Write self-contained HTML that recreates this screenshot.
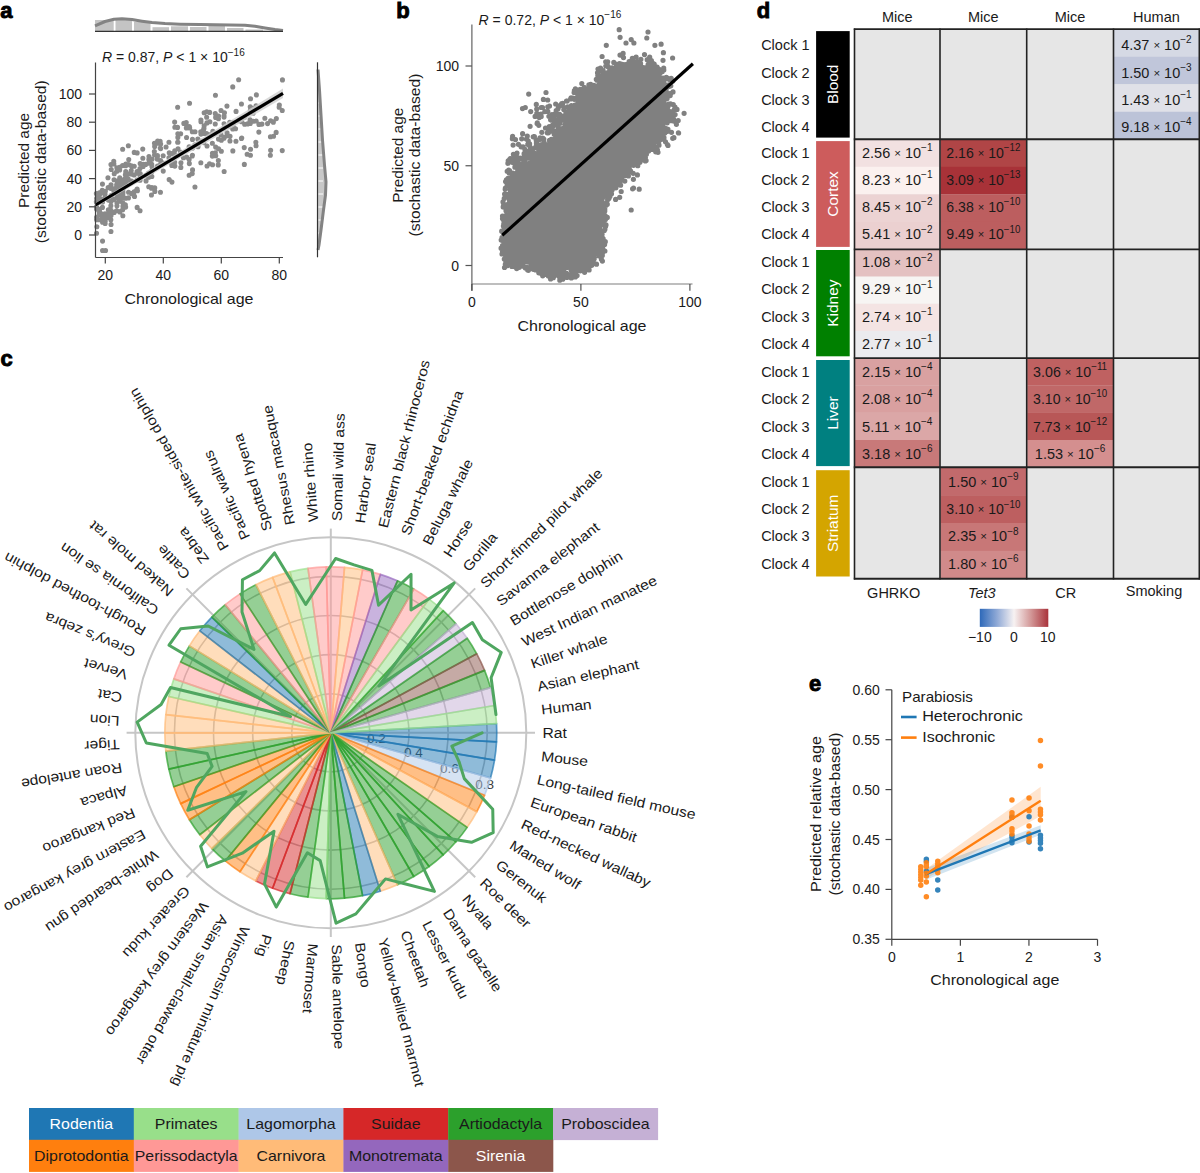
<!DOCTYPE html>
<html><head><meta charset="utf-8"><style>html,body{margin:0;padding:0;background:#fff;}svg{display:block;}</style></head><body>
<svg width="1200" height="1173" viewBox="0 0 1200 1173">
<g font-family='"Liberation Sans", sans-serif' fill="#1a1a1a">
<text x="0.30" y="18.20" font-size="22" fill="#000" font-weight="bold" stroke="#000" stroke-width="0.9">a</text>
<rect x="95.00" y="20.00" width="18.70" height="11.30" fill="#c4c4c4"/>
<rect x="115.50" y="19.20" width="16.50" height="12.10" fill="#c4c4c4"/>
<rect x="134.00" y="21.70" width="16.50" height="9.60" fill="#c4c4c4"/>
<rect x="152.50" y="27.20" width="16.50" height="4.10" fill="#c4c4c4"/>
<rect x="171.00" y="26.30" width="17.00" height="5.00" fill="#c4c4c4"/>
<rect x="190.00" y="27.00" width="16.50" height="4.30" fill="#c4c4c4"/>
<rect x="208.50" y="26.00" width="16.50" height="5.30" fill="#c4c4c4"/>
<rect x="227.00" y="28.00" width="16.50" height="3.30" fill="#c4c4c4"/>
<rect x="245.50" y="29.50" width="17.50" height="1.80" fill="#c4c4c4"/>
<path d="M95.00 25.80L105.00 21.50L114.00 19.20L122.00 18.80L132.00 19.60L142.00 21.20L152.00 22.60L165.00 23.60L180.00 24.20L200.00 24.60L215.00 24.80L230.00 25.00L245.00 25.20L255.00 26.20L265.00 28.00L275.00 29.60L283.00 30.60" fill="none" stroke="#838383" stroke-width="3" stroke-linejoin="round"/>
<line x1="95.00" y1="31.30" x2="283.00" y2="31.30" stroke="#333" stroke-width="1.2"/>
<path d="M318.00 69.50L318.00 69.50L319.50 90.00L321.00 115.00L322.50 140.00L324.50 165.00L326.00 182.00L325.50 195.00L323.50 210.00L321.00 230.00L319.00 245.00L318.00 250.00L318.00 250.00Z" fill="#c8c8c8" stroke="none" stroke-width="1"/>
<line x1="318.30" y1="90.00" x2="323.00" y2="90.00" stroke="#fff" stroke-width="1"/>
<line x1="318.30" y1="103.00" x2="323.00" y2="103.00" stroke="#fff" stroke-width="1"/>
<line x1="318.30" y1="116.00" x2="323.00" y2="116.00" stroke="#fff" stroke-width="1"/>
<line x1="318.30" y1="129.00" x2="323.00" y2="129.00" stroke="#fff" stroke-width="1"/>
<line x1="318.30" y1="142.00" x2="323.00" y2="142.00" stroke="#fff" stroke-width="1"/>
<line x1="318.30" y1="155.00" x2="323.00" y2="155.00" stroke="#fff" stroke-width="1"/>
<line x1="318.30" y1="168.00" x2="323.00" y2="168.00" stroke="#fff" stroke-width="1"/>
<line x1="318.30" y1="181.00" x2="323.00" y2="181.00" stroke="#fff" stroke-width="1"/>
<line x1="318.30" y1="194.00" x2="323.00" y2="194.00" stroke="#fff" stroke-width="1"/>
<line x1="318.30" y1="207.00" x2="323.00" y2="207.00" stroke="#fff" stroke-width="1"/>
<line x1="318.30" y1="220.00" x2="323.00" y2="220.00" stroke="#fff" stroke-width="1"/>
<line x1="318.30" y1="233.00" x2="323.00" y2="233.00" stroke="#fff" stroke-width="1"/>
<line x1="318.30" y1="246.00" x2="323.00" y2="246.00" stroke="#fff" stroke-width="1"/>
<path d="M318.00 69.50L319.50 90.00L321.00 115.00L322.50 140.00L324.50 165.00L326.00 182.00L325.50 195.00L323.50 210.00L321.00 230.00L319.00 245.00L318.00 250.00" fill="none" stroke="#838383" stroke-width="3" stroke-linejoin="round"/>
<line x1="317.50" y1="62.30" x2="317.50" y2="257.30" stroke="#333" stroke-width="1.2"/>
<path d="M99.6 192.9a2.55 2.55 0 1 0 5.1 0a2.55 2.55 0 1 0 -5.1 0M94.0 217.2a2.55 2.55 0 1 0 5.1 0a2.55 2.55 0 1 0 -5.1 0M93.8 201.8a2.55 2.55 0 1 0 5.1 0a2.55 2.55 0 1 0 -5.1 0M102.5 213.8a2.55 2.55 0 1 0 5.1 0a2.55 2.55 0 1 0 -5.1 0M94.1 217.3a2.55 2.55 0 1 0 5.1 0a2.55 2.55 0 1 0 -5.1 0M97.0 212.2a2.55 2.55 0 1 0 5.1 0a2.55 2.55 0 1 0 -5.1 0M94.3 226.8a2.55 2.55 0 1 0 5.1 0a2.55 2.55 0 1 0 -5.1 0M94.1 219.7a2.55 2.55 0 1 0 5.1 0a2.55 2.55 0 1 0 -5.1 0M96.7 212.7a2.55 2.55 0 1 0 5.1 0a2.55 2.55 0 1 0 -5.1 0M99.9 199.8a2.55 2.55 0 1 0 5.1 0a2.55 2.55 0 1 0 -5.1 0M96.8 192.8a2.55 2.55 0 1 0 5.1 0a2.55 2.55 0 1 0 -5.1 0M94.1 198.5a2.55 2.55 0 1 0 5.1 0a2.55 2.55 0 1 0 -5.1 0M94.0 233.3a2.55 2.55 0 1 0 5.1 0a2.55 2.55 0 1 0 -5.1 0M102.9 216.8a2.55 2.55 0 1 0 5.1 0a2.55 2.55 0 1 0 -5.1 0M102.6 223.5a2.55 2.55 0 1 0 5.1 0a2.55 2.55 0 1 0 -5.1 0M97.1 219.8a2.55 2.55 0 1 0 5.1 0a2.55 2.55 0 1 0 -5.1 0M96.9 197.9a2.55 2.55 0 1 0 5.1 0a2.55 2.55 0 1 0 -5.1 0M100.0 201.9a2.55 2.55 0 1 0 5.1 0a2.55 2.55 0 1 0 -5.1 0M99.9 214.0a2.55 2.55 0 1 0 5.1 0a2.55 2.55 0 1 0 -5.1 0M97.1 214.5a2.55 2.55 0 1 0 5.1 0a2.55 2.55 0 1 0 -5.1 0M97.2 194.2a2.55 2.55 0 1 0 5.1 0a2.55 2.55 0 1 0 -5.1 0M94.2 218.9a2.55 2.55 0 1 0 5.1 0a2.55 2.55 0 1 0 -5.1 0M99.8 217.3a2.55 2.55 0 1 0 5.1 0a2.55 2.55 0 1 0 -5.1 0M102.5 194.2a2.55 2.55 0 1 0 5.1 0a2.55 2.55 0 1 0 -5.1 0M94.1 193.7a2.55 2.55 0 1 0 5.1 0a2.55 2.55 0 1 0 -5.1 0M94.2 218.3a2.55 2.55 0 1 0 5.1 0a2.55 2.55 0 1 0 -5.1 0M100.0 241.1a2.55 2.55 0 1 0 5.1 0a2.55 2.55 0 1 0 -5.1 0M100.0 250.5a2.55 2.55 0 1 0 5.1 0a2.55 2.55 0 1 0 -5.1 0M99.7 190.3a2.55 2.55 0 1 0 5.1 0a2.55 2.55 0 1 0 -5.1 0M94.0 209.1a2.55 2.55 0 1 0 5.1 0a2.55 2.55 0 1 0 -5.1 0M96.8 209.3a2.55 2.55 0 1 0 5.1 0a2.55 2.55 0 1 0 -5.1 0M103.0 216.4a2.55 2.55 0 1 0 5.1 0a2.55 2.55 0 1 0 -5.1 0M102.8 191.3a2.55 2.55 0 1 0 5.1 0a2.55 2.55 0 1 0 -5.1 0M97.1 201.4a2.55 2.55 0 1 0 5.1 0a2.55 2.55 0 1 0 -5.1 0M100.0 222.3a2.55 2.55 0 1 0 5.1 0a2.55 2.55 0 1 0 -5.1 0M103.0 250.5a2.55 2.55 0 1 0 5.1 0a2.55 2.55 0 1 0 -5.1 0M97.0 201.9a2.55 2.55 0 1 0 5.1 0a2.55 2.55 0 1 0 -5.1 0M94.0 206.9a2.55 2.55 0 1 0 5.1 0a2.55 2.55 0 1 0 -5.1 0M96.9 210.4a2.55 2.55 0 1 0 5.1 0a2.55 2.55 0 1 0 -5.1 0M99.9 207.4a2.55 2.55 0 1 0 5.1 0a2.55 2.55 0 1 0 -5.1 0M99.9 184.1a2.55 2.55 0 1 0 5.1 0a2.55 2.55 0 1 0 -5.1 0M94.0 219.3a2.55 2.55 0 1 0 5.1 0a2.55 2.55 0 1 0 -5.1 0M102.7 221.1a2.55 2.55 0 1 0 5.1 0a2.55 2.55 0 1 0 -5.1 0M102.5 197.4a2.55 2.55 0 1 0 5.1 0a2.55 2.55 0 1 0 -5.1 0M93.8 193.6a2.55 2.55 0 1 0 5.1 0a2.55 2.55 0 1 0 -5.1 0M117.0 194.5a2.55 2.55 0 1 0 5.1 0a2.55 2.55 0 1 0 -5.1 0M105.9 217.5a2.55 2.55 0 1 0 5.1 0a2.55 2.55 0 1 0 -5.1 0M117.0 201.2a2.55 2.55 0 1 0 5.1 0a2.55 2.55 0 1 0 -5.1 0M123.1 185.6a2.55 2.55 0 1 0 5.1 0a2.55 2.55 0 1 0 -5.1 0M111.5 179.7a2.55 2.55 0 1 0 5.1 0a2.55 2.55 0 1 0 -5.1 0M114.6 170.5a2.55 2.55 0 1 0 5.1 0a2.55 2.55 0 1 0 -5.1 0M114.3 171.2a2.55 2.55 0 1 0 5.1 0a2.55 2.55 0 1 0 -5.1 0M111.4 188.8a2.55 2.55 0 1 0 5.1 0a2.55 2.55 0 1 0 -5.1 0M111.4 191.5a2.55 2.55 0 1 0 5.1 0a2.55 2.55 0 1 0 -5.1 0M120.4 189.4a2.55 2.55 0 1 0 5.1 0a2.55 2.55 0 1 0 -5.1 0M117.2 189.6a2.55 2.55 0 1 0 5.1 0a2.55 2.55 0 1 0 -5.1 0M120.2 195.1a2.55 2.55 0 1 0 5.1 0a2.55 2.55 0 1 0 -5.1 0M120.4 192.4a2.55 2.55 0 1 0 5.1 0a2.55 2.55 0 1 0 -5.1 0M120.4 179.7a2.55 2.55 0 1 0 5.1 0a2.55 2.55 0 1 0 -5.1 0M111.6 212.4a2.55 2.55 0 1 0 5.1 0a2.55 2.55 0 1 0 -5.1 0M117.3 212.0a2.55 2.55 0 1 0 5.1 0a2.55 2.55 0 1 0 -5.1 0M117.4 197.9a2.55 2.55 0 1 0 5.1 0a2.55 2.55 0 1 0 -5.1 0M123.2 171.5a2.55 2.55 0 1 0 5.1 0a2.55 2.55 0 1 0 -5.1 0M120.3 215.8a2.55 2.55 0 1 0 5.1 0a2.55 2.55 0 1 0 -5.1 0M108.3 212.7a2.55 2.55 0 1 0 5.1 0a2.55 2.55 0 1 0 -5.1 0M105.8 200.1a2.55 2.55 0 1 0 5.1 0a2.55 2.55 0 1 0 -5.1 0M114.6 195.6a2.55 2.55 0 1 0 5.1 0a2.55 2.55 0 1 0 -5.1 0M114.5 168.2a2.55 2.55 0 1 0 5.1 0a2.55 2.55 0 1 0 -5.1 0M120.1 149.3a2.55 2.55 0 1 0 5.1 0a2.55 2.55 0 1 0 -5.1 0M108.3 200.1a2.55 2.55 0 1 0 5.1 0a2.55 2.55 0 1 0 -5.1 0M114.4 190.4a2.55 2.55 0 1 0 5.1 0a2.55 2.55 0 1 0 -5.1 0M117.5 181.9a2.55 2.55 0 1 0 5.1 0a2.55 2.55 0 1 0 -5.1 0M114.4 181.0a2.55 2.55 0 1 0 5.1 0a2.55 2.55 0 1 0 -5.1 0M123.1 198.3a2.55 2.55 0 1 0 5.1 0a2.55 2.55 0 1 0 -5.1 0M114.3 188.4a2.55 2.55 0 1 0 5.1 0a2.55 2.55 0 1 0 -5.1 0M108.5 224.5a2.55 2.55 0 1 0 5.1 0a2.55 2.55 0 1 0 -5.1 0M120.4 206.4a2.55 2.55 0 1 0 5.1 0a2.55 2.55 0 1 0 -5.1 0M114.3 167.7a2.55 2.55 0 1 0 5.1 0a2.55 2.55 0 1 0 -5.1 0M120.0 165.6a2.55 2.55 0 1 0 5.1 0a2.55 2.55 0 1 0 -5.1 0M108.3 205.8a2.55 2.55 0 1 0 5.1 0a2.55 2.55 0 1 0 -5.1 0M117.0 167.4a2.55 2.55 0 1 0 5.1 0a2.55 2.55 0 1 0 -5.1 0M123.1 207.1a2.55 2.55 0 1 0 5.1 0a2.55 2.55 0 1 0 -5.1 0M114.4 202.8a2.55 2.55 0 1 0 5.1 0a2.55 2.55 0 1 0 -5.1 0M108.3 210.1a2.55 2.55 0 1 0 5.1 0a2.55 2.55 0 1 0 -5.1 0M123.1 165.8a2.55 2.55 0 1 0 5.1 0a2.55 2.55 0 1 0 -5.1 0M108.5 201.4a2.55 2.55 0 1 0 5.1 0a2.55 2.55 0 1 0 -5.1 0M122.8 178.2a2.55 2.55 0 1 0 5.1 0a2.55 2.55 0 1 0 -5.1 0M108.4 164.5a2.55 2.55 0 1 0 5.1 0a2.55 2.55 0 1 0 -5.1 0M108.6 195.6a2.55 2.55 0 1 0 5.1 0a2.55 2.55 0 1 0 -5.1 0M122.8 204.9a2.55 2.55 0 1 0 5.1 0a2.55 2.55 0 1 0 -5.1 0M120.2 202.7a2.55 2.55 0 1 0 5.1 0a2.55 2.55 0 1 0 -5.1 0M117.2 177.8a2.55 2.55 0 1 0 5.1 0a2.55 2.55 0 1 0 -5.1 0M117.3 186.1a2.55 2.55 0 1 0 5.1 0a2.55 2.55 0 1 0 -5.1 0M123.0 182.8a2.55 2.55 0 1 0 5.1 0a2.55 2.55 0 1 0 -5.1 0M108.3 219.7a2.55 2.55 0 1 0 5.1 0a2.55 2.55 0 1 0 -5.1 0M108.5 215.4a2.55 2.55 0 1 0 5.1 0a2.55 2.55 0 1 0 -5.1 0M120.3 186.9a2.55 2.55 0 1 0 5.1 0a2.55 2.55 0 1 0 -5.1 0M117.3 188.6a2.55 2.55 0 1 0 5.1 0a2.55 2.55 0 1 0 -5.1 0M122.8 184.1a2.55 2.55 0 1 0 5.1 0a2.55 2.55 0 1 0 -5.1 0M108.4 231.5a2.55 2.55 0 1 0 5.1 0a2.55 2.55 0 1 0 -5.1 0M122.8 174.7a2.55 2.55 0 1 0 5.1 0a2.55 2.55 0 1 0 -5.1 0M105.6 187.6a2.55 2.55 0 1 0 5.1 0a2.55 2.55 0 1 0 -5.1 0M117.1 169.9a2.55 2.55 0 1 0 5.1 0a2.55 2.55 0 1 0 -5.1 0M111.4 199.4a2.55 2.55 0 1 0 5.1 0a2.55 2.55 0 1 0 -5.1 0M117.1 185.6a2.55 2.55 0 1 0 5.1 0a2.55 2.55 0 1 0 -5.1 0M117.5 211.6a2.55 2.55 0 1 0 5.1 0a2.55 2.55 0 1 0 -5.1 0M111.3 163.9a2.55 2.55 0 1 0 5.1 0a2.55 2.55 0 1 0 -5.1 0M114.1 210.8a2.55 2.55 0 1 0 5.1 0a2.55 2.55 0 1 0 -5.1 0M105.8 209.8a2.55 2.55 0 1 0 5.1 0a2.55 2.55 0 1 0 -5.1 0M114.1 184.9a2.55 2.55 0 1 0 5.1 0a2.55 2.55 0 1 0 -5.1 0M120.3 194.1a2.55 2.55 0 1 0 5.1 0a2.55 2.55 0 1 0 -5.1 0M120.2 183.1a2.55 2.55 0 1 0 5.1 0a2.55 2.55 0 1 0 -5.1 0M111.7 173.7a2.55 2.55 0 1 0 5.1 0a2.55 2.55 0 1 0 -5.1 0M108.7 169.5a2.55 2.55 0 1 0 5.1 0a2.55 2.55 0 1 0 -5.1 0M105.9 214.0a2.55 2.55 0 1 0 5.1 0a2.55 2.55 0 1 0 -5.1 0M122.9 178.2a2.55 2.55 0 1 0 5.1 0a2.55 2.55 0 1 0 -5.1 0M120.1 209.8a2.55 2.55 0 1 0 5.1 0a2.55 2.55 0 1 0 -5.1 0M108.5 188.4a2.55 2.55 0 1 0 5.1 0a2.55 2.55 0 1 0 -5.1 0M105.7 198.9a2.55 2.55 0 1 0 5.1 0a2.55 2.55 0 1 0 -5.1 0M114.5 197.4a2.55 2.55 0 1 0 5.1 0a2.55 2.55 0 1 0 -5.1 0M114.4 205.7a2.55 2.55 0 1 0 5.1 0a2.55 2.55 0 1 0 -5.1 0M105.4 177.7a2.55 2.55 0 1 0 5.1 0a2.55 2.55 0 1 0 -5.1 0M122.8 185.2a2.55 2.55 0 1 0 5.1 0a2.55 2.55 0 1 0 -5.1 0M111.2 161.2a2.55 2.55 0 1 0 5.1 0a2.55 2.55 0 1 0 -5.1 0M123.2 178.0a2.55 2.55 0 1 0 5.1 0a2.55 2.55 0 1 0 -5.1 0M123.3 164.1a2.55 2.55 0 1 0 5.1 0a2.55 2.55 0 1 0 -5.1 0M123.1 173.6a2.55 2.55 0 1 0 5.1 0a2.55 2.55 0 1 0 -5.1 0M117.3 198.4a2.55 2.55 0 1 0 5.1 0a2.55 2.55 0 1 0 -5.1 0M120.3 197.7a2.55 2.55 0 1 0 5.1 0a2.55 2.55 0 1 0 -5.1 0M108.5 184.8a2.55 2.55 0 1 0 5.1 0a2.55 2.55 0 1 0 -5.1 0M128.6 181.7a2.55 2.55 0 1 0 5.1 0a2.55 2.55 0 1 0 -5.1 0M137.3 174.6a2.55 2.55 0 1 0 5.1 0a2.55 2.55 0 1 0 -5.1 0M134.6 152.9a2.55 2.55 0 1 0 5.1 0a2.55 2.55 0 1 0 -5.1 0M140.7 164.4a2.55 2.55 0 1 0 5.1 0a2.55 2.55 0 1 0 -5.1 0M143.1 164.4a2.55 2.55 0 1 0 5.1 0a2.55 2.55 0 1 0 -5.1 0M149.3 176.5a2.55 2.55 0 1 0 5.1 0a2.55 2.55 0 1 0 -5.1 0M128.7 170.6a2.55 2.55 0 1 0 5.1 0a2.55 2.55 0 1 0 -5.1 0M137.6 179.3a2.55 2.55 0 1 0 5.1 0a2.55 2.55 0 1 0 -5.1 0M149.2 170.9a2.55 2.55 0 1 0 5.1 0a2.55 2.55 0 1 0 -5.1 0M131.6 191.7a2.55 2.55 0 1 0 5.1 0a2.55 2.55 0 1 0 -5.1 0M125.7 179.0a2.55 2.55 0 1 0 5.1 0a2.55 2.55 0 1 0 -5.1 0M149.2 171.7a2.55 2.55 0 1 0 5.1 0a2.55 2.55 0 1 0 -5.1 0M134.6 189.1a2.55 2.55 0 1 0 5.1 0a2.55 2.55 0 1 0 -5.1 0M143.4 175.3a2.55 2.55 0 1 0 5.1 0a2.55 2.55 0 1 0 -5.1 0M149.2 164.4a2.55 2.55 0 1 0 5.1 0a2.55 2.55 0 1 0 -5.1 0M134.9 190.7a2.55 2.55 0 1 0 5.1 0a2.55 2.55 0 1 0 -5.1 0M140.6 166.5a2.55 2.55 0 1 0 5.1 0a2.55 2.55 0 1 0 -5.1 0M131.7 152.4a2.55 2.55 0 1 0 5.1 0a2.55 2.55 0 1 0 -5.1 0M140.2 149.1a2.55 2.55 0 1 0 5.1 0a2.55 2.55 0 1 0 -5.1 0M137.5 180.2a2.55 2.55 0 1 0 5.1 0a2.55 2.55 0 1 0 -5.1 0M126.2 159.5a2.55 2.55 0 1 0 5.1 0a2.55 2.55 0 1 0 -5.1 0M137.6 163.5a2.55 2.55 0 1 0 5.1 0a2.55 2.55 0 1 0 -5.1 0M137.4 168.5a2.55 2.55 0 1 0 5.1 0a2.55 2.55 0 1 0 -5.1 0M125.8 180.3a2.55 2.55 0 1 0 5.1 0a2.55 2.55 0 1 0 -5.1 0M140.3 158.3a2.55 2.55 0 1 0 5.1 0a2.55 2.55 0 1 0 -5.1 0M137.4 180.2a2.55 2.55 0 1 0 5.1 0a2.55 2.55 0 1 0 -5.1 0M131.7 166.2a2.55 2.55 0 1 0 5.1 0a2.55 2.55 0 1 0 -5.1 0M149.2 171.5a2.55 2.55 0 1 0 5.1 0a2.55 2.55 0 1 0 -5.1 0M134.5 180.0a2.55 2.55 0 1 0 5.1 0a2.55 2.55 0 1 0 -5.1 0M128.6 181.5a2.55 2.55 0 1 0 5.1 0a2.55 2.55 0 1 0 -5.1 0M126.0 192.2a2.55 2.55 0 1 0 5.1 0a2.55 2.55 0 1 0 -5.1 0M128.9 174.1a2.55 2.55 0 1 0 5.1 0a2.55 2.55 0 1 0 -5.1 0M149.4 166.6a2.55 2.55 0 1 0 5.1 0a2.55 2.55 0 1 0 -5.1 0M143.5 180.9a2.55 2.55 0 1 0 5.1 0a2.55 2.55 0 1 0 -5.1 0M146.3 159.6a2.55 2.55 0 1 0 5.1 0a2.55 2.55 0 1 0 -5.1 0M126.1 164.6a2.55 2.55 0 1 0 5.1 0a2.55 2.55 0 1 0 -5.1 0M149.3 187.5a2.55 2.55 0 1 0 5.1 0a2.55 2.55 0 1 0 -5.1 0M132.0 196.5a2.55 2.55 0 1 0 5.1 0a2.55 2.55 0 1 0 -5.1 0M148.9 195.0a2.55 2.55 0 1 0 5.1 0a2.55 2.55 0 1 0 -5.1 0M134.4 189.4a2.55 2.55 0 1 0 5.1 0a2.55 2.55 0 1 0 -5.1 0M125.7 173.9a2.55 2.55 0 1 0 5.1 0a2.55 2.55 0 1 0 -5.1 0M146.3 163.1a2.55 2.55 0 1 0 5.1 0a2.55 2.55 0 1 0 -5.1 0M125.9 197.8a2.55 2.55 0 1 0 5.1 0a2.55 2.55 0 1 0 -5.1 0M125.9 198.0a2.55 2.55 0 1 0 5.1 0a2.55 2.55 0 1 0 -5.1 0M128.9 181.6a2.55 2.55 0 1 0 5.1 0a2.55 2.55 0 1 0 -5.1 0M148.9 188.2a2.55 2.55 0 1 0 5.1 0a2.55 2.55 0 1 0 -5.1 0M146.1 173.0a2.55 2.55 0 1 0 5.1 0a2.55 2.55 0 1 0 -5.1 0M134.5 173.1a2.55 2.55 0 1 0 5.1 0a2.55 2.55 0 1 0 -5.1 0M146.2 186.8a2.55 2.55 0 1 0 5.1 0a2.55 2.55 0 1 0 -5.1 0M137.7 176.7a2.55 2.55 0 1 0 5.1 0a2.55 2.55 0 1 0 -5.1 0M134.5 171.6a2.55 2.55 0 1 0 5.1 0a2.55 2.55 0 1 0 -5.1 0M137.6 173.5a2.55 2.55 0 1 0 5.1 0a2.55 2.55 0 1 0 -5.1 0M131.6 175.0a2.55 2.55 0 1 0 5.1 0a2.55 2.55 0 1 0 -5.1 0M129.0 181.0a2.55 2.55 0 1 0 5.1 0a2.55 2.55 0 1 0 -5.1 0M146.2 177.3a2.55 2.55 0 1 0 5.1 0a2.55 2.55 0 1 0 -5.1 0M146.4 156.5a2.55 2.55 0 1 0 5.1 0a2.55 2.55 0 1 0 -5.1 0M149.4 159.3a2.55 2.55 0 1 0 5.1 0a2.55 2.55 0 1 0 -5.1 0M125.8 145.8a2.55 2.55 0 1 0 5.1 0a2.55 2.55 0 1 0 -5.1 0M128.8 165.7a2.55 2.55 0 1 0 5.1 0a2.55 2.55 0 1 0 -5.1 0M137.5 210.7a2.55 2.55 0 1 0 5.1 0a2.55 2.55 0 1 0 -5.1 0M134.8 173.1a2.55 2.55 0 1 0 5.1 0a2.55 2.55 0 1 0 -5.1 0M137.8 174.4a2.55 2.55 0 1 0 5.1 0a2.55 2.55 0 1 0 -5.1 0M131.6 195.9a2.55 2.55 0 1 0 5.1 0a2.55 2.55 0 1 0 -5.1 0M129.0 193.5a2.55 2.55 0 1 0 5.1 0a2.55 2.55 0 1 0 -5.1 0M134.6 207.4a2.55 2.55 0 1 0 5.1 0a2.55 2.55 0 1 0 -5.1 0M154.7 159.1a2.55 2.55 0 1 0 5.1 0a2.55 2.55 0 1 0 -5.1 0M160.9 163.3a2.55 2.55 0 1 0 5.1 0a2.55 2.55 0 1 0 -5.1 0M160.7 171.1a2.55 2.55 0 1 0 5.1 0a2.55 2.55 0 1 0 -5.1 0M157.7 148.1a2.55 2.55 0 1 0 5.1 0a2.55 2.55 0 1 0 -5.1 0M158.1 148.6a2.55 2.55 0 1 0 5.1 0a2.55 2.55 0 1 0 -5.1 0M151.8 151.5a2.55 2.55 0 1 0 5.1 0a2.55 2.55 0 1 0 -5.1 0M166.4 157.7a2.55 2.55 0 1 0 5.1 0a2.55 2.55 0 1 0 -5.1 0M158.1 144.0a2.55 2.55 0 1 0 5.1 0a2.55 2.55 0 1 0 -5.1 0M152.0 154.9a2.55 2.55 0 1 0 5.1 0a2.55 2.55 0 1 0 -5.1 0M160.6 155.7a2.55 2.55 0 1 0 5.1 0a2.55 2.55 0 1 0 -5.1 0M152.3 191.4a2.55 2.55 0 1 0 5.1 0a2.55 2.55 0 1 0 -5.1 0M158.1 164.0a2.55 2.55 0 1 0 5.1 0a2.55 2.55 0 1 0 -5.1 0M160.8 163.4a2.55 2.55 0 1 0 5.1 0a2.55 2.55 0 1 0 -5.1 0M154.9 155.6a2.55 2.55 0 1 0 5.1 0a2.55 2.55 0 1 0 -5.1 0M152.2 187.9a2.55 2.55 0 1 0 5.1 0a2.55 2.55 0 1 0 -5.1 0M166.6 179.6a2.55 2.55 0 1 0 5.1 0a2.55 2.55 0 1 0 -5.1 0M155.1 141.0a2.55 2.55 0 1 0 5.1 0a2.55 2.55 0 1 0 -5.1 0M152.1 146.4a2.55 2.55 0 1 0 5.1 0a2.55 2.55 0 1 0 -5.1 0M155.0 166.0a2.55 2.55 0 1 0 5.1 0a2.55 2.55 0 1 0 -5.1 0M157.9 192.2a2.55 2.55 0 1 0 5.1 0a2.55 2.55 0 1 0 -5.1 0M154.9 156.5a2.55 2.55 0 1 0 5.1 0a2.55 2.55 0 1 0 -5.1 0M158.0 160.5a2.55 2.55 0 1 0 5.1 0a2.55 2.55 0 1 0 -5.1 0M166.4 142.2a2.55 2.55 0 1 0 5.1 0a2.55 2.55 0 1 0 -5.1 0M166.7 152.7a2.55 2.55 0 1 0 5.1 0a2.55 2.55 0 1 0 -5.1 0M151.9 143.2a2.55 2.55 0 1 0 5.1 0a2.55 2.55 0 1 0 -5.1 0M155.1 143.3a2.55 2.55 0 1 0 5.1 0a2.55 2.55 0 1 0 -5.1 0M163.5 147.0a2.55 2.55 0 1 0 5.1 0a2.55 2.55 0 1 0 -5.1 0M157.6 141.2a2.55 2.55 0 1 0 5.1 0a2.55 2.55 0 1 0 -5.1 0M172.2 150.8a2.55 2.55 0 1 0 5.1 0a2.55 2.55 0 1 0 -5.1 0M172.2 154.8a2.55 2.55 0 1 0 5.1 0a2.55 2.55 0 1 0 -5.1 0M175.4 142.3a2.55 2.55 0 1 0 5.1 0a2.55 2.55 0 1 0 -5.1 0M172.3 127.2a2.55 2.55 0 1 0 5.1 0a2.55 2.55 0 1 0 -5.1 0M178.3 167.4a2.55 2.55 0 1 0 5.1 0a2.55 2.55 0 1 0 -5.1 0M172.1 162.3a2.55 2.55 0 1 0 5.1 0a2.55 2.55 0 1 0 -5.1 0M175.3 137.4a2.55 2.55 0 1 0 5.1 0a2.55 2.55 0 1 0 -5.1 0M175.3 133.7a2.55 2.55 0 1 0 5.1 0a2.55 2.55 0 1 0 -5.1 0M187.1 127.9a2.55 2.55 0 1 0 5.1 0a2.55 2.55 0 1 0 -5.1 0M169.4 153.6a2.55 2.55 0 1 0 5.1 0a2.55 2.55 0 1 0 -5.1 0M178.1 133.8a2.55 2.55 0 1 0 5.1 0a2.55 2.55 0 1 0 -5.1 0M175.0 127.4a2.55 2.55 0 1 0 5.1 0a2.55 2.55 0 1 0 -5.1 0M169.4 182.1a2.55 2.55 0 1 0 5.1 0a2.55 2.55 0 1 0 -5.1 0M186.9 126.9a2.55 2.55 0 1 0 5.1 0a2.55 2.55 0 1 0 -5.1 0M169.2 164.5a2.55 2.55 0 1 0 5.1 0a2.55 2.55 0 1 0 -5.1 0M186.8 163.6a2.55 2.55 0 1 0 5.1 0a2.55 2.55 0 1 0 -5.1 0M186.6 146.9a2.55 2.55 0 1 0 5.1 0a2.55 2.55 0 1 0 -5.1 0M172.1 122.1a2.55 2.55 0 1 0 5.1 0a2.55 2.55 0 1 0 -5.1 0M187.0 103.3a2.55 2.55 0 1 0 5.1 0a2.55 2.55 0 1 0 -5.1 0M183.7 122.6a2.55 2.55 0 1 0 5.1 0a2.55 2.55 0 1 0 -5.1 0M186.6 175.3a2.55 2.55 0 1 0 5.1 0a2.55 2.55 0 1 0 -5.1 0M186.6 126.6a2.55 2.55 0 1 0 5.1 0a2.55 2.55 0 1 0 -5.1 0M183.8 127.9a2.55 2.55 0 1 0 5.1 0a2.55 2.55 0 1 0 -5.1 0M172.3 166.1a2.55 2.55 0 1 0 5.1 0a2.55 2.55 0 1 0 -5.1 0M186.6 159.4a2.55 2.55 0 1 0 5.1 0a2.55 2.55 0 1 0 -5.1 0M169.3 165.5a2.55 2.55 0 1 0 5.1 0a2.55 2.55 0 1 0 -5.1 0M175.1 107.2a2.55 2.55 0 1 0 5.1 0a2.55 2.55 0 1 0 -5.1 0M181.3 123.4a2.55 2.55 0 1 0 5.1 0a2.55 2.55 0 1 0 -5.1 0M175.5 148.8a2.55 2.55 0 1 0 5.1 0a2.55 2.55 0 1 0 -5.1 0M184.0 137.5a2.55 2.55 0 1 0 5.1 0a2.55 2.55 0 1 0 -5.1 0M180.9 157.7a2.55 2.55 0 1 0 5.1 0a2.55 2.55 0 1 0 -5.1 0M177.9 152.0a2.55 2.55 0 1 0 5.1 0a2.55 2.55 0 1 0 -5.1 0M178.4 162.7a2.55 2.55 0 1 0 5.1 0a2.55 2.55 0 1 0 -5.1 0M184.1 157.1a2.55 2.55 0 1 0 5.1 0a2.55 2.55 0 1 0 -5.1 0M175.1 142.2a2.55 2.55 0 1 0 5.1 0a2.55 2.55 0 1 0 -5.1 0M189.7 155.9a2.55 2.55 0 1 0 5.1 0a2.55 2.55 0 1 0 -5.1 0M207.0 163.8a2.55 2.55 0 1 0 5.1 0a2.55 2.55 0 1 0 -5.1 0M201.2 142.6a2.55 2.55 0 1 0 5.1 0a2.55 2.55 0 1 0 -5.1 0M198.3 162.7a2.55 2.55 0 1 0 5.1 0a2.55 2.55 0 1 0 -5.1 0M198.6 141.2a2.55 2.55 0 1 0 5.1 0a2.55 2.55 0 1 0 -5.1 0M201.1 129.4a2.55 2.55 0 1 0 5.1 0a2.55 2.55 0 1 0 -5.1 0M210.0 164.8a2.55 2.55 0 1 0 5.1 0a2.55 2.55 0 1 0 -5.1 0M190.0 169.9a2.55 2.55 0 1 0 5.1 0a2.55 2.55 0 1 0 -5.1 0M195.3 139.1a2.55 2.55 0 1 0 5.1 0a2.55 2.55 0 1 0 -5.1 0M195.5 146.7a2.55 2.55 0 1 0 5.1 0a2.55 2.55 0 1 0 -5.1 0M189.9 139.4a2.55 2.55 0 1 0 5.1 0a2.55 2.55 0 1 0 -5.1 0M204.4 122.9a2.55 2.55 0 1 0 5.1 0a2.55 2.55 0 1 0 -5.1 0M192.5 131.7a2.55 2.55 0 1 0 5.1 0a2.55 2.55 0 1 0 -5.1 0M209.8 143.3a2.55 2.55 0 1 0 5.1 0a2.55 2.55 0 1 0 -5.1 0M207.1 112.4a2.55 2.55 0 1 0 5.1 0a2.55 2.55 0 1 0 -5.1 0M192.4 187.0a2.55 2.55 0 1 0 5.1 0a2.55 2.55 0 1 0 -5.1 0M201.6 125.8a2.55 2.55 0 1 0 5.1 0a2.55 2.55 0 1 0 -5.1 0M198.4 134.1a2.55 2.55 0 1 0 5.1 0a2.55 2.55 0 1 0 -5.1 0M201.1 133.4a2.55 2.55 0 1 0 5.1 0a2.55 2.55 0 1 0 -5.1 0M209.9 153.2a2.55 2.55 0 1 0 5.1 0a2.55 2.55 0 1 0 -5.1 0M210.3 131.4a2.55 2.55 0 1 0 5.1 0a2.55 2.55 0 1 0 -5.1 0M189.8 131.8a2.55 2.55 0 1 0 5.1 0a2.55 2.55 0 1 0 -5.1 0M198.2 131.7a2.55 2.55 0 1 0 5.1 0a2.55 2.55 0 1 0 -5.1 0M189.7 173.6a2.55 2.55 0 1 0 5.1 0a2.55 2.55 0 1 0 -5.1 0M190.0 148.1a2.55 2.55 0 1 0 5.1 0a2.55 2.55 0 1 0 -5.1 0M204.2 111.8a2.55 2.55 0 1 0 5.1 0a2.55 2.55 0 1 0 -5.1 0M204.1 117.2a2.55 2.55 0 1 0 5.1 0a2.55 2.55 0 1 0 -5.1 0M204.5 146.0a2.55 2.55 0 1 0 5.1 0a2.55 2.55 0 1 0 -5.1 0M201.6 112.8a2.55 2.55 0 1 0 5.1 0a2.55 2.55 0 1 0 -5.1 0M192.4 144.8a2.55 2.55 0 1 0 5.1 0a2.55 2.55 0 1 0 -5.1 0M198.4 121.7a2.55 2.55 0 1 0 5.1 0a2.55 2.55 0 1 0 -5.1 0M207.3 121.7a2.55 2.55 0 1 0 5.1 0a2.55 2.55 0 1 0 -5.1 0M207.1 134.8a2.55 2.55 0 1 0 5.1 0a2.55 2.55 0 1 0 -5.1 0M189.9 155.2a2.55 2.55 0 1 0 5.1 0a2.55 2.55 0 1 0 -5.1 0M201.4 128.4a2.55 2.55 0 1 0 5.1 0a2.55 2.55 0 1 0 -5.1 0M204.5 166.0a2.55 2.55 0 1 0 5.1 0a2.55 2.55 0 1 0 -5.1 0M209.8 156.1a2.55 2.55 0 1 0 5.1 0a2.55 2.55 0 1 0 -5.1 0M198.4 120.1a2.55 2.55 0 1 0 5.1 0a2.55 2.55 0 1 0 -5.1 0M195.3 144.0a2.55 2.55 0 1 0 5.1 0a2.55 2.55 0 1 0 -5.1 0M204.0 133.6a2.55 2.55 0 1 0 5.1 0a2.55 2.55 0 1 0 -5.1 0M230.2 86.9a2.55 2.55 0 1 0 5.1 0a2.55 2.55 0 1 0 -5.1 0M215.7 164.9a2.55 2.55 0 1 0 5.1 0a2.55 2.55 0 1 0 -5.1 0M230.3 150.9a2.55 2.55 0 1 0 5.1 0a2.55 2.55 0 1 0 -5.1 0M221.4 128.3a2.55 2.55 0 1 0 5.1 0a2.55 2.55 0 1 0 -5.1 0M233.4 141.3a2.55 2.55 0 1 0 5.1 0a2.55 2.55 0 1 0 -5.1 0M216.0 148.7a2.55 2.55 0 1 0 5.1 0a2.55 2.55 0 1 0 -5.1 0M224.5 133.1a2.55 2.55 0 1 0 5.1 0a2.55 2.55 0 1 0 -5.1 0M224.4 106.1a2.55 2.55 0 1 0 5.1 0a2.55 2.55 0 1 0 -5.1 0M221.5 123.7a2.55 2.55 0 1 0 5.1 0a2.55 2.55 0 1 0 -5.1 0M221.5 117.1a2.55 2.55 0 1 0 5.1 0a2.55 2.55 0 1 0 -5.1 0M230.4 124.4a2.55 2.55 0 1 0 5.1 0a2.55 2.55 0 1 0 -5.1 0M215.9 118.7a2.55 2.55 0 1 0 5.1 0a2.55 2.55 0 1 0 -5.1 0M213.1 117.4a2.55 2.55 0 1 0 5.1 0a2.55 2.55 0 1 0 -5.1 0M233.5 111.4a2.55 2.55 0 1 0 5.1 0a2.55 2.55 0 1 0 -5.1 0M212.7 124.0a2.55 2.55 0 1 0 5.1 0a2.55 2.55 0 1 0 -5.1 0M221.9 137.2a2.55 2.55 0 1 0 5.1 0a2.55 2.55 0 1 0 -5.1 0M227.5 136.3a2.55 2.55 0 1 0 5.1 0a2.55 2.55 0 1 0 -5.1 0M212.7 133.6a2.55 2.55 0 1 0 5.1 0a2.55 2.55 0 1 0 -5.1 0M227.2 122.4a2.55 2.55 0 1 0 5.1 0a2.55 2.55 0 1 0 -5.1 0M221.9 112.7a2.55 2.55 0 1 0 5.1 0a2.55 2.55 0 1 0 -5.1 0M212.8 152.7a2.55 2.55 0 1 0 5.1 0a2.55 2.55 0 1 0 -5.1 0M213.1 147.1a2.55 2.55 0 1 0 5.1 0a2.55 2.55 0 1 0 -5.1 0M230.2 129.0a2.55 2.55 0 1 0 5.1 0a2.55 2.55 0 1 0 -5.1 0M221.4 138.3a2.55 2.55 0 1 0 5.1 0a2.55 2.55 0 1 0 -5.1 0M233.0 128.7a2.55 2.55 0 1 0 5.1 0a2.55 2.55 0 1 0 -5.1 0M230.4 126.1a2.55 2.55 0 1 0 5.1 0a2.55 2.55 0 1 0 -5.1 0M218.5 134.7a2.55 2.55 0 1 0 5.1 0a2.55 2.55 0 1 0 -5.1 0M224.5 132.8a2.55 2.55 0 1 0 5.1 0a2.55 2.55 0 1 0 -5.1 0M224.3 135.8a2.55 2.55 0 1 0 5.1 0a2.55 2.55 0 1 0 -5.1 0M227.4 141.0a2.55 2.55 0 1 0 5.1 0a2.55 2.55 0 1 0 -5.1 0M212.9 95.2a2.55 2.55 0 1 0 5.1 0a2.55 2.55 0 1 0 -5.1 0M221.6 171.5a2.55 2.55 0 1 0 5.1 0a2.55 2.55 0 1 0 -5.1 0M230.6 123.8a2.55 2.55 0 1 0 5.1 0a2.55 2.55 0 1 0 -5.1 0M230.1 122.6a2.55 2.55 0 1 0 5.1 0a2.55 2.55 0 1 0 -5.1 0M215.8 160.5a2.55 2.55 0 1 0 5.1 0a2.55 2.55 0 1 0 -5.1 0M218.5 110.5a2.55 2.55 0 1 0 5.1 0a2.55 2.55 0 1 0 -5.1 0M213.2 155.7a2.55 2.55 0 1 0 5.1 0a2.55 2.55 0 1 0 -5.1 0M215.9 139.1a2.55 2.55 0 1 0 5.1 0a2.55 2.55 0 1 0 -5.1 0M227.4 126.6a2.55 2.55 0 1 0 5.1 0a2.55 2.55 0 1 0 -5.1 0M218.8 140.3a2.55 2.55 0 1 0 5.1 0a2.55 2.55 0 1 0 -5.1 0M216.0 116.1a2.55 2.55 0 1 0 5.1 0a2.55 2.55 0 1 0 -5.1 0M221.5 116.1a2.55 2.55 0 1 0 5.1 0a2.55 2.55 0 1 0 -5.1 0M212.7 113.6a2.55 2.55 0 1 0 5.1 0a2.55 2.55 0 1 0 -5.1 0M230.1 127.3a2.55 2.55 0 1 0 5.1 0a2.55 2.55 0 1 0 -5.1 0M218.8 151.2a2.55 2.55 0 1 0 5.1 0a2.55 2.55 0 1 0 -5.1 0M248.0 149.3a2.55 2.55 0 1 0 5.1 0a2.55 2.55 0 1 0 -5.1 0M253.3 142.3a2.55 2.55 0 1 0 5.1 0a2.55 2.55 0 1 0 -5.1 0M247.5 119.9a2.55 2.55 0 1 0 5.1 0a2.55 2.55 0 1 0 -5.1 0M242.1 117.3a2.55 2.55 0 1 0 5.1 0a2.55 2.55 0 1 0 -5.1 0M238.8 118.9a2.55 2.55 0 1 0 5.1 0a2.55 2.55 0 1 0 -5.1 0M247.9 109.7a2.55 2.55 0 1 0 5.1 0a2.55 2.55 0 1 0 -5.1 0M241.7 147.6a2.55 2.55 0 1 0 5.1 0a2.55 2.55 0 1 0 -5.1 0M247.9 155.2a2.55 2.55 0 1 0 5.1 0a2.55 2.55 0 1 0 -5.1 0M250.6 113.2a2.55 2.55 0 1 0 5.1 0a2.55 2.55 0 1 0 -5.1 0M247.7 123.5a2.55 2.55 0 1 0 5.1 0a2.55 2.55 0 1 0 -5.1 0M247.7 106.8a2.55 2.55 0 1 0 5.1 0a2.55 2.55 0 1 0 -5.1 0M236.1 79.8a2.55 2.55 0 1 0 5.1 0a2.55 2.55 0 1 0 -5.1 0M245.0 123.9a2.55 2.55 0 1 0 5.1 0a2.55 2.55 0 1 0 -5.1 0M253.7 107.3a2.55 2.55 0 1 0 5.1 0a2.55 2.55 0 1 0 -5.1 0M244.6 154.2a2.55 2.55 0 1 0 5.1 0a2.55 2.55 0 1 0 -5.1 0M239.2 138.0a2.55 2.55 0 1 0 5.1 0a2.55 2.55 0 1 0 -5.1 0M247.8 111.1a2.55 2.55 0 1 0 5.1 0a2.55 2.55 0 1 0 -5.1 0M236.4 120.6a2.55 2.55 0 1 0 5.1 0a2.55 2.55 0 1 0 -5.1 0M242.1 124.2a2.55 2.55 0 1 0 5.1 0a2.55 2.55 0 1 0 -5.1 0M248.0 98.8a2.55 2.55 0 1 0 5.1 0a2.55 2.55 0 1 0 -5.1 0M250.9 108.6a2.55 2.55 0 1 0 5.1 0a2.55 2.55 0 1 0 -5.1 0M239.1 121.7a2.55 2.55 0 1 0 5.1 0a2.55 2.55 0 1 0 -5.1 0M250.8 121.2a2.55 2.55 0 1 0 5.1 0a2.55 2.55 0 1 0 -5.1 0M238.9 104.0a2.55 2.55 0 1 0 5.1 0a2.55 2.55 0 1 0 -5.1 0M253.8 94.9a2.55 2.55 0 1 0 5.1 0a2.55 2.55 0 1 0 -5.1 0M238.9 138.4a2.55 2.55 0 1 0 5.1 0a2.55 2.55 0 1 0 -5.1 0M253.5 145.7a2.55 2.55 0 1 0 5.1 0a2.55 2.55 0 1 0 -5.1 0M253.6 121.0a2.55 2.55 0 1 0 5.1 0a2.55 2.55 0 1 0 -5.1 0M253.5 105.8a2.55 2.55 0 1 0 5.1 0a2.55 2.55 0 1 0 -5.1 0M241.8 164.4a2.55 2.55 0 1 0 5.1 0a2.55 2.55 0 1 0 -5.1 0M268.1 120.7a2.55 2.55 0 1 0 5.1 0a2.55 2.55 0 1 0 -5.1 0M265.0 123.6a2.55 2.55 0 1 0 5.1 0a2.55 2.55 0 1 0 -5.1 0M262.3 118.3a2.55 2.55 0 1 0 5.1 0a2.55 2.55 0 1 0 -5.1 0M267.9 136.7a2.55 2.55 0 1 0 5.1 0a2.55 2.55 0 1 0 -5.1 0M267.8 155.3a2.55 2.55 0 1 0 5.1 0a2.55 2.55 0 1 0 -5.1 0M279.9 79.9a2.55 2.55 0 1 0 5.1 0a2.55 2.55 0 1 0 -5.1 0M276.8 105.0a2.55 2.55 0 1 0 5.1 0a2.55 2.55 0 1 0 -5.1 0M279.7 150.6a2.55 2.55 0 1 0 5.1 0a2.55 2.55 0 1 0 -5.1 0M273.8 118.6a2.55 2.55 0 1 0 5.1 0a2.55 2.55 0 1 0 -5.1 0M271.0 136.3a2.55 2.55 0 1 0 5.1 0a2.55 2.55 0 1 0 -5.1 0M270.8 122.3a2.55 2.55 0 1 0 5.1 0a2.55 2.55 0 1 0 -5.1 0M256.3 132.1a2.55 2.55 0 1 0 5.1 0a2.55 2.55 0 1 0 -5.1 0M270.8 121.9a2.55 2.55 0 1 0 5.1 0a2.55 2.55 0 1 0 -5.1 0M268.1 150.3a2.55 2.55 0 1 0 5.1 0a2.55 2.55 0 1 0 -5.1 0M273.6 132.4a2.55 2.55 0 1 0 5.1 0a2.55 2.55 0 1 0 -5.1 0M276.6 107.2a2.55 2.55 0 1 0 5.1 0a2.55 2.55 0 1 0 -5.1 0M256.4 124.4a2.55 2.55 0 1 0 5.1 0a2.55 2.55 0 1 0 -5.1 0M259.4 124.1a2.55 2.55 0 1 0 5.1 0a2.55 2.55 0 1 0 -5.1 0M279.7 110.5a2.55 2.55 0 1 0 5.1 0a2.55 2.55 0 1 0 -5.1 0" fill="#8a8a8a"/>
<path d="M95.50 203.00L283.00 88.50L283.00 98.00L95.50 207.20Z" fill="#d0d0d0" stroke="none" stroke-width="1" opacity="0.8"/>
<line x1="95.50" y1="205.00" x2="283.00" y2="93.30" stroke="#000" stroke-width="3.2"/>
<line x1="95.50" y1="62.50" x2="95.50" y2="257.50" stroke="#444" stroke-width="1.2"/>
<line x1="95.50" y1="257.50" x2="283.00" y2="257.50" stroke="#444" stroke-width="1.2"/>
<line x1="89.00" y1="235.00" x2="95.50" y2="235.00" stroke="#444" stroke-width="1.2"/>
<text x="82.00" y="240.00" font-size="14" text-anchor="end">0</text>
<line x1="89.00" y1="206.80" x2="95.50" y2="206.80" stroke="#444" stroke-width="1.2"/>
<text x="82.00" y="211.80" font-size="14" text-anchor="end">20</text>
<line x1="89.00" y1="178.60" x2="95.50" y2="178.60" stroke="#444" stroke-width="1.2"/>
<text x="82.00" y="183.60" font-size="14" text-anchor="end">40</text>
<line x1="89.00" y1="150.40" x2="95.50" y2="150.40" stroke="#444" stroke-width="1.2"/>
<text x="82.00" y="155.40" font-size="14" text-anchor="end">60</text>
<line x1="89.00" y1="122.20" x2="95.50" y2="122.20" stroke="#444" stroke-width="1.2"/>
<text x="82.00" y="127.20" font-size="14" text-anchor="end">80</text>
<line x1="89.00" y1="94.00" x2="95.50" y2="94.00" stroke="#444" stroke-width="1.2"/>
<text x="82.00" y="99.00" font-size="14" text-anchor="end">100</text>
<line x1="105.30" y1="257.50" x2="105.30" y2="263.50" stroke="#444" stroke-width="1.2"/>
<text x="105.30" y="280.30" font-size="14" text-anchor="middle">20</text>
<line x1="163.30" y1="257.50" x2="163.30" y2="263.50" stroke="#444" stroke-width="1.2"/>
<text x="163.30" y="280.30" font-size="14" text-anchor="middle">40</text>
<line x1="221.30" y1="257.50" x2="221.30" y2="263.50" stroke="#444" stroke-width="1.2"/>
<text x="221.30" y="280.30" font-size="14" text-anchor="middle">60</text>
<line x1="279.30" y1="257.50" x2="279.30" y2="263.50" stroke="#444" stroke-width="1.2"/>
<text x="279.30" y="280.30" font-size="14" text-anchor="middle">80</text>
<text x="189.00" y="303.50" font-size="15" text-anchor="middle" textLength="129.0" lengthAdjust="spacingAndGlyphs">Chronological age</text>
<text x="29.30" y="160.50" font-size="15" text-anchor="middle" transform="rotate(-90.000 29.30 160.50)" textLength="95.0" lengthAdjust="spacingAndGlyphs">Predicted age</text>
<text x="46.20" y="161.70" font-size="15" text-anchor="middle" transform="rotate(-90.000 46.20 161.70)" textLength="163.0" lengthAdjust="spacingAndGlyphs">(stochastic data-based)</text>
<text x="102.00" y="62.30" font-size="14"><tspan font-style="italic">R</tspan> = 0.87, <tspan font-style="italic">P</tspan> &lt; 1 × 10<tspan dy="-6.5" font-size="10">−16</tspan></text>
<text x="396.20" y="18.00" font-size="22" fill="#000" font-weight="bold" stroke="#000" stroke-width="0.9">b</text>
<path d="M504.54 234.14L506.84 215.72L507.99 204.20L512.37 182.10L530.79 161.61L551.28 144.34L566.48 123.85L576.61 110.49L581.90 98.29L592.04 89.08L601.25 77.56L612.76 69.50L631.18 66.05L649.60 64.90L661.11 72.96L665.72 93.68L668.02 116.71L662.26 135.13L647.30 148.94L631.18 162.76L617.36 178.88L607.00 190.39L602.40 208.81L602.40 227.23L601.25 250.26L592.04 261.77L571.31 269.83L550.59 270.98L529.87 265.22L511.45 259.47L504.54 247.95Z" fill="#808080" stroke="none" stroke-width="1"/>
<path d="M532.5 157.7a2.6 2.6 0 1 0 5.2 0a2.6 2.6 0 1 0 -5.2 0M611.9 68.7a2.6 2.6 0 1 0 5.2 0a2.6 2.6 0 1 0 -5.2 0M548.2 272.9a2.6 2.6 0 1 0 5.2 0a2.6 2.6 0 1 0 -5.2 0M559.1 103.6a2.6 2.6 0 1 0 5.2 0a2.6 2.6 0 1 0 -5.2 0M515.1 175.5a2.6 2.6 0 1 0 5.2 0a2.6 2.6 0 1 0 -5.2 0M582.0 269.9a2.6 2.6 0 1 0 5.2 0a2.6 2.6 0 1 0 -5.2 0M534.7 267.7a2.6 2.6 0 1 0 5.2 0a2.6 2.6 0 1 0 -5.2 0M548.1 141.1a2.6 2.6 0 1 0 5.2 0a2.6 2.6 0 1 0 -5.2 0M625.8 175.9a2.6 2.6 0 1 0 5.2 0a2.6 2.6 0 1 0 -5.2 0M504.0 180.1a2.6 2.6 0 1 0 5.2 0a2.6 2.6 0 1 0 -5.2 0M668.0 93.4a2.6 2.6 0 1 0 5.2 0a2.6 2.6 0 1 0 -5.2 0M535.2 148.5a2.6 2.6 0 1 0 5.2 0a2.6 2.6 0 1 0 -5.2 0M514.5 263.3a2.6 2.6 0 1 0 5.2 0a2.6 2.6 0 1 0 -5.2 0M521.1 157.3a2.6 2.6 0 1 0 5.2 0a2.6 2.6 0 1 0 -5.2 0M664.8 108.5a2.6 2.6 0 1 0 5.2 0a2.6 2.6 0 1 0 -5.2 0M603.2 66.0a2.6 2.6 0 1 0 5.2 0a2.6 2.6 0 1 0 -5.2 0M528.9 157.9a2.6 2.6 0 1 0 5.2 0a2.6 2.6 0 1 0 -5.2 0M545.8 130.0a2.6 2.6 0 1 0 5.2 0a2.6 2.6 0 1 0 -5.2 0M534.5 123.5a2.6 2.6 0 1 0 5.2 0a2.6 2.6 0 1 0 -5.2 0M527.9 147.6a2.6 2.6 0 1 0 5.2 0a2.6 2.6 0 1 0 -5.2 0M509.3 266.5a2.6 2.6 0 1 0 5.2 0a2.6 2.6 0 1 0 -5.2 0M508.1 161.8a2.6 2.6 0 1 0 5.2 0a2.6 2.6 0 1 0 -5.2 0M582.4 95.0a2.6 2.6 0 1 0 5.2 0a2.6 2.6 0 1 0 -5.2 0M517.4 165.2a2.6 2.6 0 1 0 5.2 0a2.6 2.6 0 1 0 -5.2 0M602.3 229.3a2.6 2.6 0 1 0 5.2 0a2.6 2.6 0 1 0 -5.2 0M571.1 114.0a2.6 2.6 0 1 0 5.2 0a2.6 2.6 0 1 0 -5.2 0M599.5 234.3a2.6 2.6 0 1 0 5.2 0a2.6 2.6 0 1 0 -5.2 0M666.9 115.1a2.6 2.6 0 1 0 5.2 0a2.6 2.6 0 1 0 -5.2 0M610.1 68.7a2.6 2.6 0 1 0 5.2 0a2.6 2.6 0 1 0 -5.2 0M555.8 107.2a2.6 2.6 0 1 0 5.2 0a2.6 2.6 0 1 0 -5.2 0M602.2 210.9a2.6 2.6 0 1 0 5.2 0a2.6 2.6 0 1 0 -5.2 0M611.1 69.0a2.6 2.6 0 1 0 5.2 0a2.6 2.6 0 1 0 -5.2 0M604.7 204.2a2.6 2.6 0 1 0 5.2 0a2.6 2.6 0 1 0 -5.2 0M535.2 146.7a2.6 2.6 0 1 0 5.2 0a2.6 2.6 0 1 0 -5.2 0M530.5 159.7a2.6 2.6 0 1 0 5.2 0a2.6 2.6 0 1 0 -5.2 0M525.1 270.0a2.6 2.6 0 1 0 5.2 0a2.6 2.6 0 1 0 -5.2 0M553.6 110.7a2.6 2.6 0 1 0 5.2 0a2.6 2.6 0 1 0 -5.2 0M504.2 254.7a2.6 2.6 0 1 0 5.2 0a2.6 2.6 0 1 0 -5.2 0M538.3 272.8a2.6 2.6 0 1 0 5.2 0a2.6 2.6 0 1 0 -5.2 0M553.4 135.7a2.6 2.6 0 1 0 5.2 0a2.6 2.6 0 1 0 -5.2 0M599.7 70.3a2.6 2.6 0 1 0 5.2 0a2.6 2.6 0 1 0 -5.2 0M538.0 146.6a2.6 2.6 0 1 0 5.2 0a2.6 2.6 0 1 0 -5.2 0M536.2 125.3a2.6 2.6 0 1 0 5.2 0a2.6 2.6 0 1 0 -5.2 0M548.0 119.8a2.6 2.6 0 1 0 5.2 0a2.6 2.6 0 1 0 -5.2 0M640.5 159.5a2.6 2.6 0 1 0 5.2 0a2.6 2.6 0 1 0 -5.2 0M621.2 66.2a2.6 2.6 0 1 0 5.2 0a2.6 2.6 0 1 0 -5.2 0M552.3 115.8a2.6 2.6 0 1 0 5.2 0a2.6 2.6 0 1 0 -5.2 0M569.1 111.6a2.6 2.6 0 1 0 5.2 0a2.6 2.6 0 1 0 -5.2 0M614.0 185.0a2.6 2.6 0 1 0 5.2 0a2.6 2.6 0 1 0 -5.2 0M523.5 156.5a2.6 2.6 0 1 0 5.2 0a2.6 2.6 0 1 0 -5.2 0M564.9 274.4a2.6 2.6 0 1 0 5.2 0a2.6 2.6 0 1 0 -5.2 0M646.1 60.6a2.6 2.6 0 1 0 5.2 0a2.6 2.6 0 1 0 -5.2 0M518.2 263.5a2.6 2.6 0 1 0 5.2 0a2.6 2.6 0 1 0 -5.2 0M537.2 270.0a2.6 2.6 0 1 0 5.2 0a2.6 2.6 0 1 0 -5.2 0M572.8 109.9a2.6 2.6 0 1 0 5.2 0a2.6 2.6 0 1 0 -5.2 0M577.7 270.8a2.6 2.6 0 1 0 5.2 0a2.6 2.6 0 1 0 -5.2 0M564.3 277.5a2.6 2.6 0 1 0 5.2 0a2.6 2.6 0 1 0 -5.2 0M519.9 265.4a2.6 2.6 0 1 0 5.2 0a2.6 2.6 0 1 0 -5.2 0M555.6 131.7a2.6 2.6 0 1 0 5.2 0a2.6 2.6 0 1 0 -5.2 0M579.7 268.8a2.6 2.6 0 1 0 5.2 0a2.6 2.6 0 1 0 -5.2 0M663.4 92.4a2.6 2.6 0 1 0 5.2 0a2.6 2.6 0 1 0 -5.2 0M502.8 188.1a2.6 2.6 0 1 0 5.2 0a2.6 2.6 0 1 0 -5.2 0M520.5 146.8a2.6 2.6 0 1 0 5.2 0a2.6 2.6 0 1 0 -5.2 0M603.1 61.8a2.6 2.6 0 1 0 5.2 0a2.6 2.6 0 1 0 -5.2 0M676.0 133.0a2.6 2.6 0 1 0 5.2 0a2.6 2.6 0 1 0 -5.2 0M527.3 162.5a2.6 2.6 0 1 0 5.2 0a2.6 2.6 0 1 0 -5.2 0M667.7 111.7a2.6 2.6 0 1 0 5.2 0a2.6 2.6 0 1 0 -5.2 0M573.4 271.7a2.6 2.6 0 1 0 5.2 0a2.6 2.6 0 1 0 -5.2 0M507.3 186.0a2.6 2.6 0 1 0 5.2 0a2.6 2.6 0 1 0 -5.2 0M522.7 150.9a2.6 2.6 0 1 0 5.2 0a2.6 2.6 0 1 0 -5.2 0M541.5 142.9a2.6 2.6 0 1 0 5.2 0a2.6 2.6 0 1 0 -5.2 0M517.3 171.1a2.6 2.6 0 1 0 5.2 0a2.6 2.6 0 1 0 -5.2 0M643.1 160.0a2.6 2.6 0 1 0 5.2 0a2.6 2.6 0 1 0 -5.2 0M560.3 116.2a2.6 2.6 0 1 0 5.2 0a2.6 2.6 0 1 0 -5.2 0M566.8 118.7a2.6 2.6 0 1 0 5.2 0a2.6 2.6 0 1 0 -5.2 0M532.5 116.4a2.6 2.6 0 1 0 5.2 0a2.6 2.6 0 1 0 -5.2 0M521.1 161.5a2.6 2.6 0 1 0 5.2 0a2.6 2.6 0 1 0 -5.2 0M503.0 220.6a2.6 2.6 0 1 0 5.2 0a2.6 2.6 0 1 0 -5.2 0M550.1 140.3a2.6 2.6 0 1 0 5.2 0a2.6 2.6 0 1 0 -5.2 0M556.6 276.1a2.6 2.6 0 1 0 5.2 0a2.6 2.6 0 1 0 -5.2 0M574.2 105.4a2.6 2.6 0 1 0 5.2 0a2.6 2.6 0 1 0 -5.2 0M568.5 97.9a2.6 2.6 0 1 0 5.2 0a2.6 2.6 0 1 0 -5.2 0M670.4 91.9a2.6 2.6 0 1 0 5.2 0a2.6 2.6 0 1 0 -5.2 0M645.5 64.5a2.6 2.6 0 1 0 5.2 0a2.6 2.6 0 1 0 -5.2 0M506.5 170.6a2.6 2.6 0 1 0 5.2 0a2.6 2.6 0 1 0 -5.2 0M566.9 112.0a2.6 2.6 0 1 0 5.2 0a2.6 2.6 0 1 0 -5.2 0M531.7 154.8a2.6 2.6 0 1 0 5.2 0a2.6 2.6 0 1 0 -5.2 0M541.3 150.1a2.6 2.6 0 1 0 5.2 0a2.6 2.6 0 1 0 -5.2 0M571.7 107.7a2.6 2.6 0 1 0 5.2 0a2.6 2.6 0 1 0 -5.2 0M599.4 244.1a2.6 2.6 0 1 0 5.2 0a2.6 2.6 0 1 0 -5.2 0M510.3 162.6a2.6 2.6 0 1 0 5.2 0a2.6 2.6 0 1 0 -5.2 0M623.4 67.0a2.6 2.6 0 1 0 5.2 0a2.6 2.6 0 1 0 -5.2 0M507.9 264.0a2.6 2.6 0 1 0 5.2 0a2.6 2.6 0 1 0 -5.2 0M512.0 261.0a2.6 2.6 0 1 0 5.2 0a2.6 2.6 0 1 0 -5.2 0M554.2 124.2a2.6 2.6 0 1 0 5.2 0a2.6 2.6 0 1 0 -5.2 0M563.6 273.2a2.6 2.6 0 1 0 5.2 0a2.6 2.6 0 1 0 -5.2 0M515.1 169.1a2.6 2.6 0 1 0 5.2 0a2.6 2.6 0 1 0 -5.2 0M594.4 80.2a2.6 2.6 0 1 0 5.2 0a2.6 2.6 0 1 0 -5.2 0M556.8 121.7a2.6 2.6 0 1 0 5.2 0a2.6 2.6 0 1 0 -5.2 0M501.3 221.3a2.6 2.6 0 1 0 5.2 0a2.6 2.6 0 1 0 -5.2 0M501.6 198.5a2.6 2.6 0 1 0 5.2 0a2.6 2.6 0 1 0 -5.2 0M553.1 104.0a2.6 2.6 0 1 0 5.2 0a2.6 2.6 0 1 0 -5.2 0M502.1 249.8a2.6 2.6 0 1 0 5.2 0a2.6 2.6 0 1 0 -5.2 0M543.5 144.6a2.6 2.6 0 1 0 5.2 0a2.6 2.6 0 1 0 -5.2 0M599.5 56.5a2.6 2.6 0 1 0 5.2 0a2.6 2.6 0 1 0 -5.2 0M571.8 90.7a2.6 2.6 0 1 0 5.2 0a2.6 2.6 0 1 0 -5.2 0M499.4 237.7a2.6 2.6 0 1 0 5.2 0a2.6 2.6 0 1 0 -5.2 0M663.8 128.8a2.6 2.6 0 1 0 5.2 0a2.6 2.6 0 1 0 -5.2 0M613.5 181.0a2.6 2.6 0 1 0 5.2 0a2.6 2.6 0 1 0 -5.2 0M548.0 275.4a2.6 2.6 0 1 0 5.2 0a2.6 2.6 0 1 0 -5.2 0M515.0 175.2a2.6 2.6 0 1 0 5.2 0a2.6 2.6 0 1 0 -5.2 0M516.7 267.3a2.6 2.6 0 1 0 5.2 0a2.6 2.6 0 1 0 -5.2 0M630.6 161.5a2.6 2.6 0 1 0 5.2 0a2.6 2.6 0 1 0 -5.2 0M503.6 204.9a2.6 2.6 0 1 0 5.2 0a2.6 2.6 0 1 0 -5.2 0M507.5 182.9a2.6 2.6 0 1 0 5.2 0a2.6 2.6 0 1 0 -5.2 0M616.8 63.6a2.6 2.6 0 1 0 5.2 0a2.6 2.6 0 1 0 -5.2 0M650.8 63.6a2.6 2.6 0 1 0 5.2 0a2.6 2.6 0 1 0 -5.2 0M525.0 152.5a2.6 2.6 0 1 0 5.2 0a2.6 2.6 0 1 0 -5.2 0M510.5 145.1a2.6 2.6 0 1 0 5.2 0a2.6 2.6 0 1 0 -5.2 0M525.2 144.3a2.6 2.6 0 1 0 5.2 0a2.6 2.6 0 1 0 -5.2 0M606.2 191.4a2.6 2.6 0 1 0 5.2 0a2.6 2.6 0 1 0 -5.2 0M505.8 182.4a2.6 2.6 0 1 0 5.2 0a2.6 2.6 0 1 0 -5.2 0M609.0 186.0a2.6 2.6 0 1 0 5.2 0a2.6 2.6 0 1 0 -5.2 0M609.7 188.4a2.6 2.6 0 1 0 5.2 0a2.6 2.6 0 1 0 -5.2 0M529.1 157.6a2.6 2.6 0 1 0 5.2 0a2.6 2.6 0 1 0 -5.2 0M599.3 246.9a2.6 2.6 0 1 0 5.2 0a2.6 2.6 0 1 0 -5.2 0M541.2 139.0a2.6 2.6 0 1 0 5.2 0a2.6 2.6 0 1 0 -5.2 0M542.2 274.4a2.6 2.6 0 1 0 5.2 0a2.6 2.6 0 1 0 -5.2 0M658.8 139.3a2.6 2.6 0 1 0 5.2 0a2.6 2.6 0 1 0 -5.2 0M533.0 156.1a2.6 2.6 0 1 0 5.2 0a2.6 2.6 0 1 0 -5.2 0M617.4 55.1a2.6 2.6 0 1 0 5.2 0a2.6 2.6 0 1 0 -5.2 0M514.0 165.4a2.6 2.6 0 1 0 5.2 0a2.6 2.6 0 1 0 -5.2 0M595.2 75.6a2.6 2.6 0 1 0 5.2 0a2.6 2.6 0 1 0 -5.2 0M625.6 167.8a2.6 2.6 0 1 0 5.2 0a2.6 2.6 0 1 0 -5.2 0M577.6 89.3a2.6 2.6 0 1 0 5.2 0a2.6 2.6 0 1 0 -5.2 0M586.2 267.9a2.6 2.6 0 1 0 5.2 0a2.6 2.6 0 1 0 -5.2 0M502.0 250.2a2.6 2.6 0 1 0 5.2 0a2.6 2.6 0 1 0 -5.2 0M621.2 64.6a2.6 2.6 0 1 0 5.2 0a2.6 2.6 0 1 0 -5.2 0M509.3 175.0a2.6 2.6 0 1 0 5.2 0a2.6 2.6 0 1 0 -5.2 0M605.5 66.7a2.6 2.6 0 1 0 5.2 0a2.6 2.6 0 1 0 -5.2 0M560.1 120.0a2.6 2.6 0 1 0 5.2 0a2.6 2.6 0 1 0 -5.2 0M499.9 218.5a2.6 2.6 0 1 0 5.2 0a2.6 2.6 0 1 0 -5.2 0M574.6 269.1a2.6 2.6 0 1 0 5.2 0a2.6 2.6 0 1 0 -5.2 0M597.9 68.0a2.6 2.6 0 1 0 5.2 0a2.6 2.6 0 1 0 -5.2 0M536.8 152.1a2.6 2.6 0 1 0 5.2 0a2.6 2.6 0 1 0 -5.2 0M633.5 57.1a2.6 2.6 0 1 0 5.2 0a2.6 2.6 0 1 0 -5.2 0M579.2 83.5a2.6 2.6 0 1 0 5.2 0a2.6 2.6 0 1 0 -5.2 0M527.2 150.5a2.6 2.6 0 1 0 5.2 0a2.6 2.6 0 1 0 -5.2 0M606.3 198.4a2.6 2.6 0 1 0 5.2 0a2.6 2.6 0 1 0 -5.2 0M561.2 109.6a2.6 2.6 0 1 0 5.2 0a2.6 2.6 0 1 0 -5.2 0M582.0 272.3a2.6 2.6 0 1 0 5.2 0a2.6 2.6 0 1 0 -5.2 0M503.0 259.4a2.6 2.6 0 1 0 5.2 0a2.6 2.6 0 1 0 -5.2 0M638.3 59.3a2.6 2.6 0 1 0 5.2 0a2.6 2.6 0 1 0 -5.2 0M534.8 144.3a2.6 2.6 0 1 0 5.2 0a2.6 2.6 0 1 0 -5.2 0M523.9 156.8a2.6 2.6 0 1 0 5.2 0a2.6 2.6 0 1 0 -5.2 0M539.2 132.3a2.6 2.6 0 1 0 5.2 0a2.6 2.6 0 1 0 -5.2 0M582.5 270.5a2.6 2.6 0 1 0 5.2 0a2.6 2.6 0 1 0 -5.2 0M616.4 65.1a2.6 2.6 0 1 0 5.2 0a2.6 2.6 0 1 0 -5.2 0M565.0 106.8a2.6 2.6 0 1 0 5.2 0a2.6 2.6 0 1 0 -5.2 0M533.5 155.0a2.6 2.6 0 1 0 5.2 0a2.6 2.6 0 1 0 -5.2 0M630.0 188.8a2.6 2.6 0 1 0 5.2 0a2.6 2.6 0 1 0 -5.2 0M611.5 183.0a2.6 2.6 0 1 0 5.2 0a2.6 2.6 0 1 0 -5.2 0M540.2 151.1a2.6 2.6 0 1 0 5.2 0a2.6 2.6 0 1 0 -5.2 0M589.1 265.3a2.6 2.6 0 1 0 5.2 0a2.6 2.6 0 1 0 -5.2 0M556.4 133.3a2.6 2.6 0 1 0 5.2 0a2.6 2.6 0 1 0 -5.2 0M523.8 139.0a2.6 2.6 0 1 0 5.2 0a2.6 2.6 0 1 0 -5.2 0M499.9 252.1a2.6 2.6 0 1 0 5.2 0a2.6 2.6 0 1 0 -5.2 0M522.2 162.3a2.6 2.6 0 1 0 5.2 0a2.6 2.6 0 1 0 -5.2 0M669.2 113.3a2.6 2.6 0 1 0 5.2 0a2.6 2.6 0 1 0 -5.2 0M552.0 114.1a2.6 2.6 0 1 0 5.2 0a2.6 2.6 0 1 0 -5.2 0M502.7 264.3a2.6 2.6 0 1 0 5.2 0a2.6 2.6 0 1 0 -5.2 0M649.1 149.5a2.6 2.6 0 1 0 5.2 0a2.6 2.6 0 1 0 -5.2 0M661.3 78.0a2.6 2.6 0 1 0 5.2 0a2.6 2.6 0 1 0 -5.2 0M664.6 122.8a2.6 2.6 0 1 0 5.2 0a2.6 2.6 0 1 0 -5.2 0M513.6 164.0a2.6 2.6 0 1 0 5.2 0a2.6 2.6 0 1 0 -5.2 0M608.9 193.7a2.6 2.6 0 1 0 5.2 0a2.6 2.6 0 1 0 -5.2 0M564.8 276.3a2.6 2.6 0 1 0 5.2 0a2.6 2.6 0 1 0 -5.2 0M570.3 98.2a2.6 2.6 0 1 0 5.2 0a2.6 2.6 0 1 0 -5.2 0M596.6 70.8a2.6 2.6 0 1 0 5.2 0a2.6 2.6 0 1 0 -5.2 0M668.2 85.8a2.6 2.6 0 1 0 5.2 0a2.6 2.6 0 1 0 -5.2 0M667.1 85.4a2.6 2.6 0 1 0 5.2 0a2.6 2.6 0 1 0 -5.2 0M541.7 270.0a2.6 2.6 0 1 0 5.2 0a2.6 2.6 0 1 0 -5.2 0M565.2 115.4a2.6 2.6 0 1 0 5.2 0a2.6 2.6 0 1 0 -5.2 0M568.8 105.7a2.6 2.6 0 1 0 5.2 0a2.6 2.6 0 1 0 -5.2 0M522.9 165.3a2.6 2.6 0 1 0 5.2 0a2.6 2.6 0 1 0 -5.2 0M505.4 178.3a2.6 2.6 0 1 0 5.2 0a2.6 2.6 0 1 0 -5.2 0M569.0 277.8a2.6 2.6 0 1 0 5.2 0a2.6 2.6 0 1 0 -5.2 0M661.2 70.1a2.6 2.6 0 1 0 5.2 0a2.6 2.6 0 1 0 -5.2 0M625.5 173.4a2.6 2.6 0 1 0 5.2 0a2.6 2.6 0 1 0 -5.2 0M640.2 156.9a2.6 2.6 0 1 0 5.2 0a2.6 2.6 0 1 0 -5.2 0M553.8 274.9a2.6 2.6 0 1 0 5.2 0a2.6 2.6 0 1 0 -5.2 0M580.4 95.4a2.6 2.6 0 1 0 5.2 0a2.6 2.6 0 1 0 -5.2 0M666.6 115.0a2.6 2.6 0 1 0 5.2 0a2.6 2.6 0 1 0 -5.2 0M552.2 125.0a2.6 2.6 0 1 0 5.2 0a2.6 2.6 0 1 0 -5.2 0M500.9 245.8a2.6 2.6 0 1 0 5.2 0a2.6 2.6 0 1 0 -5.2 0M520.0 265.7a2.6 2.6 0 1 0 5.2 0a2.6 2.6 0 1 0 -5.2 0M505.2 194.4a2.6 2.6 0 1 0 5.2 0a2.6 2.6 0 1 0 -5.2 0M567.3 109.6a2.6 2.6 0 1 0 5.2 0a2.6 2.6 0 1 0 -5.2 0M522.8 268.0a2.6 2.6 0 1 0 5.2 0a2.6 2.6 0 1 0 -5.2 0M541.4 142.0a2.6 2.6 0 1 0 5.2 0a2.6 2.6 0 1 0 -5.2 0M507.1 159.4a2.6 2.6 0 1 0 5.2 0a2.6 2.6 0 1 0 -5.2 0M531.7 155.0a2.6 2.6 0 1 0 5.2 0a2.6 2.6 0 1 0 -5.2 0M635.7 62.9a2.6 2.6 0 1 0 5.2 0a2.6 2.6 0 1 0 -5.2 0M565.0 274.9a2.6 2.6 0 1 0 5.2 0a2.6 2.6 0 1 0 -5.2 0M612.6 67.9a2.6 2.6 0 1 0 5.2 0a2.6 2.6 0 1 0 -5.2 0M514.8 160.2a2.6 2.6 0 1 0 5.2 0a2.6 2.6 0 1 0 -5.2 0M519.1 138.8a2.6 2.6 0 1 0 5.2 0a2.6 2.6 0 1 0 -5.2 0M561.4 272.1a2.6 2.6 0 1 0 5.2 0a2.6 2.6 0 1 0 -5.2 0M506.9 170.5a2.6 2.6 0 1 0 5.2 0a2.6 2.6 0 1 0 -5.2 0M559.1 104.5a2.6 2.6 0 1 0 5.2 0a2.6 2.6 0 1 0 -5.2 0M652.3 148.6a2.6 2.6 0 1 0 5.2 0a2.6 2.6 0 1 0 -5.2 0M664.8 107.9a2.6 2.6 0 1 0 5.2 0a2.6 2.6 0 1 0 -5.2 0M565.3 116.8a2.6 2.6 0 1 0 5.2 0a2.6 2.6 0 1 0 -5.2 0M548.7 139.3a2.6 2.6 0 1 0 5.2 0a2.6 2.6 0 1 0 -5.2 0M662.2 84.3a2.6 2.6 0 1 0 5.2 0a2.6 2.6 0 1 0 -5.2 0M666.7 120.2a2.6 2.6 0 1 0 5.2 0a2.6 2.6 0 1 0 -5.2 0M500.8 226.1a2.6 2.6 0 1 0 5.2 0a2.6 2.6 0 1 0 -5.2 0M603.5 205.3a2.6 2.6 0 1 0 5.2 0a2.6 2.6 0 1 0 -5.2 0M546.9 106.0a2.6 2.6 0 1 0 5.2 0a2.6 2.6 0 1 0 -5.2 0M626.9 165.9a2.6 2.6 0 1 0 5.2 0a2.6 2.6 0 1 0 -5.2 0M596.8 253.4a2.6 2.6 0 1 0 5.2 0a2.6 2.6 0 1 0 -5.2 0M531.5 158.3a2.6 2.6 0 1 0 5.2 0a2.6 2.6 0 1 0 -5.2 0M514.0 156.5a2.6 2.6 0 1 0 5.2 0a2.6 2.6 0 1 0 -5.2 0M542.8 272.6a2.6 2.6 0 1 0 5.2 0a2.6 2.6 0 1 0 -5.2 0M550.2 276.7a2.6 2.6 0 1 0 5.2 0a2.6 2.6 0 1 0 -5.2 0M504.6 171.3a2.6 2.6 0 1 0 5.2 0a2.6 2.6 0 1 0 -5.2 0M601.9 203.5a2.6 2.6 0 1 0 5.2 0a2.6 2.6 0 1 0 -5.2 0M666.1 78.6a2.6 2.6 0 1 0 5.2 0a2.6 2.6 0 1 0 -5.2 0M664.4 120.8a2.6 2.6 0 1 0 5.2 0a2.6 2.6 0 1 0 -5.2 0M513.0 174.4a2.6 2.6 0 1 0 5.2 0a2.6 2.6 0 1 0 -5.2 0M510.3 261.3a2.6 2.6 0 1 0 5.2 0a2.6 2.6 0 1 0 -5.2 0M536.7 117.6a2.6 2.6 0 1 0 5.2 0a2.6 2.6 0 1 0 -5.2 0M557.7 105.4a2.6 2.6 0 1 0 5.2 0a2.6 2.6 0 1 0 -5.2 0M609.5 67.8a2.6 2.6 0 1 0 5.2 0a2.6 2.6 0 1 0 -5.2 0M509.5 183.0a2.6 2.6 0 1 0 5.2 0a2.6 2.6 0 1 0 -5.2 0M551.9 119.4a2.6 2.6 0 1 0 5.2 0a2.6 2.6 0 1 0 -5.2 0M539.8 139.0a2.6 2.6 0 1 0 5.2 0a2.6 2.6 0 1 0 -5.2 0M550.2 275.7a2.6 2.6 0 1 0 5.2 0a2.6 2.6 0 1 0 -5.2 0M599.7 241.2a2.6 2.6 0 1 0 5.2 0a2.6 2.6 0 1 0 -5.2 0M639.7 157.3a2.6 2.6 0 1 0 5.2 0a2.6 2.6 0 1 0 -5.2 0M505.4 257.2a2.6 2.6 0 1 0 5.2 0a2.6 2.6 0 1 0 -5.2 0M600.5 70.7a2.6 2.6 0 1 0 5.2 0a2.6 2.6 0 1 0 -5.2 0M635.2 165.7a2.6 2.6 0 1 0 5.2 0a2.6 2.6 0 1 0 -5.2 0M533.7 104.4a2.6 2.6 0 1 0 5.2 0a2.6 2.6 0 1 0 -5.2 0M600.5 238.6a2.6 2.6 0 1 0 5.2 0a2.6 2.6 0 1 0 -5.2 0M536.2 272.8a2.6 2.6 0 1 0 5.2 0a2.6 2.6 0 1 0 -5.2 0M603.0 224.6a2.6 2.6 0 1 0 5.2 0a2.6 2.6 0 1 0 -5.2 0M602.8 219.6a2.6 2.6 0 1 0 5.2 0a2.6 2.6 0 1 0 -5.2 0M560.0 103.4a2.6 2.6 0 1 0 5.2 0a2.6 2.6 0 1 0 -5.2 0M565.3 121.1a2.6 2.6 0 1 0 5.2 0a2.6 2.6 0 1 0 -5.2 0M665.7 119.7a2.6 2.6 0 1 0 5.2 0a2.6 2.6 0 1 0 -5.2 0M557.0 114.3a2.6 2.6 0 1 0 5.2 0a2.6 2.6 0 1 0 -5.2 0M569.1 270.2a2.6 2.6 0 1 0 5.2 0a2.6 2.6 0 1 0 -5.2 0M627.1 66.3a2.6 2.6 0 1 0 5.2 0a2.6 2.6 0 1 0 -5.2 0M529.8 149.3a2.6 2.6 0 1 0 5.2 0a2.6 2.6 0 1 0 -5.2 0M613.8 64.4a2.6 2.6 0 1 0 5.2 0a2.6 2.6 0 1 0 -5.2 0M517.6 168.8a2.6 2.6 0 1 0 5.2 0a2.6 2.6 0 1 0 -5.2 0M531.4 266.8a2.6 2.6 0 1 0 5.2 0a2.6 2.6 0 1 0 -5.2 0M502.6 189.3a2.6 2.6 0 1 0 5.2 0a2.6 2.6 0 1 0 -5.2 0M531.6 268.6a2.6 2.6 0 1 0 5.2 0a2.6 2.6 0 1 0 -5.2 0M629.7 58.4a2.6 2.6 0 1 0 5.2 0a2.6 2.6 0 1 0 -5.2 0M534.0 141.1a2.6 2.6 0 1 0 5.2 0a2.6 2.6 0 1 0 -5.2 0M556.6 119.1a2.6 2.6 0 1 0 5.2 0a2.6 2.6 0 1 0 -5.2 0M668.6 115.3a2.6 2.6 0 1 0 5.2 0a2.6 2.6 0 1 0 -5.2 0M626.5 61.7a2.6 2.6 0 1 0 5.2 0a2.6 2.6 0 1 0 -5.2 0M617.0 180.5a2.6 2.6 0 1 0 5.2 0a2.6 2.6 0 1 0 -5.2 0M513.1 267.2a2.6 2.6 0 1 0 5.2 0a2.6 2.6 0 1 0 -5.2 0M653.1 151.8a2.6 2.6 0 1 0 5.2 0a2.6 2.6 0 1 0 -5.2 0M538.4 114.0a2.6 2.6 0 1 0 5.2 0a2.6 2.6 0 1 0 -5.2 0M630.8 179.3a2.6 2.6 0 1 0 5.2 0a2.6 2.6 0 1 0 -5.2 0M586.8 88.4a2.6 2.6 0 1 0 5.2 0a2.6 2.6 0 1 0 -5.2 0M669.9 119.8a2.6 2.6 0 1 0 5.2 0a2.6 2.6 0 1 0 -5.2 0M512.0 266.6a2.6 2.6 0 1 0 5.2 0a2.6 2.6 0 1 0 -5.2 0M582.3 91.2a2.6 2.6 0 1 0 5.2 0a2.6 2.6 0 1 0 -5.2 0M598.8 248.1a2.6 2.6 0 1 0 5.2 0a2.6 2.6 0 1 0 -5.2 0M548.9 120.2a2.6 2.6 0 1 0 5.2 0a2.6 2.6 0 1 0 -5.2 0M573.4 271.3a2.6 2.6 0 1 0 5.2 0a2.6 2.6 0 1 0 -5.2 0M605.7 196.4a2.6 2.6 0 1 0 5.2 0a2.6 2.6 0 1 0 -5.2 0M626.0 171.8a2.6 2.6 0 1 0 5.2 0a2.6 2.6 0 1 0 -5.2 0M560.9 276.5a2.6 2.6 0 1 0 5.2 0a2.6 2.6 0 1 0 -5.2 0M548.2 128.8a2.6 2.6 0 1 0 5.2 0a2.6 2.6 0 1 0 -5.2 0M525.6 140.8a2.6 2.6 0 1 0 5.2 0a2.6 2.6 0 1 0 -5.2 0M568.5 270.0a2.6 2.6 0 1 0 5.2 0a2.6 2.6 0 1 0 -5.2 0M517.0 173.9a2.6 2.6 0 1 0 5.2 0a2.6 2.6 0 1 0 -5.2 0M662.9 91.1a2.6 2.6 0 1 0 5.2 0a2.6 2.6 0 1 0 -5.2 0M524.7 136.1a2.6 2.6 0 1 0 5.2 0a2.6 2.6 0 1 0 -5.2 0M642.8 152.4a2.6 2.6 0 1 0 5.2 0a2.6 2.6 0 1 0 -5.2 0M512.0 261.4a2.6 2.6 0 1 0 5.2 0a2.6 2.6 0 1 0 -5.2 0M499.9 245.7a2.6 2.6 0 1 0 5.2 0a2.6 2.6 0 1 0 -5.2 0M504.5 184.7a2.6 2.6 0 1 0 5.2 0a2.6 2.6 0 1 0 -5.2 0M567.0 113.4a2.6 2.6 0 1 0 5.2 0a2.6 2.6 0 1 0 -5.2 0M518.5 146.8a2.6 2.6 0 1 0 5.2 0a2.6 2.6 0 1 0 -5.2 0M659.2 135.9a2.6 2.6 0 1 0 5.2 0a2.6 2.6 0 1 0 -5.2 0M517.4 158.1a2.6 2.6 0 1 0 5.2 0a2.6 2.6 0 1 0 -5.2 0M535.6 155.2a2.6 2.6 0 1 0 5.2 0a2.6 2.6 0 1 0 -5.2 0M615.2 179.7a2.6 2.6 0 1 0 5.2 0a2.6 2.6 0 1 0 -5.2 0M616.2 64.2a2.6 2.6 0 1 0 5.2 0a2.6 2.6 0 1 0 -5.2 0M583.0 266.2a2.6 2.6 0 1 0 5.2 0a2.6 2.6 0 1 0 -5.2 0M579.8 96.1a2.6 2.6 0 1 0 5.2 0a2.6 2.6 0 1 0 -5.2 0M545.8 275.9a2.6 2.6 0 1 0 5.2 0a2.6 2.6 0 1 0 -5.2 0M558.0 272.2a2.6 2.6 0 1 0 5.2 0a2.6 2.6 0 1 0 -5.2 0M503.0 181.6a2.6 2.6 0 1 0 5.2 0a2.6 2.6 0 1 0 -5.2 0M596.4 254.4a2.6 2.6 0 1 0 5.2 0a2.6 2.6 0 1 0 -5.2 0M670.1 138.3a2.6 2.6 0 1 0 5.2 0a2.6 2.6 0 1 0 -5.2 0M500.6 206.9a2.6 2.6 0 1 0 5.2 0a2.6 2.6 0 1 0 -5.2 0M569.8 272.3a2.6 2.6 0 1 0 5.2 0a2.6 2.6 0 1 0 -5.2 0M588.1 84.4a2.6 2.6 0 1 0 5.2 0a2.6 2.6 0 1 0 -5.2 0M583.3 93.1a2.6 2.6 0 1 0 5.2 0a2.6 2.6 0 1 0 -5.2 0M501.5 234.8a2.6 2.6 0 1 0 5.2 0a2.6 2.6 0 1 0 -5.2 0M658.0 72.4a2.6 2.6 0 1 0 5.2 0a2.6 2.6 0 1 0 -5.2 0M668.3 114.1a2.6 2.6 0 1 0 5.2 0a2.6 2.6 0 1 0 -5.2 0M572.8 277.0a2.6 2.6 0 1 0 5.2 0a2.6 2.6 0 1 0 -5.2 0M577.4 92.7a2.6 2.6 0 1 0 5.2 0a2.6 2.6 0 1 0 -5.2 0M567.2 113.3a2.6 2.6 0 1 0 5.2 0a2.6 2.6 0 1 0 -5.2 0M661.4 137.7a2.6 2.6 0 1 0 5.2 0a2.6 2.6 0 1 0 -5.2 0M547.4 274.0a2.6 2.6 0 1 0 5.2 0a2.6 2.6 0 1 0 -5.2 0M522.7 107.5a2.6 2.6 0 1 0 5.2 0a2.6 2.6 0 1 0 -5.2 0M526.0 163.7a2.6 2.6 0 1 0 5.2 0a2.6 2.6 0 1 0 -5.2 0M622.2 181.1a2.6 2.6 0 1 0 5.2 0a2.6 2.6 0 1 0 -5.2 0M573.1 108.1a2.6 2.6 0 1 0 5.2 0a2.6 2.6 0 1 0 -5.2 0M663.6 78.9a2.6 2.6 0 1 0 5.2 0a2.6 2.6 0 1 0 -5.2 0M574.6 90.5a2.6 2.6 0 1 0 5.2 0a2.6 2.6 0 1 0 -5.2 0M564.1 116.9a2.6 2.6 0 1 0 5.2 0a2.6 2.6 0 1 0 -5.2 0M555.6 134.0a2.6 2.6 0 1 0 5.2 0a2.6 2.6 0 1 0 -5.2 0M514.1 268.6a2.6 2.6 0 1 0 5.2 0a2.6 2.6 0 1 0 -5.2 0M647.1 57.2a2.6 2.6 0 1 0 5.2 0a2.6 2.6 0 1 0 -5.2 0M568.0 116.1a2.6 2.6 0 1 0 5.2 0a2.6 2.6 0 1 0 -5.2 0M586.3 84.9a2.6 2.6 0 1 0 5.2 0a2.6 2.6 0 1 0 -5.2 0M575.8 95.8a2.6 2.6 0 1 0 5.2 0a2.6 2.6 0 1 0 -5.2 0M579.6 90.3a2.6 2.6 0 1 0 5.2 0a2.6 2.6 0 1 0 -5.2 0M630.1 161.6a2.6 2.6 0 1 0 5.2 0a2.6 2.6 0 1 0 -5.2 0M574.2 268.7a2.6 2.6 0 1 0 5.2 0a2.6 2.6 0 1 0 -5.2 0M602.7 215.9a2.6 2.6 0 1 0 5.2 0a2.6 2.6 0 1 0 -5.2 0M552.2 273.6a2.6 2.6 0 1 0 5.2 0a2.6 2.6 0 1 0 -5.2 0M505.6 261.6a2.6 2.6 0 1 0 5.2 0a2.6 2.6 0 1 0 -5.2 0M579.4 95.8a2.6 2.6 0 1 0 5.2 0a2.6 2.6 0 1 0 -5.2 0M663.5 129.5a2.6 2.6 0 1 0 5.2 0a2.6 2.6 0 1 0 -5.2 0M575.3 267.7a2.6 2.6 0 1 0 5.2 0a2.6 2.6 0 1 0 -5.2 0M503.0 256.0a2.6 2.6 0 1 0 5.2 0a2.6 2.6 0 1 0 -5.2 0M541.3 270.9a2.6 2.6 0 1 0 5.2 0a2.6 2.6 0 1 0 -5.2 0M653.7 66.9a2.6 2.6 0 1 0 5.2 0a2.6 2.6 0 1 0 -5.2 0M552.1 275.6a2.6 2.6 0 1 0 5.2 0a2.6 2.6 0 1 0 -5.2 0M644.5 151.6a2.6 2.6 0 1 0 5.2 0a2.6 2.6 0 1 0 -5.2 0M561.9 116.5a2.6 2.6 0 1 0 5.2 0a2.6 2.6 0 1 0 -5.2 0M648.8 148.1a2.6 2.6 0 1 0 5.2 0a2.6 2.6 0 1 0 -5.2 0M618.7 64.2a2.6 2.6 0 1 0 5.2 0a2.6 2.6 0 1 0 -5.2 0M664.8 144.5a2.6 2.6 0 1 0 5.2 0a2.6 2.6 0 1 0 -5.2 0M563.9 101.0a2.6 2.6 0 1 0 5.2 0a2.6 2.6 0 1 0 -5.2 0M530.6 136.8a2.6 2.6 0 1 0 5.2 0a2.6 2.6 0 1 0 -5.2 0M658.4 137.1a2.6 2.6 0 1 0 5.2 0a2.6 2.6 0 1 0 -5.2 0M556.6 276.6a2.6 2.6 0 1 0 5.2 0a2.6 2.6 0 1 0 -5.2 0M598.8 259.3a2.6 2.6 0 1 0 5.2 0a2.6 2.6 0 1 0 -5.2 0M542.9 128.0a2.6 2.6 0 1 0 5.2 0a2.6 2.6 0 1 0 -5.2 0M671.3 137.7a2.6 2.6 0 1 0 5.2 0a2.6 2.6 0 1 0 -5.2 0M530.7 267.7a2.6 2.6 0 1 0 5.2 0a2.6 2.6 0 1 0 -5.2 0M663.8 77.4a2.6 2.6 0 1 0 5.2 0a2.6 2.6 0 1 0 -5.2 0M568.6 111.0a2.6 2.6 0 1 0 5.2 0a2.6 2.6 0 1 0 -5.2 0M577.3 267.1a2.6 2.6 0 1 0 5.2 0a2.6 2.6 0 1 0 -5.2 0M515.5 166.7a2.6 2.6 0 1 0 5.2 0a2.6 2.6 0 1 0 -5.2 0M549.8 125.4a2.6 2.6 0 1 0 5.2 0a2.6 2.6 0 1 0 -5.2 0M553.8 137.3a2.6 2.6 0 1 0 5.2 0a2.6 2.6 0 1 0 -5.2 0M518.0 165.6a2.6 2.6 0 1 0 5.2 0a2.6 2.6 0 1 0 -5.2 0M574.3 108.8a2.6 2.6 0 1 0 5.2 0a2.6 2.6 0 1 0 -5.2 0M601.4 214.4a2.6 2.6 0 1 0 5.2 0a2.6 2.6 0 1 0 -5.2 0M661.0 78.5a2.6 2.6 0 1 0 5.2 0a2.6 2.6 0 1 0 -5.2 0M664.8 108.6a2.6 2.6 0 1 0 5.2 0a2.6 2.6 0 1 0 -5.2 0M525.4 155.5a2.6 2.6 0 1 0 5.2 0a2.6 2.6 0 1 0 -5.2 0M528.6 158.0a2.6 2.6 0 1 0 5.2 0a2.6 2.6 0 1 0 -5.2 0M665.6 105.9a2.6 2.6 0 1 0 5.2 0a2.6 2.6 0 1 0 -5.2 0M501.5 239.2a2.6 2.6 0 1 0 5.2 0a2.6 2.6 0 1 0 -5.2 0M505.3 163.3a2.6 2.6 0 1 0 5.2 0a2.6 2.6 0 1 0 -5.2 0M549.6 131.2a2.6 2.6 0 1 0 5.2 0a2.6 2.6 0 1 0 -5.2 0M514.6 166.5a2.6 2.6 0 1 0 5.2 0a2.6 2.6 0 1 0 -5.2 0M542.4 272.7a2.6 2.6 0 1 0 5.2 0a2.6 2.6 0 1 0 -5.2 0M534.2 268.1a2.6 2.6 0 1 0 5.2 0a2.6 2.6 0 1 0 -5.2 0M538.6 107.5a2.6 2.6 0 1 0 5.2 0a2.6 2.6 0 1 0 -5.2 0M660.4 60.3a2.6 2.6 0 1 0 5.2 0a2.6 2.6 0 1 0 -5.2 0M551.2 130.8a2.6 2.6 0 1 0 5.2 0a2.6 2.6 0 1 0 -5.2 0M618.0 185.2a2.6 2.6 0 1 0 5.2 0a2.6 2.6 0 1 0 -5.2 0M499.9 216.1a2.6 2.6 0 1 0 5.2 0a2.6 2.6 0 1 0 -5.2 0M665.4 129.4a2.6 2.6 0 1 0 5.2 0a2.6 2.6 0 1 0 -5.2 0M671.1 121.1a2.6 2.6 0 1 0 5.2 0a2.6 2.6 0 1 0 -5.2 0M565.3 119.3a2.6 2.6 0 1 0 5.2 0a2.6 2.6 0 1 0 -5.2 0M573.3 107.8a2.6 2.6 0 1 0 5.2 0a2.6 2.6 0 1 0 -5.2 0M542.5 148.6a2.6 2.6 0 1 0 5.2 0a2.6 2.6 0 1 0 -5.2 0M603.7 193.8a2.6 2.6 0 1 0 5.2 0a2.6 2.6 0 1 0 -5.2 0M582.2 269.5a2.6 2.6 0 1 0 5.2 0a2.6 2.6 0 1 0 -5.2 0M518.4 263.9a2.6 2.6 0 1 0 5.2 0a2.6 2.6 0 1 0 -5.2 0M672.5 114.6a2.6 2.6 0 1 0 5.2 0a2.6 2.6 0 1 0 -5.2 0M617.9 65.3a2.6 2.6 0 1 0 5.2 0a2.6 2.6 0 1 0 -5.2 0M539.9 138.2a2.6 2.6 0 1 0 5.2 0a2.6 2.6 0 1 0 -5.2 0M650.1 148.0a2.6 2.6 0 1 0 5.2 0a2.6 2.6 0 1 0 -5.2 0M646.0 150.9a2.6 2.6 0 1 0 5.2 0a2.6 2.6 0 1 0 -5.2 0M663.9 131.6a2.6 2.6 0 1 0 5.2 0a2.6 2.6 0 1 0 -5.2 0M543.4 270.5a2.6 2.6 0 1 0 5.2 0a2.6 2.6 0 1 0 -5.2 0M549.3 128.3a2.6 2.6 0 1 0 5.2 0a2.6 2.6 0 1 0 -5.2 0M505.8 196.4a2.6 2.6 0 1 0 5.2 0a2.6 2.6 0 1 0 -5.2 0M662.9 141.8a2.6 2.6 0 1 0 5.2 0a2.6 2.6 0 1 0 -5.2 0M652.1 146.5a2.6 2.6 0 1 0 5.2 0a2.6 2.6 0 1 0 -5.2 0M531.8 136.7a2.6 2.6 0 1 0 5.2 0a2.6 2.6 0 1 0 -5.2 0M521.1 163.6a2.6 2.6 0 1 0 5.2 0a2.6 2.6 0 1 0 -5.2 0M544.7 132.8a2.6 2.6 0 1 0 5.2 0a2.6 2.6 0 1 0 -5.2 0M506.6 173.0a2.6 2.6 0 1 0 5.2 0a2.6 2.6 0 1 0 -5.2 0M538.9 149.2a2.6 2.6 0 1 0 5.2 0a2.6 2.6 0 1 0 -5.2 0M630.4 63.6a2.6 2.6 0 1 0 5.2 0a2.6 2.6 0 1 0 -5.2 0M505.9 180.3a2.6 2.6 0 1 0 5.2 0a2.6 2.6 0 1 0 -5.2 0M581.1 267.0a2.6 2.6 0 1 0 5.2 0a2.6 2.6 0 1 0 -5.2 0M563.1 118.4a2.6 2.6 0 1 0 5.2 0a2.6 2.6 0 1 0 -5.2 0M661.1 68.1a2.6 2.6 0 1 0 5.2 0a2.6 2.6 0 1 0 -5.2 0M523.8 267.8a2.6 2.6 0 1 0 5.2 0a2.6 2.6 0 1 0 -5.2 0M590.5 261.5a2.6 2.6 0 1 0 5.2 0a2.6 2.6 0 1 0 -5.2 0M587.1 262.8a2.6 2.6 0 1 0 5.2 0a2.6 2.6 0 1 0 -5.2 0M506.7 185.0a2.6 2.6 0 1 0 5.2 0a2.6 2.6 0 1 0 -5.2 0M664.4 131.4a2.6 2.6 0 1 0 5.2 0a2.6 2.6 0 1 0 -5.2 0M512.4 174.1a2.6 2.6 0 1 0 5.2 0a2.6 2.6 0 1 0 -5.2 0M503.2 215.5a2.6 2.6 0 1 0 5.2 0a2.6 2.6 0 1 0 -5.2 0M601.5 212.7a2.6 2.6 0 1 0 5.2 0a2.6 2.6 0 1 0 -5.2 0M572.9 99.1a2.6 2.6 0 1 0 5.2 0a2.6 2.6 0 1 0 -5.2 0M641.5 152.4a2.6 2.6 0 1 0 5.2 0a2.6 2.6 0 1 0 -5.2 0M498.6 240.1a2.6 2.6 0 1 0 5.2 0a2.6 2.6 0 1 0 -5.2 0M520.1 158.8a2.6 2.6 0 1 0 5.2 0a2.6 2.6 0 1 0 -5.2 0M664.4 96.3a2.6 2.6 0 1 0 5.2 0a2.6 2.6 0 1 0 -5.2 0M675.6 120.5a2.6 2.6 0 1 0 5.2 0a2.6 2.6 0 1 0 -5.2 0M534.3 143.2a2.6 2.6 0 1 0 5.2 0a2.6 2.6 0 1 0 -5.2 0M639.9 159.9a2.6 2.6 0 1 0 5.2 0a2.6 2.6 0 1 0 -5.2 0M647.5 148.3a2.6 2.6 0 1 0 5.2 0a2.6 2.6 0 1 0 -5.2 0M513.3 176.8a2.6 2.6 0 1 0 5.2 0a2.6 2.6 0 1 0 -5.2 0M530.7 269.3a2.6 2.6 0 1 0 5.2 0a2.6 2.6 0 1 0 -5.2 0M636.6 159.7a2.6 2.6 0 1 0 5.2 0a2.6 2.6 0 1 0 -5.2 0M635.1 61.5a2.6 2.6 0 1 0 5.2 0a2.6 2.6 0 1 0 -5.2 0M534.1 109.1a2.6 2.6 0 1 0 5.2 0a2.6 2.6 0 1 0 -5.2 0M540.8 99.4a2.6 2.6 0 1 0 5.2 0a2.6 2.6 0 1 0 -5.2 0M545.1 100.0a2.6 2.6 0 1 0 5.2 0a2.6 2.6 0 1 0 -5.2 0M585.3 266.1a2.6 2.6 0 1 0 5.2 0a2.6 2.6 0 1 0 -5.2 0M547.0 144.2a2.6 2.6 0 1 0 5.2 0a2.6 2.6 0 1 0 -5.2 0M659.8 71.4a2.6 2.6 0 1 0 5.2 0a2.6 2.6 0 1 0 -5.2 0M563.0 123.4a2.6 2.6 0 1 0 5.2 0a2.6 2.6 0 1 0 -5.2 0M527.5 126.3a2.6 2.6 0 1 0 5.2 0a2.6 2.6 0 1 0 -5.2 0M521.5 153.7a2.6 2.6 0 1 0 5.2 0a2.6 2.6 0 1 0 -5.2 0M667.1 79.4a2.6 2.6 0 1 0 5.2 0a2.6 2.6 0 1 0 -5.2 0M516.4 159.4a2.6 2.6 0 1 0 5.2 0a2.6 2.6 0 1 0 -5.2 0M595.3 79.9a2.6 2.6 0 1 0 5.2 0a2.6 2.6 0 1 0 -5.2 0M577.1 98.2a2.6 2.6 0 1 0 5.2 0a2.6 2.6 0 1 0 -5.2 0M504.9 253.3a2.6 2.6 0 1 0 5.2 0a2.6 2.6 0 1 0 -5.2 0M517.9 164.4a2.6 2.6 0 1 0 5.2 0a2.6 2.6 0 1 0 -5.2 0M564.5 101.1a2.6 2.6 0 1 0 5.2 0a2.6 2.6 0 1 0 -5.2 0M514.5 161.2a2.6 2.6 0 1 0 5.2 0a2.6 2.6 0 1 0 -5.2 0M508.5 186.2a2.6 2.6 0 1 0 5.2 0a2.6 2.6 0 1 0 -5.2 0M567.8 275.9a2.6 2.6 0 1 0 5.2 0a2.6 2.6 0 1 0 -5.2 0M655.4 152.3a2.6 2.6 0 1 0 5.2 0a2.6 2.6 0 1 0 -5.2 0M563.3 112.3a2.6 2.6 0 1 0 5.2 0a2.6 2.6 0 1 0 -5.2 0M509.8 138.7a2.6 2.6 0 1 0 5.2 0a2.6 2.6 0 1 0 -5.2 0M571.6 107.5a2.6 2.6 0 1 0 5.2 0a2.6 2.6 0 1 0 -5.2 0M571.7 99.3a2.6 2.6 0 1 0 5.2 0a2.6 2.6 0 1 0 -5.2 0M536.8 271.3a2.6 2.6 0 1 0 5.2 0a2.6 2.6 0 1 0 -5.2 0M527.3 157.8a2.6 2.6 0 1 0 5.2 0a2.6 2.6 0 1 0 -5.2 0M641.9 54.6a2.6 2.6 0 1 0 5.2 0a2.6 2.6 0 1 0 -5.2 0M524.0 158.3a2.6 2.6 0 1 0 5.2 0a2.6 2.6 0 1 0 -5.2 0M521.2 163.4a2.6 2.6 0 1 0 5.2 0a2.6 2.6 0 1 0 -5.2 0M626.8 169.2a2.6 2.6 0 1 0 5.2 0a2.6 2.6 0 1 0 -5.2 0M651.1 143.4a2.6 2.6 0 1 0 5.2 0a2.6 2.6 0 1 0 -5.2 0M670.2 81.1a2.6 2.6 0 1 0 5.2 0a2.6 2.6 0 1 0 -5.2 0M546.7 126.5a2.6 2.6 0 1 0 5.2 0a2.6 2.6 0 1 0 -5.2 0M512.9 139.6a2.6 2.6 0 1 0 5.2 0a2.6 2.6 0 1 0 -5.2 0M662.3 129.5a2.6 2.6 0 1 0 5.2 0a2.6 2.6 0 1 0 -5.2 0M533.6 146.1a2.6 2.6 0 1 0 5.2 0a2.6 2.6 0 1 0 -5.2 0M505.4 179.9a2.6 2.6 0 1 0 5.2 0a2.6 2.6 0 1 0 -5.2 0M663.7 92.4a2.6 2.6 0 1 0 5.2 0a2.6 2.6 0 1 0 -5.2 0M613.3 187.8a2.6 2.6 0 1 0 5.2 0a2.6 2.6 0 1 0 -5.2 0M540.7 150.7a2.6 2.6 0 1 0 5.2 0a2.6 2.6 0 1 0 -5.2 0M612.7 184.1a2.6 2.6 0 1 0 5.2 0a2.6 2.6 0 1 0 -5.2 0M539.0 144.6a2.6 2.6 0 1 0 5.2 0a2.6 2.6 0 1 0 -5.2 0M620.9 57.6a2.6 2.6 0 1 0 5.2 0a2.6 2.6 0 1 0 -5.2 0M595.4 69.0a2.6 2.6 0 1 0 5.2 0a2.6 2.6 0 1 0 -5.2 0M568.7 277.9a2.6 2.6 0 1 0 5.2 0a2.6 2.6 0 1 0 -5.2 0M575.4 102.4a2.6 2.6 0 1 0 5.2 0a2.6 2.6 0 1 0 -5.2 0M651.6 64.0a2.6 2.6 0 1 0 5.2 0a2.6 2.6 0 1 0 -5.2 0M544.6 272.7a2.6 2.6 0 1 0 5.2 0a2.6 2.6 0 1 0 -5.2 0M665.3 119.6a2.6 2.6 0 1 0 5.2 0a2.6 2.6 0 1 0 -5.2 0M557.3 272.4a2.6 2.6 0 1 0 5.2 0a2.6 2.6 0 1 0 -5.2 0M532.8 147.7a2.6 2.6 0 1 0 5.2 0a2.6 2.6 0 1 0 -5.2 0M581.1 93.2a2.6 2.6 0 1 0 5.2 0a2.6 2.6 0 1 0 -5.2 0M520.0 133.7a2.6 2.6 0 1 0 5.2 0a2.6 2.6 0 1 0 -5.2 0M670.5 117.8a2.6 2.6 0 1 0 5.2 0a2.6 2.6 0 1 0 -5.2 0M547.8 128.5a2.6 2.6 0 1 0 5.2 0a2.6 2.6 0 1 0 -5.2 0M514.0 263.9a2.6 2.6 0 1 0 5.2 0a2.6 2.6 0 1 0 -5.2 0M529.8 154.2a2.6 2.6 0 1 0 5.2 0a2.6 2.6 0 1 0 -5.2 0M654.8 149.8a2.6 2.6 0 1 0 5.2 0a2.6 2.6 0 1 0 -5.2 0M648.8 60.7a2.6 2.6 0 1 0 5.2 0a2.6 2.6 0 1 0 -5.2 0M512.3 167.2a2.6 2.6 0 1 0 5.2 0a2.6 2.6 0 1 0 -5.2 0M583.2 265.0a2.6 2.6 0 1 0 5.2 0a2.6 2.6 0 1 0 -5.2 0M553.7 271.1a2.6 2.6 0 1 0 5.2 0a2.6 2.6 0 1 0 -5.2 0M587.4 263.5a2.6 2.6 0 1 0 5.2 0a2.6 2.6 0 1 0 -5.2 0M598.8 252.5a2.6 2.6 0 1 0 5.2 0a2.6 2.6 0 1 0 -5.2 0M546.4 272.2a2.6 2.6 0 1 0 5.2 0a2.6 2.6 0 1 0 -5.2 0M546.3 116.3a2.6 2.6 0 1 0 5.2 0a2.6 2.6 0 1 0 -5.2 0M663.3 85.7a2.6 2.6 0 1 0 5.2 0a2.6 2.6 0 1 0 -5.2 0M522.3 149.3a2.6 2.6 0 1 0 5.2 0a2.6 2.6 0 1 0 -5.2 0M570.0 111.8a2.6 2.6 0 1 0 5.2 0a2.6 2.6 0 1 0 -5.2 0M534.7 122.8a2.6 2.6 0 1 0 5.2 0a2.6 2.6 0 1 0 -5.2 0M513.0 160.8a2.6 2.6 0 1 0 5.2 0a2.6 2.6 0 1 0 -5.2 0M605.1 61.8a2.6 2.6 0 1 0 5.2 0a2.6 2.6 0 1 0 -5.2 0M503.5 256.8a2.6 2.6 0 1 0 5.2 0a2.6 2.6 0 1 0 -5.2 0M598.9 249.1a2.6 2.6 0 1 0 5.2 0a2.6 2.6 0 1 0 -5.2 0M506.1 170.0a2.6 2.6 0 1 0 5.2 0a2.6 2.6 0 1 0 -5.2 0M579.3 97.9a2.6 2.6 0 1 0 5.2 0a2.6 2.6 0 1 0 -5.2 0M558.8 129.1a2.6 2.6 0 1 0 5.2 0a2.6 2.6 0 1 0 -5.2 0M501.7 259.0a2.6 2.6 0 1 0 5.2 0a2.6 2.6 0 1 0 -5.2 0M501.1 207.1a2.6 2.6 0 1 0 5.2 0a2.6 2.6 0 1 0 -5.2 0M580.0 89.4a2.6 2.6 0 1 0 5.2 0a2.6 2.6 0 1 0 -5.2 0M633.0 161.8a2.6 2.6 0 1 0 5.2 0a2.6 2.6 0 1 0 -5.2 0M670.9 118.8a2.6 2.6 0 1 0 5.2 0a2.6 2.6 0 1 0 -5.2 0M509.7 181.7a2.6 2.6 0 1 0 5.2 0a2.6 2.6 0 1 0 -5.2 0M602.0 244.5a2.6 2.6 0 1 0 5.2 0a2.6 2.6 0 1 0 -5.2 0M504.6 204.5a2.6 2.6 0 1 0 5.2 0a2.6 2.6 0 1 0 -5.2 0M502.1 216.4a2.6 2.6 0 1 0 5.2 0a2.6 2.6 0 1 0 -5.2 0M562.5 273.5a2.6 2.6 0 1 0 5.2 0a2.6 2.6 0 1 0 -5.2 0M550.7 277.7a2.6 2.6 0 1 0 5.2 0a2.6 2.6 0 1 0 -5.2 0M628.1 171.2a2.6 2.6 0 1 0 5.2 0a2.6 2.6 0 1 0 -5.2 0M663.7 85.8a2.6 2.6 0 1 0 5.2 0a2.6 2.6 0 1 0 -5.2 0M614.7 67.9a2.6 2.6 0 1 0 5.2 0a2.6 2.6 0 1 0 -5.2 0M517.6 171.1a2.6 2.6 0 1 0 5.2 0a2.6 2.6 0 1 0 -5.2 0M533.9 154.3a2.6 2.6 0 1 0 5.2 0a2.6 2.6 0 1 0 -5.2 0M502.1 221.4a2.6 2.6 0 1 0 5.2 0a2.6 2.6 0 1 0 -5.2 0M508.1 188.5a2.6 2.6 0 1 0 5.2 0a2.6 2.6 0 1 0 -5.2 0M593.9 264.2a2.6 2.6 0 1 0 5.2 0a2.6 2.6 0 1 0 -5.2 0M656.1 142.5a2.6 2.6 0 1 0 5.2 0a2.6 2.6 0 1 0 -5.2 0M555.6 128.3a2.6 2.6 0 1 0 5.2 0a2.6 2.6 0 1 0 -5.2 0M574.7 89.9a2.6 2.6 0 1 0 5.2 0a2.6 2.6 0 1 0 -5.2 0M572.3 105.1a2.6 2.6 0 1 0 5.2 0a2.6 2.6 0 1 0 -5.2 0M666.3 86.4a2.6 2.6 0 1 0 5.2 0a2.6 2.6 0 1 0 -5.2 0M611.2 62.4a2.6 2.6 0 1 0 5.2 0a2.6 2.6 0 1 0 -5.2 0M501.2 226.4a2.6 2.6 0 1 0 5.2 0a2.6 2.6 0 1 0 -5.2 0M546.9 140.4a2.6 2.6 0 1 0 5.2 0a2.6 2.6 0 1 0 -5.2 0M521.7 168.3a2.6 2.6 0 1 0 5.2 0a2.6 2.6 0 1 0 -5.2 0M523.5 158.0a2.6 2.6 0 1 0 5.2 0a2.6 2.6 0 1 0 -5.2 0M601.7 230.5a2.6 2.6 0 1 0 5.2 0a2.6 2.6 0 1 0 -5.2 0M664.8 95.1a2.6 2.6 0 1 0 5.2 0a2.6 2.6 0 1 0 -5.2 0M528.5 155.7a2.6 2.6 0 1 0 5.2 0a2.6 2.6 0 1 0 -5.2 0M528.1 111.6a2.6 2.6 0 1 0 5.2 0a2.6 2.6 0 1 0 -5.2 0M570.3 275.4a2.6 2.6 0 1 0 5.2 0a2.6 2.6 0 1 0 -5.2 0M533.6 140.2a2.6 2.6 0 1 0 5.2 0a2.6 2.6 0 1 0 -5.2 0M506.1 185.2a2.6 2.6 0 1 0 5.2 0a2.6 2.6 0 1 0 -5.2 0M502.9 197.0a2.6 2.6 0 1 0 5.2 0a2.6 2.6 0 1 0 -5.2 0M513.8 177.0a2.6 2.6 0 1 0 5.2 0a2.6 2.6 0 1 0 -5.2 0M507.3 184.4a2.6 2.6 0 1 0 5.2 0a2.6 2.6 0 1 0 -5.2 0M568.0 98.9a2.6 2.6 0 1 0 5.2 0a2.6 2.6 0 1 0 -5.2 0M668.9 132.3a2.6 2.6 0 1 0 5.2 0a2.6 2.6 0 1 0 -5.2 0M510.8 154.3a2.6 2.6 0 1 0 5.2 0a2.6 2.6 0 1 0 -5.2 0M525.8 270.3a2.6 2.6 0 1 0 5.2 0a2.6 2.6 0 1 0 -5.2 0M618.6 191.5a2.6 2.6 0 1 0 5.2 0a2.6 2.6 0 1 0 -5.2 0M643.8 154.2a2.6 2.6 0 1 0 5.2 0a2.6 2.6 0 1 0 -5.2 0M668.6 78.4a2.6 2.6 0 1 0 5.2 0a2.6 2.6 0 1 0 -5.2 0M666.1 84.9a2.6 2.6 0 1 0 5.2 0a2.6 2.6 0 1 0 -5.2 0M674.4 109.4a2.6 2.6 0 1 0 5.2 0a2.6 2.6 0 1 0 -5.2 0M506.9 182.8a2.6 2.6 0 1 0 5.2 0a2.6 2.6 0 1 0 -5.2 0M501.4 230.4a2.6 2.6 0 1 0 5.2 0a2.6 2.6 0 1 0 -5.2 0M665.9 104.1a2.6 2.6 0 1 0 5.2 0a2.6 2.6 0 1 0 -5.2 0M520.8 266.2a2.6 2.6 0 1 0 5.2 0a2.6 2.6 0 1 0 -5.2 0M554.9 273.6a2.6 2.6 0 1 0 5.2 0a2.6 2.6 0 1 0 -5.2 0M656.4 145.2a2.6 2.6 0 1 0 5.2 0a2.6 2.6 0 1 0 -5.2 0M624.1 64.3a2.6 2.6 0 1 0 5.2 0a2.6 2.6 0 1 0 -5.2 0M553.2 134.2a2.6 2.6 0 1 0 5.2 0a2.6 2.6 0 1 0 -5.2 0M611.9 182.4a2.6 2.6 0 1 0 5.2 0a2.6 2.6 0 1 0 -5.2 0M623.0 175.5a2.6 2.6 0 1 0 5.2 0a2.6 2.6 0 1 0 -5.2 0M538.2 273.2a2.6 2.6 0 1 0 5.2 0a2.6 2.6 0 1 0 -5.2 0M590.7 262.1a2.6 2.6 0 1 0 5.2 0a2.6 2.6 0 1 0 -5.2 0M501.0 205.2a2.6 2.6 0 1 0 5.2 0a2.6 2.6 0 1 0 -5.2 0M507.7 158.6a2.6 2.6 0 1 0 5.2 0a2.6 2.6 0 1 0 -5.2 0M642.8 157.5a2.6 2.6 0 1 0 5.2 0a2.6 2.6 0 1 0 -5.2 0M602.3 251.0a2.6 2.6 0 1 0 5.2 0a2.6 2.6 0 1 0 -5.2 0M567.7 114.4a2.6 2.6 0 1 0 5.2 0a2.6 2.6 0 1 0 -5.2 0M602.0 215.6a2.6 2.6 0 1 0 5.2 0a2.6 2.6 0 1 0 -5.2 0M530.9 152.6a2.6 2.6 0 1 0 5.2 0a2.6 2.6 0 1 0 -5.2 0M616.9 183.0a2.6 2.6 0 1 0 5.2 0a2.6 2.6 0 1 0 -5.2 0M648.1 148.0a2.6 2.6 0 1 0 5.2 0a2.6 2.6 0 1 0 -5.2 0M552.2 119.6a2.6 2.6 0 1 0 5.2 0a2.6 2.6 0 1 0 -5.2 0M510.3 179.7a2.6 2.6 0 1 0 5.2 0a2.6 2.6 0 1 0 -5.2 0M515.0 263.0a2.6 2.6 0 1 0 5.2 0a2.6 2.6 0 1 0 -5.2 0M633.8 65.4a2.6 2.6 0 1 0 5.2 0a2.6 2.6 0 1 0 -5.2 0M517.2 169.8a2.6 2.6 0 1 0 5.2 0a2.6 2.6 0 1 0 -5.2 0M602.3 204.4a2.6 2.6 0 1 0 5.2 0a2.6 2.6 0 1 0 -5.2 0M527.0 143.9a2.6 2.6 0 1 0 5.2 0a2.6 2.6 0 1 0 -5.2 0M550.5 126.0a2.6 2.6 0 1 0 5.2 0a2.6 2.6 0 1 0 -5.2 0M610.7 184.9a2.6 2.6 0 1 0 5.2 0a2.6 2.6 0 1 0 -5.2 0M549.4 114.6a2.6 2.6 0 1 0 5.2 0a2.6 2.6 0 1 0 -5.2 0M603.4 224.9a2.6 2.6 0 1 0 5.2 0a2.6 2.6 0 1 0 -5.2 0M506.1 262.8a2.6 2.6 0 1 0 5.2 0a2.6 2.6 0 1 0 -5.2 0M661.0 80.8a2.6 2.6 0 1 0 5.2 0a2.6 2.6 0 1 0 -5.2 0M667.6 95.6a2.6 2.6 0 1 0 5.2 0a2.6 2.6 0 1 0 -5.2 0M655.8 70.7a2.6 2.6 0 1 0 5.2 0a2.6 2.6 0 1 0 -5.2 0M669.9 117.1a2.6 2.6 0 1 0 5.2 0a2.6 2.6 0 1 0 -5.2 0M537.4 137.8a2.6 2.6 0 1 0 5.2 0a2.6 2.6 0 1 0 -5.2 0M634.8 174.9a2.6 2.6 0 1 0 5.2 0a2.6 2.6 0 1 0 -5.2 0M517.1 171.1a2.6 2.6 0 1 0 5.2 0a2.6 2.6 0 1 0 -5.2 0M576.7 270.2a2.6 2.6 0 1 0 5.2 0a2.6 2.6 0 1 0 -5.2 0M540.5 138.4a2.6 2.6 0 1 0 5.2 0a2.6 2.6 0 1 0 -5.2 0M524.0 267.1a2.6 2.6 0 1 0 5.2 0a2.6 2.6 0 1 0 -5.2 0M512.3 173.5a2.6 2.6 0 1 0 5.2 0a2.6 2.6 0 1 0 -5.2 0M664.2 87.5a2.6 2.6 0 1 0 5.2 0a2.6 2.6 0 1 0 -5.2 0M637.3 162.3a2.6 2.6 0 1 0 5.2 0a2.6 2.6 0 1 0 -5.2 0M571.6 110.1a2.6 2.6 0 1 0 5.2 0a2.6 2.6 0 1 0 -5.2 0M536.0 267.8a2.6 2.6 0 1 0 5.2 0a2.6 2.6 0 1 0 -5.2 0M504.2 260.8a2.6 2.6 0 1 0 5.2 0a2.6 2.6 0 1 0 -5.2 0M619.0 67.8a2.6 2.6 0 1 0 5.2 0a2.6 2.6 0 1 0 -5.2 0M538.8 152.5a2.6 2.6 0 1 0 5.2 0a2.6 2.6 0 1 0 -5.2 0M550.7 116.0a2.6 2.6 0 1 0 5.2 0a2.6 2.6 0 1 0 -5.2 0M584.9 90.3a2.6 2.6 0 1 0 5.2 0a2.6 2.6 0 1 0 -5.2 0M607.2 69.9a2.6 2.6 0 1 0 5.2 0a2.6 2.6 0 1 0 -5.2 0M502.2 205.3a2.6 2.6 0 1 0 5.2 0a2.6 2.6 0 1 0 -5.2 0M545.2 106.8a2.6 2.6 0 1 0 5.2 0a2.6 2.6 0 1 0 -5.2 0M537.0 269.1a2.6 2.6 0 1 0 5.2 0a2.6 2.6 0 1 0 -5.2 0M519.0 168.1a2.6 2.6 0 1 0 5.2 0a2.6 2.6 0 1 0 -5.2 0M512.2 262.4a2.6 2.6 0 1 0 5.2 0a2.6 2.6 0 1 0 -5.2 0M553.7 131.7a2.6 2.6 0 1 0 5.2 0a2.6 2.6 0 1 0 -5.2 0M513.2 165.1a2.6 2.6 0 1 0 5.2 0a2.6 2.6 0 1 0 -5.2 0M520.1 165.9a2.6 2.6 0 1 0 5.2 0a2.6 2.6 0 1 0 -5.2 0M536.9 146.2a2.6 2.6 0 1 0 5.2 0a2.6 2.6 0 1 0 -5.2 0M501.2 241.9a2.6 2.6 0 1 0 5.2 0a2.6 2.6 0 1 0 -5.2 0M606.5 192.6a2.6 2.6 0 1 0 5.2 0a2.6 2.6 0 1 0 -5.2 0M540.1 275.8a2.6 2.6 0 1 0 5.2 0a2.6 2.6 0 1 0 -5.2 0M533.0 270.0a2.6 2.6 0 1 0 5.2 0a2.6 2.6 0 1 0 -5.2 0M610.9 68.6a2.6 2.6 0 1 0 5.2 0a2.6 2.6 0 1 0 -5.2 0M498.5 248.2a2.6 2.6 0 1 0 5.2 0a2.6 2.6 0 1 0 -5.2 0M505.6 160.9a2.6 2.6 0 1 0 5.2 0a2.6 2.6 0 1 0 -5.2 0M604.6 64.5a2.6 2.6 0 1 0 5.2 0a2.6 2.6 0 1 0 -5.2 0M514.3 172.7a2.6 2.6 0 1 0 5.2 0a2.6 2.6 0 1 0 -5.2 0M642.8 161.0a2.6 2.6 0 1 0 5.2 0a2.6 2.6 0 1 0 -5.2 0M505.3 255.1a2.6 2.6 0 1 0 5.2 0a2.6 2.6 0 1 0 -5.2 0M585.9 88.9a2.6 2.6 0 1 0 5.2 0a2.6 2.6 0 1 0 -5.2 0M604.7 72.8a2.6 2.6 0 1 0 5.2 0a2.6 2.6 0 1 0 -5.2 0M538.6 116.4a2.6 2.6 0 1 0 5.2 0a2.6 2.6 0 1 0 -5.2 0M569.5 106.3a2.6 2.6 0 1 0 5.2 0a2.6 2.6 0 1 0 -5.2 0M530.2 157.1a2.6 2.6 0 1 0 5.2 0a2.6 2.6 0 1 0 -5.2 0M605.0 199.8a2.6 2.6 0 1 0 5.2 0a2.6 2.6 0 1 0 -5.2 0M601.7 209.7a2.6 2.6 0 1 0 5.2 0a2.6 2.6 0 1 0 -5.2 0M545.2 111.4a2.6 2.6 0 1 0 5.2 0a2.6 2.6 0 1 0 -5.2 0M630.6 173.3a2.6 2.6 0 1 0 5.2 0a2.6 2.6 0 1 0 -5.2 0M544.6 273.5a2.6 2.6 0 1 0 5.2 0a2.6 2.6 0 1 0 -5.2 0M595.9 255.8a2.6 2.6 0 1 0 5.2 0a2.6 2.6 0 1 0 -5.2 0M623.4 43.0a2.6 2.6 0 1 0 5.2 0a2.6 2.6 0 1 0 -5.2 0M601.7 74.2a2.6 2.6 0 1 0 5.2 0a2.6 2.6 0 1 0 -5.2 0M499.4 254.0a2.6 2.6 0 1 0 5.2 0a2.6 2.6 0 1 0 -5.2 0M509.2 179.7a2.6 2.6 0 1 0 5.2 0a2.6 2.6 0 1 0 -5.2 0M607.3 196.5a2.6 2.6 0 1 0 5.2 0a2.6 2.6 0 1 0 -5.2 0M630.9 165.3a2.6 2.6 0 1 0 5.2 0a2.6 2.6 0 1 0 -5.2 0M552.5 122.8a2.6 2.6 0 1 0 5.2 0a2.6 2.6 0 1 0 -5.2 0M597.0 75.7a2.6 2.6 0 1 0 5.2 0a2.6 2.6 0 1 0 -5.2 0M510.5 263.6a2.6 2.6 0 1 0 5.2 0a2.6 2.6 0 1 0 -5.2 0M581.5 87.3a2.6 2.6 0 1 0 5.2 0a2.6 2.6 0 1 0 -5.2 0M500.5 237.1a2.6 2.6 0 1 0 5.2 0a2.6 2.6 0 1 0 -5.2 0M514.7 161.7a2.6 2.6 0 1 0 5.2 0a2.6 2.6 0 1 0 -5.2 0M670.7 104.7a2.6 2.6 0 1 0 5.2 0a2.6 2.6 0 1 0 -5.2 0M536.8 139.4a2.6 2.6 0 1 0 5.2 0a2.6 2.6 0 1 0 -5.2 0M576.8 101.1a2.6 2.6 0 1 0 5.2 0a2.6 2.6 0 1 0 -5.2 0M510.1 173.2a2.6 2.6 0 1 0 5.2 0a2.6 2.6 0 1 0 -5.2 0M557.6 123.2a2.6 2.6 0 1 0 5.2 0a2.6 2.6 0 1 0 -5.2 0M507.8 189.3a2.6 2.6 0 1 0 5.2 0a2.6 2.6 0 1 0 -5.2 0M504.5 265.7a2.6 2.6 0 1 0 5.2 0a2.6 2.6 0 1 0 -5.2 0M574.3 97.4a2.6 2.6 0 1 0 5.2 0a2.6 2.6 0 1 0 -5.2 0M536.6 269.4a2.6 2.6 0 1 0 5.2 0a2.6 2.6 0 1 0 -5.2 0M644.6 59.7a2.6 2.6 0 1 0 5.2 0a2.6 2.6 0 1 0 -5.2 0M588.0 263.1a2.6 2.6 0 1 0 5.2 0a2.6 2.6 0 1 0 -5.2 0M545.8 132.8a2.6 2.6 0 1 0 5.2 0a2.6 2.6 0 1 0 -5.2 0M672.4 107.0a2.6 2.6 0 1 0 5.2 0a2.6 2.6 0 1 0 -5.2 0M502.0 194.0a2.6 2.6 0 1 0 5.2 0a2.6 2.6 0 1 0 -5.2 0M633.0 64.9a2.6 2.6 0 1 0 5.2 0a2.6 2.6 0 1 0 -5.2 0M599.7 255.4a2.6 2.6 0 1 0 5.2 0a2.6 2.6 0 1 0 -5.2 0M511.1 158.5a2.6 2.6 0 1 0 5.2 0a2.6 2.6 0 1 0 -5.2 0M605.3 72.7a2.6 2.6 0 1 0 5.2 0a2.6 2.6 0 1 0 -5.2 0M572.4 270.1a2.6 2.6 0 1 0 5.2 0a2.6 2.6 0 1 0 -5.2 0M520.4 265.9a2.6 2.6 0 1 0 5.2 0a2.6 2.6 0 1 0 -5.2 0M555.4 108.8a2.6 2.6 0 1 0 5.2 0a2.6 2.6 0 1 0 -5.2 0M662.3 133.1a2.6 2.6 0 1 0 5.2 0a2.6 2.6 0 1 0 -5.2 0M572.8 88.9a2.6 2.6 0 1 0 5.2 0a2.6 2.6 0 1 0 -5.2 0M673.8 124.3a2.6 2.6 0 1 0 5.2 0a2.6 2.6 0 1 0 -5.2 0M532.8 153.4a2.6 2.6 0 1 0 5.2 0a2.6 2.6 0 1 0 -5.2 0M543.4 145.9a2.6 2.6 0 1 0 5.2 0a2.6 2.6 0 1 0 -5.2 0M551.6 134.2a2.6 2.6 0 1 0 5.2 0a2.6 2.6 0 1 0 -5.2 0M654.5 67.0a2.6 2.6 0 1 0 5.2 0a2.6 2.6 0 1 0 -5.2 0M600.0 216.3a2.6 2.6 0 1 0 5.2 0a2.6 2.6 0 1 0 -5.2 0M604.7 217.4a2.6 2.6 0 1 0 5.2 0a2.6 2.6 0 1 0 -5.2 0M668.9 120.7a2.6 2.6 0 1 0 5.2 0a2.6 2.6 0 1 0 -5.2 0M618.2 180.6a2.6 2.6 0 1 0 5.2 0a2.6 2.6 0 1 0 -5.2 0M630.3 61.1a2.6 2.6 0 1 0 5.2 0a2.6 2.6 0 1 0 -5.2 0M502.5 196.5a2.6 2.6 0 1 0 5.2 0a2.6 2.6 0 1 0 -5.2 0M665.9 78.6a2.6 2.6 0 1 0 5.2 0a2.6 2.6 0 1 0 -5.2 0M533.8 143.1a2.6 2.6 0 1 0 5.2 0a2.6 2.6 0 1 0 -5.2 0M566.7 111.3a2.6 2.6 0 1 0 5.2 0a2.6 2.6 0 1 0 -5.2 0M663.2 86.7a2.6 2.6 0 1 0 5.2 0a2.6 2.6 0 1 0 -5.2 0M636.7 158.3a2.6 2.6 0 1 0 5.2 0a2.6 2.6 0 1 0 -5.2 0M575.2 93.3a2.6 2.6 0 1 0 5.2 0a2.6 2.6 0 1 0 -5.2 0M542.5 148.9a2.6 2.6 0 1 0 5.2 0a2.6 2.6 0 1 0 -5.2 0M519.4 169.4a2.6 2.6 0 1 0 5.2 0a2.6 2.6 0 1 0 -5.2 0M520.7 165.8a2.6 2.6 0 1 0 5.2 0a2.6 2.6 0 1 0 -5.2 0M633.4 159.6a2.6 2.6 0 1 0 5.2 0a2.6 2.6 0 1 0 -5.2 0M602.9 226.4a2.6 2.6 0 1 0 5.2 0a2.6 2.6 0 1 0 -5.2 0M504.8 194.6a2.6 2.6 0 1 0 5.2 0a2.6 2.6 0 1 0 -5.2 0M613.0 199.4a2.6 2.6 0 1 0 5.2 0a2.6 2.6 0 1 0 -5.2 0M624.0 172.3a2.6 2.6 0 1 0 5.2 0a2.6 2.6 0 1 0 -5.2 0M503.8 179.8a2.6 2.6 0 1 0 5.2 0a2.6 2.6 0 1 0 -5.2 0M503.4 210.8a2.6 2.6 0 1 0 5.2 0a2.6 2.6 0 1 0 -5.2 0M589.0 87.8a2.6 2.6 0 1 0 5.2 0a2.6 2.6 0 1 0 -5.2 0M624.7 65.1a2.6 2.6 0 1 0 5.2 0a2.6 2.6 0 1 0 -5.2 0M590.4 87.8a2.6 2.6 0 1 0 5.2 0a2.6 2.6 0 1 0 -5.2 0M559.6 128.5a2.6 2.6 0 1 0 5.2 0a2.6 2.6 0 1 0 -5.2 0M601.0 221.8a2.6 2.6 0 1 0 5.2 0a2.6 2.6 0 1 0 -5.2 0M633.3 160.9a2.6 2.6 0 1 0 5.2 0a2.6 2.6 0 1 0 -5.2 0M549.2 142.6a2.6 2.6 0 1 0 5.2 0a2.6 2.6 0 1 0 -5.2 0M595.5 254.2a2.6 2.6 0 1 0 5.2 0a2.6 2.6 0 1 0 -5.2 0M503.2 262.7a2.6 2.6 0 1 0 5.2 0a2.6 2.6 0 1 0 -5.2 0M599.1 252.9a2.6 2.6 0 1 0 5.2 0a2.6 2.6 0 1 0 -5.2 0M542.2 111.6a2.6 2.6 0 1 0 5.2 0a2.6 2.6 0 1 0 -5.2 0M546.2 273.6a2.6 2.6 0 1 0 5.2 0a2.6 2.6 0 1 0 -5.2 0M600.4 74.9a2.6 2.6 0 1 0 5.2 0a2.6 2.6 0 1 0 -5.2 0M571.5 92.5a2.6 2.6 0 1 0 5.2 0a2.6 2.6 0 1 0 -5.2 0M565.4 275.0a2.6 2.6 0 1 0 5.2 0a2.6 2.6 0 1 0 -5.2 0M500.4 201.9a2.6 2.6 0 1 0 5.2 0a2.6 2.6 0 1 0 -5.2 0M556.9 270.6a2.6 2.6 0 1 0 5.2 0a2.6 2.6 0 1 0 -5.2 0M566.5 109.9a2.6 2.6 0 1 0 5.2 0a2.6 2.6 0 1 0 -5.2 0M573.7 90.8a2.6 2.6 0 1 0 5.2 0a2.6 2.6 0 1 0 -5.2 0M667.9 103.9a2.6 2.6 0 1 0 5.2 0a2.6 2.6 0 1 0 -5.2 0M556.8 116.5a2.6 2.6 0 1 0 5.2 0a2.6 2.6 0 1 0 -5.2 0M616.3 181.6a2.6 2.6 0 1 0 5.2 0a2.6 2.6 0 1 0 -5.2 0M552.1 272.7a2.6 2.6 0 1 0 5.2 0a2.6 2.6 0 1 0 -5.2 0M601.3 206.2a2.6 2.6 0 1 0 5.2 0a2.6 2.6 0 1 0 -5.2 0M560.1 279.2a2.6 2.6 0 1 0 5.2 0a2.6 2.6 0 1 0 -5.2 0M527.9 267.1a2.6 2.6 0 1 0 5.2 0a2.6 2.6 0 1 0 -5.2 0M511.6 180.0a2.6 2.6 0 1 0 5.2 0a2.6 2.6 0 1 0 -5.2 0M509.7 260.1a2.6 2.6 0 1 0 5.2 0a2.6 2.6 0 1 0 -5.2 0M583.6 265.2a2.6 2.6 0 1 0 5.2 0a2.6 2.6 0 1 0 -5.2 0M576.3 91.1a2.6 2.6 0 1 0 5.2 0a2.6 2.6 0 1 0 -5.2 0M602.7 241.7a2.6 2.6 0 1 0 5.2 0a2.6 2.6 0 1 0 -5.2 0M656.8 138.1a2.6 2.6 0 1 0 5.2 0a2.6 2.6 0 1 0 -5.2 0M503.9 180.5a2.6 2.6 0 1 0 5.2 0a2.6 2.6 0 1 0 -5.2 0M664.9 118.6a2.6 2.6 0 1 0 5.2 0a2.6 2.6 0 1 0 -5.2 0M508.7 184.0a2.6 2.6 0 1 0 5.2 0a2.6 2.6 0 1 0 -5.2 0M564.1 120.2a2.6 2.6 0 1 0 5.2 0a2.6 2.6 0 1 0 -5.2 0M594.9 72.8a2.6 2.6 0 1 0 5.2 0a2.6 2.6 0 1 0 -5.2 0M555.6 126.5a2.6 2.6 0 1 0 5.2 0a2.6 2.6 0 1 0 -5.2 0M621.3 67.0a2.6 2.6 0 1 0 5.2 0a2.6 2.6 0 1 0 -5.2 0M562.0 107.5a2.6 2.6 0 1 0 5.2 0a2.6 2.6 0 1 0 -5.2 0M520.2 167.0a2.6 2.6 0 1 0 5.2 0a2.6 2.6 0 1 0 -5.2 0M529.0 149.1a2.6 2.6 0 1 0 5.2 0a2.6 2.6 0 1 0 -5.2 0M602.2 209.0a2.6 2.6 0 1 0 5.2 0a2.6 2.6 0 1 0 -5.2 0M664.5 98.6a2.6 2.6 0 1 0 5.2 0a2.6 2.6 0 1 0 -5.2 0M602.3 74.1a2.6 2.6 0 1 0 5.2 0a2.6 2.6 0 1 0 -5.2 0M609.6 189.8a2.6 2.6 0 1 0 5.2 0a2.6 2.6 0 1 0 -5.2 0M599.8 253.2a2.6 2.6 0 1 0 5.2 0a2.6 2.6 0 1 0 -5.2 0M666.1 113.2a2.6 2.6 0 1 0 5.2 0a2.6 2.6 0 1 0 -5.2 0M599.8 261.1a2.6 2.6 0 1 0 5.2 0a2.6 2.6 0 1 0 -5.2 0M600.8 240.0a2.6 2.6 0 1 0 5.2 0a2.6 2.6 0 1 0 -5.2 0M586.5 269.9a2.6 2.6 0 1 0 5.2 0a2.6 2.6 0 1 0 -5.2 0M593.7 79.3a2.6 2.6 0 1 0 5.2 0a2.6 2.6 0 1 0 -5.2 0M671.6 109.8a2.6 2.6 0 1 0 5.2 0a2.6 2.6 0 1 0 -5.2 0M513.3 263.0a2.6 2.6 0 1 0 5.2 0a2.6 2.6 0 1 0 -5.2 0M514.4 153.0a2.6 2.6 0 1 0 5.2 0a2.6 2.6 0 1 0 -5.2 0M556.8 116.5a2.6 2.6 0 1 0 5.2 0a2.6 2.6 0 1 0 -5.2 0M499.1 231.2a2.6 2.6 0 1 0 5.2 0a2.6 2.6 0 1 0 -5.2 0M526.0 145.1a2.6 2.6 0 1 0 5.2 0a2.6 2.6 0 1 0 -5.2 0M502.3 217.3a2.6 2.6 0 1 0 5.2 0a2.6 2.6 0 1 0 -5.2 0M504.2 215.0a2.6 2.6 0 1 0 5.2 0a2.6 2.6 0 1 0 -5.2 0M502.4 225.4a2.6 2.6 0 1 0 5.2 0a2.6 2.6 0 1 0 -5.2 0M504.0 216.1a2.6 2.6 0 1 0 5.2 0a2.6 2.6 0 1 0 -5.2 0M501.1 224.3a2.6 2.6 0 1 0 5.2 0a2.6 2.6 0 1 0 -5.2 0M503.0 230.7a2.6 2.6 0 1 0 5.2 0a2.6 2.6 0 1 0 -5.2 0M504.2 229.8a2.6 2.6 0 1 0 5.2 0a2.6 2.6 0 1 0 -5.2 0M504.4 205.0a2.6 2.6 0 1 0 5.2 0a2.6 2.6 0 1 0 -5.2 0M503.7 208.2a2.6 2.6 0 1 0 5.2 0a2.6 2.6 0 1 0 -5.2 0M503.8 209.5a2.6 2.6 0 1 0 5.2 0a2.6 2.6 0 1 0 -5.2 0M504.7 210.1a2.6 2.6 0 1 0 5.2 0a2.6 2.6 0 1 0 -5.2 0M507.6 189.9a2.6 2.6 0 1 0 5.2 0a2.6 2.6 0 1 0 -5.2 0M507.9 197.3a2.6 2.6 0 1 0 5.2 0a2.6 2.6 0 1 0 -5.2 0M507.6 195.4a2.6 2.6 0 1 0 5.2 0a2.6 2.6 0 1 0 -5.2 0M508.5 193.2a2.6 2.6 0 1 0 5.2 0a2.6 2.6 0 1 0 -5.2 0M508.4 181.2a2.6 2.6 0 1 0 5.2 0a2.6 2.6 0 1 0 -5.2 0M509.0 191.0a2.6 2.6 0 1 0 5.2 0a2.6 2.6 0 1 0 -5.2 0M510.3 187.8a2.6 2.6 0 1 0 5.2 0a2.6 2.6 0 1 0 -5.2 0M506.8 200.2a2.6 2.6 0 1 0 5.2 0a2.6 2.6 0 1 0 -5.2 0M526.8 163.7a2.6 2.6 0 1 0 5.2 0a2.6 2.6 0 1 0 -5.2 0M519.0 172.4a2.6 2.6 0 1 0 5.2 0a2.6 2.6 0 1 0 -5.2 0M520.0 166.7a2.6 2.6 0 1 0 5.2 0a2.6 2.6 0 1 0 -5.2 0M511.7 179.1a2.6 2.6 0 1 0 5.2 0a2.6 2.6 0 1 0 -5.2 0M509.6 182.2a2.6 2.6 0 1 0 5.2 0a2.6 2.6 0 1 0 -5.2 0M517.4 176.4a2.6 2.6 0 1 0 5.2 0a2.6 2.6 0 1 0 -5.2 0M525.3 165.5a2.6 2.6 0 1 0 5.2 0a2.6 2.6 0 1 0 -5.2 0M527.6 165.0a2.6 2.6 0 1 0 5.2 0a2.6 2.6 0 1 0 -5.2 0M514.7 174.3a2.6 2.6 0 1 0 5.2 0a2.6 2.6 0 1 0 -5.2 0M516.8 173.2a2.6 2.6 0 1 0 5.2 0a2.6 2.6 0 1 0 -5.2 0M533.2 157.0a2.6 2.6 0 1 0 5.2 0a2.6 2.6 0 1 0 -5.2 0M544.3 149.1a2.6 2.6 0 1 0 5.2 0a2.6 2.6 0 1 0 -5.2 0M531.9 158.0a2.6 2.6 0 1 0 5.2 0a2.6 2.6 0 1 0 -5.2 0M548.2 143.6a2.6 2.6 0 1 0 5.2 0a2.6 2.6 0 1 0 -5.2 0M535.5 157.0a2.6 2.6 0 1 0 5.2 0a2.6 2.6 0 1 0 -5.2 0M530.3 159.0a2.6 2.6 0 1 0 5.2 0a2.6 2.6 0 1 0 -5.2 0M542.2 149.9a2.6 2.6 0 1 0 5.2 0a2.6 2.6 0 1 0 -5.2 0M547.9 147.0a2.6 2.6 0 1 0 5.2 0a2.6 2.6 0 1 0 -5.2 0M548.7 144.2a2.6 2.6 0 1 0 5.2 0a2.6 2.6 0 1 0 -5.2 0M553.0 139.5a2.6 2.6 0 1 0 5.2 0a2.6 2.6 0 1 0 -5.2 0M558.1 133.9a2.6 2.6 0 1 0 5.2 0a2.6 2.6 0 1 0 -5.2 0M554.1 135.5a2.6 2.6 0 1 0 5.2 0a2.6 2.6 0 1 0 -5.2 0M556.7 131.8a2.6 2.6 0 1 0 5.2 0a2.6 2.6 0 1 0 -5.2 0M562.4 125.6a2.6 2.6 0 1 0 5.2 0a2.6 2.6 0 1 0 -5.2 0M559.6 130.9a2.6 2.6 0 1 0 5.2 0a2.6 2.6 0 1 0 -5.2 0M549.9 142.6a2.6 2.6 0 1 0 5.2 0a2.6 2.6 0 1 0 -5.2 0M554.8 134.7a2.6 2.6 0 1 0 5.2 0a2.6 2.6 0 1 0 -5.2 0M552.4 138.8a2.6 2.6 0 1 0 5.2 0a2.6 2.6 0 1 0 -5.2 0M564.7 119.6a2.6 2.6 0 1 0 5.2 0a2.6 2.6 0 1 0 -5.2 0M566.4 122.2a2.6 2.6 0 1 0 5.2 0a2.6 2.6 0 1 0 -5.2 0M563.4 123.7a2.6 2.6 0 1 0 5.2 0a2.6 2.6 0 1 0 -5.2 0M570.3 112.2a2.6 2.6 0 1 0 5.2 0a2.6 2.6 0 1 0 -5.2 0M567.7 120.4a2.6 2.6 0 1 0 5.2 0a2.6 2.6 0 1 0 -5.2 0M571.3 114.1a2.6 2.6 0 1 0 5.2 0a2.6 2.6 0 1 0 -5.2 0M574.4 107.7a2.6 2.6 0 1 0 5.2 0a2.6 2.6 0 1 0 -5.2 0M574.5 105.3a2.6 2.6 0 1 0 5.2 0a2.6 2.6 0 1 0 -5.2 0M578.9 100.3a2.6 2.6 0 1 0 5.2 0a2.6 2.6 0 1 0 -5.2 0M574.4 109.5a2.6 2.6 0 1 0 5.2 0a2.6 2.6 0 1 0 -5.2 0M576.2 103.6a2.6 2.6 0 1 0 5.2 0a2.6 2.6 0 1 0 -5.2 0M588.5 90.0a2.6 2.6 0 1 0 5.2 0a2.6 2.6 0 1 0 -5.2 0M586.9 88.9a2.6 2.6 0 1 0 5.2 0a2.6 2.6 0 1 0 -5.2 0M587.4 91.0a2.6 2.6 0 1 0 5.2 0a2.6 2.6 0 1 0 -5.2 0M586.4 89.4a2.6 2.6 0 1 0 5.2 0a2.6 2.6 0 1 0 -5.2 0M579.3 95.9a2.6 2.6 0 1 0 5.2 0a2.6 2.6 0 1 0 -5.2 0M591.3 85.4a2.6 2.6 0 1 0 5.2 0a2.6 2.6 0 1 0 -5.2 0M589.9 87.9a2.6 2.6 0 1 0 5.2 0a2.6 2.6 0 1 0 -5.2 0M596.9 78.9a2.6 2.6 0 1 0 5.2 0a2.6 2.6 0 1 0 -5.2 0M589.8 88.3a2.6 2.6 0 1 0 5.2 0a2.6 2.6 0 1 0 -5.2 0M591.9 86.7a2.6 2.6 0 1 0 5.2 0a2.6 2.6 0 1 0 -5.2 0M600.9 74.9a2.6 2.6 0 1 0 5.2 0a2.6 2.6 0 1 0 -5.2 0M610.5 68.1a2.6 2.6 0 1 0 5.2 0a2.6 2.6 0 1 0 -5.2 0M609.6 72.1a2.6 2.6 0 1 0 5.2 0a2.6 2.6 0 1 0 -5.2 0M599.1 77.4a2.6 2.6 0 1 0 5.2 0a2.6 2.6 0 1 0 -5.2 0M602.5 75.5a2.6 2.6 0 1 0 5.2 0a2.6 2.6 0 1 0 -5.2 0M609.7 71.3a2.6 2.6 0 1 0 5.2 0a2.6 2.6 0 1 0 -5.2 0M616.1 67.8a2.6 2.6 0 1 0 5.2 0a2.6 2.6 0 1 0 -5.2 0M624.0 68.4a2.6 2.6 0 1 0 5.2 0a2.6 2.6 0 1 0 -5.2 0M614.1 69.6a2.6 2.6 0 1 0 5.2 0a2.6 2.6 0 1 0 -5.2 0M623.0 66.0a2.6 2.6 0 1 0 5.2 0a2.6 2.6 0 1 0 -5.2 0M625.8 66.1a2.6 2.6 0 1 0 5.2 0a2.6 2.6 0 1 0 -5.2 0M622.9 65.5a2.6 2.6 0 1 0 5.2 0a2.6 2.6 0 1 0 -5.2 0M636.9 65.3a2.6 2.6 0 1 0 5.2 0a2.6 2.6 0 1 0 -5.2 0M639.6 67.3a2.6 2.6 0 1 0 5.2 0a2.6 2.6 0 1 0 -5.2 0M633.3 66.0a2.6 2.6 0 1 0 5.2 0a2.6 2.6 0 1 0 -5.2 0M630.7 65.1a2.6 2.6 0 1 0 5.2 0a2.6 2.6 0 1 0 -5.2 0M638.0 63.6a2.6 2.6 0 1 0 5.2 0a2.6 2.6 0 1 0 -5.2 0M646.9 64.0a2.6 2.6 0 1 0 5.2 0a2.6 2.6 0 1 0 -5.2 0M634.5 64.9a2.6 2.6 0 1 0 5.2 0a2.6 2.6 0 1 0 -5.2 0M650.8 68.0a2.6 2.6 0 1 0 5.2 0a2.6 2.6 0 1 0 -5.2 0M649.2 68.1a2.6 2.6 0 1 0 5.2 0a2.6 2.6 0 1 0 -5.2 0M652.7 70.0a2.6 2.6 0 1 0 5.2 0a2.6 2.6 0 1 0 -5.2 0M656.2 69.0a2.6 2.6 0 1 0 5.2 0a2.6 2.6 0 1 0 -5.2 0M658.1 71.4a2.6 2.6 0 1 0 5.2 0a2.6 2.6 0 1 0 -5.2 0M664.0 93.6a2.6 2.6 0 1 0 5.2 0a2.6 2.6 0 1 0 -5.2 0M661.4 92.6a2.6 2.6 0 1 0 5.2 0a2.6 2.6 0 1 0 -5.2 0M662.6 88.9a2.6 2.6 0 1 0 5.2 0a2.6 2.6 0 1 0 -5.2 0M663.7 91.5a2.6 2.6 0 1 0 5.2 0a2.6 2.6 0 1 0 -5.2 0M659.5 78.2a2.6 2.6 0 1 0 5.2 0a2.6 2.6 0 1 0 -5.2 0M663.3 89.4a2.6 2.6 0 1 0 5.2 0a2.6 2.6 0 1 0 -5.2 0M661.3 85.6a2.6 2.6 0 1 0 5.2 0a2.6 2.6 0 1 0 -5.2 0M660.8 88.6a2.6 2.6 0 1 0 5.2 0a2.6 2.6 0 1 0 -5.2 0M666.8 115.7a2.6 2.6 0 1 0 5.2 0a2.6 2.6 0 1 0 -5.2 0M664.4 97.0a2.6 2.6 0 1 0 5.2 0a2.6 2.6 0 1 0 -5.2 0M665.0 115.6a2.6 2.6 0 1 0 5.2 0a2.6 2.6 0 1 0 -5.2 0M665.7 110.6a2.6 2.6 0 1 0 5.2 0a2.6 2.6 0 1 0 -5.2 0M663.3 98.6a2.6 2.6 0 1 0 5.2 0a2.6 2.6 0 1 0 -5.2 0M663.1 111.1a2.6 2.6 0 1 0 5.2 0a2.6 2.6 0 1 0 -5.2 0M666.6 115.0a2.6 2.6 0 1 0 5.2 0a2.6 2.6 0 1 0 -5.2 0M663.3 110.0a2.6 2.6 0 1 0 5.2 0a2.6 2.6 0 1 0 -5.2 0M664.2 119.0a2.6 2.6 0 1 0 5.2 0a2.6 2.6 0 1 0 -5.2 0M662.4 128.1a2.6 2.6 0 1 0 5.2 0a2.6 2.6 0 1 0 -5.2 0M666.8 117.4a2.6 2.6 0 1 0 5.2 0a2.6 2.6 0 1 0 -5.2 0M661.8 132.7a2.6 2.6 0 1 0 5.2 0a2.6 2.6 0 1 0 -5.2 0M660.6 127.9a2.6 2.6 0 1 0 5.2 0a2.6 2.6 0 1 0 -5.2 0M660.2 129.9a2.6 2.6 0 1 0 5.2 0a2.6 2.6 0 1 0 -5.2 0M662.0 132.2a2.6 2.6 0 1 0 5.2 0a2.6 2.6 0 1 0 -5.2 0M656.7 140.1a2.6 2.6 0 1 0 5.2 0a2.6 2.6 0 1 0 -5.2 0M658.2 139.1a2.6 2.6 0 1 0 5.2 0a2.6 2.6 0 1 0 -5.2 0M651.8 139.9a2.6 2.6 0 1 0 5.2 0a2.6 2.6 0 1 0 -5.2 0M647.9 145.7a2.6 2.6 0 1 0 5.2 0a2.6 2.6 0 1 0 -5.2 0M647.3 142.8a2.6 2.6 0 1 0 5.2 0a2.6 2.6 0 1 0 -5.2 0M654.4 139.2a2.6 2.6 0 1 0 5.2 0a2.6 2.6 0 1 0 -5.2 0M654.4 138.6a2.6 2.6 0 1 0 5.2 0a2.6 2.6 0 1 0 -5.2 0M637.5 154.7a2.6 2.6 0 1 0 5.2 0a2.6 2.6 0 1 0 -5.2 0M635.9 156.4a2.6 2.6 0 1 0 5.2 0a2.6 2.6 0 1 0 -5.2 0M633.8 157.9a2.6 2.6 0 1 0 5.2 0a2.6 2.6 0 1 0 -5.2 0M635.6 160.1a2.6 2.6 0 1 0 5.2 0a2.6 2.6 0 1 0 -5.2 0M640.4 153.4a2.6 2.6 0 1 0 5.2 0a2.6 2.6 0 1 0 -5.2 0M644.2 149.9a2.6 2.6 0 1 0 5.2 0a2.6 2.6 0 1 0 -5.2 0M637.8 154.3a2.6 2.6 0 1 0 5.2 0a2.6 2.6 0 1 0 -5.2 0M637.6 155.3a2.6 2.6 0 1 0 5.2 0a2.6 2.6 0 1 0 -5.2 0M618.9 174.9a2.6 2.6 0 1 0 5.2 0a2.6 2.6 0 1 0 -5.2 0M629.1 164.2a2.6 2.6 0 1 0 5.2 0a2.6 2.6 0 1 0 -5.2 0M619.2 177.8a2.6 2.6 0 1 0 5.2 0a2.6 2.6 0 1 0 -5.2 0M619.1 172.7a2.6 2.6 0 1 0 5.2 0a2.6 2.6 0 1 0 -5.2 0M618.2 174.8a2.6 2.6 0 1 0 5.2 0a2.6 2.6 0 1 0 -5.2 0M623.6 170.2a2.6 2.6 0 1 0 5.2 0a2.6 2.6 0 1 0 -5.2 0M616.3 176.7a2.6 2.6 0 1 0 5.2 0a2.6 2.6 0 1 0 -5.2 0M621.4 170.4a2.6 2.6 0 1 0 5.2 0a2.6 2.6 0 1 0 -5.2 0M613.1 177.9a2.6 2.6 0 1 0 5.2 0a2.6 2.6 0 1 0 -5.2 0M609.0 186.9a2.6 2.6 0 1 0 5.2 0a2.6 2.6 0 1 0 -5.2 0M607.9 190.3a2.6 2.6 0 1 0 5.2 0a2.6 2.6 0 1 0 -5.2 0M606.9 187.7a2.6 2.6 0 1 0 5.2 0a2.6 2.6 0 1 0 -5.2 0M604.7 190.7a2.6 2.6 0 1 0 5.2 0a2.6 2.6 0 1 0 -5.2 0M610.1 184.7a2.6 2.6 0 1 0 5.2 0a2.6 2.6 0 1 0 -5.2 0M603.8 195.9a2.6 2.6 0 1 0 5.2 0a2.6 2.6 0 1 0 -5.2 0M604.9 191.8a2.6 2.6 0 1 0 5.2 0a2.6 2.6 0 1 0 -5.2 0M599.9 204.1a2.6 2.6 0 1 0 5.2 0a2.6 2.6 0 1 0 -5.2 0M602.7 196.1a2.6 2.6 0 1 0 5.2 0a2.6 2.6 0 1 0 -5.2 0M602.5 190.1a2.6 2.6 0 1 0 5.2 0a2.6 2.6 0 1 0 -5.2 0M602.4 205.3a2.6 2.6 0 1 0 5.2 0a2.6 2.6 0 1 0 -5.2 0M605.4 192.5a2.6 2.6 0 1 0 5.2 0a2.6 2.6 0 1 0 -5.2 0M598.4 211.3a2.6 2.6 0 1 0 5.2 0a2.6 2.6 0 1 0 -5.2 0M599.5 215.6a2.6 2.6 0 1 0 5.2 0a2.6 2.6 0 1 0 -5.2 0M598.3 220.9a2.6 2.6 0 1 0 5.2 0a2.6 2.6 0 1 0 -5.2 0M601.1 216.2a2.6 2.6 0 1 0 5.2 0a2.6 2.6 0 1 0 -5.2 0M600.9 224.8a2.6 2.6 0 1 0 5.2 0a2.6 2.6 0 1 0 -5.2 0M599.8 216.0a2.6 2.6 0 1 0 5.2 0a2.6 2.6 0 1 0 -5.2 0M600.7 222.6a2.6 2.6 0 1 0 5.2 0a2.6 2.6 0 1 0 -5.2 0M599.1 239.4a2.6 2.6 0 1 0 5.2 0a2.6 2.6 0 1 0 -5.2 0M597.5 241.2a2.6 2.6 0 1 0 5.2 0a2.6 2.6 0 1 0 -5.2 0M600.3 244.1a2.6 2.6 0 1 0 5.2 0a2.6 2.6 0 1 0 -5.2 0M600.6 242.9a2.6 2.6 0 1 0 5.2 0a2.6 2.6 0 1 0 -5.2 0M599.6 237.7a2.6 2.6 0 1 0 5.2 0a2.6 2.6 0 1 0 -5.2 0M598.0 247.1a2.6 2.6 0 1 0 5.2 0a2.6 2.6 0 1 0 -5.2 0M600.3 248.8a2.6 2.6 0 1 0 5.2 0a2.6 2.6 0 1 0 -5.2 0M597.3 241.5a2.6 2.6 0 1 0 5.2 0a2.6 2.6 0 1 0 -5.2 0M595.7 252.8a2.6 2.6 0 1 0 5.2 0a2.6 2.6 0 1 0 -5.2 0M596.8 251.7a2.6 2.6 0 1 0 5.2 0a2.6 2.6 0 1 0 -5.2 0M591.6 258.8a2.6 2.6 0 1 0 5.2 0a2.6 2.6 0 1 0 -5.2 0M588.8 262.0a2.6 2.6 0 1 0 5.2 0a2.6 2.6 0 1 0 -5.2 0M594.3 253.9a2.6 2.6 0 1 0 5.2 0a2.6 2.6 0 1 0 -5.2 0M590.4 262.0a2.6 2.6 0 1 0 5.2 0a2.6 2.6 0 1 0 -5.2 0M580.1 266.0a2.6 2.6 0 1 0 5.2 0a2.6 2.6 0 1 0 -5.2 0M584.3 264.7a2.6 2.6 0 1 0 5.2 0a2.6 2.6 0 1 0 -5.2 0M580.0 263.4a2.6 2.6 0 1 0 5.2 0a2.6 2.6 0 1 0 -5.2 0M570.7 269.9a2.6 2.6 0 1 0 5.2 0a2.6 2.6 0 1 0 -5.2 0M586.6 265.0a2.6 2.6 0 1 0 5.2 0a2.6 2.6 0 1 0 -5.2 0M572.5 269.7a2.6 2.6 0 1 0 5.2 0a2.6 2.6 0 1 0 -5.2 0M590.3 261.0a2.6 2.6 0 1 0 5.2 0a2.6 2.6 0 1 0 -5.2 0M552.5 269.9a2.6 2.6 0 1 0 5.2 0a2.6 2.6 0 1 0 -5.2 0M550.1 270.8a2.6 2.6 0 1 0 5.2 0a2.6 2.6 0 1 0 -5.2 0M554.4 270.7a2.6 2.6 0 1 0 5.2 0a2.6 2.6 0 1 0 -5.2 0M561.1 270.4a2.6 2.6 0 1 0 5.2 0a2.6 2.6 0 1 0 -5.2 0M569.2 271.7a2.6 2.6 0 1 0 5.2 0a2.6 2.6 0 1 0 -5.2 0M560.6 270.4a2.6 2.6 0 1 0 5.2 0a2.6 2.6 0 1 0 -5.2 0M559.5 271.8a2.6 2.6 0 1 0 5.2 0a2.6 2.6 0 1 0 -5.2 0M538.5 268.1a2.6 2.6 0 1 0 5.2 0a2.6 2.6 0 1 0 -5.2 0M539.6 270.2a2.6 2.6 0 1 0 5.2 0a2.6 2.6 0 1 0 -5.2 0M532.8 266.6a2.6 2.6 0 1 0 5.2 0a2.6 2.6 0 1 0 -5.2 0M532.7 265.8a2.6 2.6 0 1 0 5.2 0a2.6 2.6 0 1 0 -5.2 0M539.3 269.3a2.6 2.6 0 1 0 5.2 0a2.6 2.6 0 1 0 -5.2 0M536.3 268.3a2.6 2.6 0 1 0 5.2 0a2.6 2.6 0 1 0 -5.2 0M540.2 269.5a2.6 2.6 0 1 0 5.2 0a2.6 2.6 0 1 0 -5.2 0M537.1 266.4a2.6 2.6 0 1 0 5.2 0a2.6 2.6 0 1 0 -5.2 0M512.4 261.3a2.6 2.6 0 1 0 5.2 0a2.6 2.6 0 1 0 -5.2 0M514.7 262.7a2.6 2.6 0 1 0 5.2 0a2.6 2.6 0 1 0 -5.2 0M512.8 258.8a2.6 2.6 0 1 0 5.2 0a2.6 2.6 0 1 0 -5.2 0M508.5 259.0a2.6 2.6 0 1 0 5.2 0a2.6 2.6 0 1 0 -5.2 0M521.1 262.2a2.6 2.6 0 1 0 5.2 0a2.6 2.6 0 1 0 -5.2 0M513.2 262.6a2.6 2.6 0 1 0 5.2 0a2.6 2.6 0 1 0 -5.2 0M520.0 262.1a2.6 2.6 0 1 0 5.2 0a2.6 2.6 0 1 0 -5.2 0M501.9 249.1a2.6 2.6 0 1 0 5.2 0a2.6 2.6 0 1 0 -5.2 0M505.4 253.7a2.6 2.6 0 1 0 5.2 0a2.6 2.6 0 1 0 -5.2 0M505.2 255.1a2.6 2.6 0 1 0 5.2 0a2.6 2.6 0 1 0 -5.2 0M504.8 255.3a2.6 2.6 0 1 0 5.2 0a2.6 2.6 0 1 0 -5.2 0M504.6 253.4a2.6 2.6 0 1 0 5.2 0a2.6 2.6 0 1 0 -5.2 0M502.5 236.4a2.6 2.6 0 1 0 5.2 0a2.6 2.6 0 1 0 -5.2 0M503.3 237.3a2.6 2.6 0 1 0 5.2 0a2.6 2.6 0 1 0 -5.2 0M500.9 246.2a2.6 2.6 0 1 0 5.2 0a2.6 2.6 0 1 0 -5.2 0M502.0 240.1a2.6 2.6 0 1 0 5.2 0a2.6 2.6 0 1 0 -5.2 0M502.2 245.3a2.6 2.6 0 1 0 5.2 0a2.6 2.6 0 1 0 -5.2 0M616.6 29.7a2.6 2.6 0 1 0 5.2 0a2.6 2.6 0 1 0 -5.2 0M617.5 37.3a2.6 2.6 0 1 0 5.2 0a2.6 2.6 0 1 0 -5.2 0M645.4 32.0a2.6 2.6 0 1 0 5.2 0a2.6 2.6 0 1 0 -5.2 0M644.2 38.0a2.6 2.6 0 1 0 5.2 0a2.6 2.6 0 1 0 -5.2 0M603.7 45.3a2.6 2.6 0 1 0 5.2 0a2.6 2.6 0 1 0 -5.2 0M620.5 53.4a2.6 2.6 0 1 0 5.2 0a2.6 2.6 0 1 0 -5.2 0M628.6 39.6a2.6 2.6 0 1 0 5.2 0a2.6 2.6 0 1 0 -5.2 0M631.3 43.0a2.6 2.6 0 1 0 5.2 0a2.6 2.6 0 1 0 -5.2 0M652.3 45.3a2.6 2.6 0 1 0 5.2 0a2.6 2.6 0 1 0 -5.2 0M660.8 52.7a2.6 2.6 0 1 0 5.2 0a2.6 2.6 0 1 0 -5.2 0M670.0 58.0a2.6 2.6 0 1 0 5.2 0a2.6 2.6 0 1 0 -5.2 0M526.1 94.1a2.6 2.6 0 1 0 5.2 0a2.6 2.6 0 1 0 -5.2 0M543.4 92.5a2.6 2.6 0 1 0 5.2 0a2.6 2.6 0 1 0 -5.2 0M519.9 108.6a2.6 2.6 0 1 0 5.2 0a2.6 2.6 0 1 0 -5.2 0M539.9 107.5a2.6 2.6 0 1 0 5.2 0a2.6 2.6 0 1 0 -5.2 0M534.2 113.3a2.6 2.6 0 1 0 5.2 0a2.6 2.6 0 1 0 -5.2 0M510.0 136.3a2.6 2.6 0 1 0 5.2 0a2.6 2.6 0 1 0 -5.2 0M515.8 144.3a2.6 2.6 0 1 0 5.2 0a2.6 2.6 0 1 0 -5.2 0M681.5 113.3a2.6 2.6 0 1 0 5.2 0a2.6 2.6 0 1 0 -5.2 0M675.8 132.8a2.6 2.6 0 1 0 5.2 0a2.6 2.6 0 1 0 -5.2 0M665.4 145.5a2.6 2.6 0 1 0 5.2 0a2.6 2.6 0 1 0 -5.2 0M643.5 160.5a2.6 2.6 0 1 0 5.2 0a2.6 2.6 0 1 0 -5.2 0M630.9 188.1a2.6 2.6 0 1 0 5.2 0a2.6 2.6 0 1 0 -5.2 0M636.6 189.2a2.6 2.6 0 1 0 5.2 0a2.6 2.6 0 1 0 -5.2 0M628.6 210.0a2.6 2.6 0 1 0 5.2 0a2.6 2.6 0 1 0 -5.2 0M617.1 197.3a2.6 2.6 0 1 0 5.2 0a2.6 2.6 0 1 0 -5.2 0M501.9 267.5a2.6 2.6 0 1 0 5.2 0a2.6 2.6 0 1 0 -5.2 0M557.2 280.2a2.6 2.6 0 1 0 5.2 0a2.6 2.6 0 1 0 -5.2 0M548.0 279.0a2.6 2.6 0 1 0 5.2 0a2.6 2.6 0 1 0 -5.2 0M574.5 275.6a2.6 2.6 0 1 0 5.2 0a2.6 2.6 0 1 0 -5.2 0M658.5 44.2a2.6 2.6 0 1 0 5.2 0a2.6 2.6 0 1 0 -5.2 0" fill="#808080"/>
<line x1="502.20" y1="235.30" x2="692.90" y2="63.70" stroke="#000" stroke-width="3.2"/>
<line x1="471.90" y1="284.00" x2="692.50" y2="284.00" stroke="#a8a8a8" stroke-width="1.6"/>
<line x1="471.90" y1="24.60" x2="471.90" y2="290.80" stroke="#555" stroke-width="1.1"/>
<line x1="465.50" y1="265.50" x2="471.90" y2="265.50" stroke="#555" stroke-width="1.2"/>
<text x="459.00" y="270.50" font-size="14" text-anchor="end">0</text>
<line x1="471.90" y1="284.00" x2="471.90" y2="290.80" stroke="#444" stroke-width="1.1"/>
<text x="471.90" y="306.70" font-size="14" text-anchor="middle">0</text>
<line x1="465.50" y1="165.75" x2="471.90" y2="165.75" stroke="#555" stroke-width="1.2"/>
<text x="459.00" y="170.75" font-size="14" text-anchor="end">50</text>
<line x1="580.90" y1="284.00" x2="580.90" y2="290.80" stroke="#444" stroke-width="1.1"/>
<text x="580.90" y="306.70" font-size="14" text-anchor="middle">50</text>
<line x1="465.50" y1="66.00" x2="471.90" y2="66.00" stroke="#555" stroke-width="1.2"/>
<text x="459.00" y="71.00" font-size="14" text-anchor="end">100</text>
<line x1="689.90" y1="284.00" x2="689.90" y2="290.80" stroke="#444" stroke-width="1.1"/>
<text x="689.90" y="306.70" font-size="14" text-anchor="middle">100</text>
<text x="582.00" y="330.50" font-size="15" text-anchor="middle" textLength="129.0" lengthAdjust="spacingAndGlyphs">Chronological age</text>
<text x="403.50" y="155.20" font-size="15" text-anchor="middle" transform="rotate(-90.000 403.50 155.20)" textLength="95.0" lengthAdjust="spacingAndGlyphs">Predicted age</text>
<text x="420.30" y="155.00" font-size="15" text-anchor="middle" transform="rotate(-90.000 420.30 155.00)" textLength="163.0" lengthAdjust="spacingAndGlyphs">(stochastic data-based)</text>
<text x="478.60" y="24.60" font-size="14"><tspan font-style="italic">R</tspan> = 0.72, <tspan font-style="italic">P</tspan> &lt; 1 × 10<tspan dy="-6.5" font-size="10">−16</tspan></text>
<text x="0.60" y="366.20" font-size="22" fill="#000" font-weight="bold" stroke="#000" stroke-width="0.9">c</text>
<circle cx="330.8" cy="732.8" r="39.10" fill="none" stroke="#b8b8b8" stroke-width="1.6"/>
<circle cx="330.8" cy="732.8" r="78.20" fill="none" stroke="#b8b8b8" stroke-width="1.6"/>
<circle cx="330.8" cy="732.8" r="117.30" fill="none" stroke="#b8b8b8" stroke-width="1.6"/>
<circle cx="330.8" cy="732.8" r="156.40" fill="none" stroke="#b8b8b8" stroke-width="1.6"/>
<circle cx="330.8" cy="732.8" r="195.50" fill="none" stroke="#c6c6c6" stroke-width="2"/>
<line x1="330.8" y1="732.8" x2="535.00" y2="732.80" stroke="#c6c6c6" stroke-width="2"/>
<line x1="330.8" y1="732.8" x2="475.19" y2="588.41" stroke="#c6c6c6" stroke-width="2"/>
<line x1="330.8" y1="732.8" x2="330.80" y2="528.60" stroke="#c6c6c6" stroke-width="2"/>
<line x1="330.8" y1="732.8" x2="186.41" y2="588.41" stroke="#c6c6c6" stroke-width="2"/>
<line x1="330.8" y1="732.8" x2="126.60" y2="732.80" stroke="#c6c6c6" stroke-width="2"/>
<line x1="330.8" y1="732.8" x2="186.41" y2="877.19" stroke="#c6c6c6" stroke-width="2"/>
<line x1="330.8" y1="732.8" x2="330.80" y2="937.00" stroke="#c6c6c6" stroke-width="2"/>
<line x1="330.8" y1="732.8" x2="475.19" y2="877.19" stroke="#c6c6c6" stroke-width="2"/>
<text x="376.50" y="743.20" font-size="13.5" text-anchor="middle" fill="#3a3a3a">0.2</text>
<text x="413.50" y="757.00" font-size="13.5" text-anchor="middle" fill="#3a3a3a">0.4</text>
<text x="449.30" y="773.40" font-size="13.5" text-anchor="middle" fill="#3a3a3a">0.6</text>
<text x="484.70" y="788.60" font-size="13.5" text-anchor="middle" fill="#3a3a3a">0.8</text>
<path d="M330.8 732.8L496.53 741.94A165.98 165.98 0 0 0 496.53 723.66Z" fill="#1f77b4" fill-opacity="0.5" stroke="#1f77b4" stroke-opacity="0.7" stroke-width="1.7" stroke-linejoin="round"/>
<path d="M330.8 732.8L494.52 760.12A165.98 165.98 0 0 0 496.53 741.94Z" fill="#1f77b4" fill-opacity="0.5" stroke="#1f77b4" stroke-opacity="0.7" stroke-width="1.7" stroke-linejoin="round"/>
<path d="M330.8 732.8L490.52 777.96A165.98 165.98 0 0 0 494.52 760.12Z" fill="#1f77b4" fill-opacity="0.5" stroke="#1f77b4" stroke-opacity="0.7" stroke-width="1.7" stroke-linejoin="round"/>
<path d="M330.8 732.8L484.58 795.26A165.98 165.98 0 0 0 490.52 777.96Z" fill="#aec7e8" fill-opacity="0.5" stroke="#aec7e8" stroke-opacity="0.7" stroke-width="1.7" stroke-linejoin="round"/>
<path d="M330.8 732.8L476.77 811.80A165.98 165.98 0 0 0 484.58 795.26Z" fill="#ff7f0e" fill-opacity="0.5" stroke="#ff7f0e" stroke-opacity="0.7" stroke-width="1.7" stroke-linejoin="round"/>
<path d="M330.8 732.8L467.20 827.38A165.98 165.98 0 0 0 476.77 811.80Z" fill="#ffbb78" fill-opacity="0.5" stroke="#ffbb78" stroke-opacity="0.7" stroke-width="1.7" stroke-linejoin="round"/>
<path d="M330.8 732.8L455.97 841.81A165.98 165.98 0 0 0 467.20 827.38Z" fill="#2ca02c" fill-opacity="0.5" stroke="#2ca02c" stroke-opacity="0.7" stroke-width="1.7" stroke-linejoin="round"/>
<path d="M330.8 732.8L443.21 854.92A165.98 165.98 0 0 0 455.97 841.81Z" fill="#2ca02c" fill-opacity="0.5" stroke="#2ca02c" stroke-opacity="0.7" stroke-width="1.7" stroke-linejoin="round"/>
<path d="M330.8 732.8L429.10 866.54A165.98 165.98 0 0 0 443.21 854.92Z" fill="#2ca02c" fill-opacity="0.5" stroke="#2ca02c" stroke-opacity="0.7" stroke-width="1.7" stroke-linejoin="round"/>
<path d="M330.8 732.8L413.79 876.54A165.98 165.98 0 0 0 429.10 866.54Z" fill="#2ca02c" fill-opacity="0.5" stroke="#2ca02c" stroke-opacity="0.7" stroke-width="1.7" stroke-linejoin="round"/>
<path d="M330.8 732.8L397.47 884.80A165.98 165.98 0 0 0 413.79 876.54Z" fill="#2ca02c" fill-opacity="0.5" stroke="#2ca02c" stroke-opacity="0.7" stroke-width="1.7" stroke-linejoin="round"/>
<path d="M330.8 732.8L380.35 891.21A165.98 165.98 0 0 0 397.47 884.80Z" fill="#ffbb78" fill-opacity="0.5" stroke="#ffbb78" stroke-opacity="0.7" stroke-width="1.7" stroke-linejoin="round"/>
<path d="M330.8 732.8L362.62 895.70A165.98 165.98 0 0 0 380.35 891.21Z" fill="#1f77b4" fill-opacity="0.5" stroke="#1f77b4" stroke-opacity="0.7" stroke-width="1.7" stroke-linejoin="round"/>
<path d="M330.8 732.8L344.51 898.21A165.98 165.98 0 0 0 362.62 895.70Z" fill="#2ca02c" fill-opacity="0.5" stroke="#2ca02c" stroke-opacity="0.7" stroke-width="1.7" stroke-linejoin="round"/>
<path d="M330.8 732.8L326.23 898.72A165.98 165.98 0 0 0 344.51 898.21Z" fill="#2ca02c" fill-opacity="0.5" stroke="#2ca02c" stroke-opacity="0.7" stroke-width="1.7" stroke-linejoin="round"/>
<path d="M330.8 732.8L308.00 897.21A165.98 165.98 0 0 0 326.23 898.72Z" fill="#98df8a" fill-opacity="0.5" stroke="#98df8a" stroke-opacity="0.7" stroke-width="1.7" stroke-linejoin="round"/>
<path d="M330.8 732.8L290.05 893.70A165.98 165.98 0 0 0 308.00 897.21Z" fill="#2ca02c" fill-opacity="0.5" stroke="#2ca02c" stroke-opacity="0.7" stroke-width="1.7" stroke-linejoin="round"/>
<path d="M330.8 732.8L272.60 888.24A165.98 165.98 0 0 0 290.05 893.70Z" fill="#d62728" fill-opacity="0.5" stroke="#d62728" stroke-opacity="0.7" stroke-width="1.7" stroke-linejoin="round"/>
<path d="M330.8 732.8L255.85 880.90A165.98 165.98 0 0 0 272.60 888.24Z" fill="#d62728" fill-opacity="0.5" stroke="#d62728" stroke-opacity="0.7" stroke-width="1.7" stroke-linejoin="round"/>
<path d="M330.8 732.8L240.02 871.75A165.98 165.98 0 0 0 255.85 880.90Z" fill="#ffbb78" fill-opacity="0.5" stroke="#ffbb78" stroke-opacity="0.7" stroke-width="1.7" stroke-linejoin="round"/>
<path d="M330.8 732.8L225.28 860.92A165.98 165.98 0 0 0 240.02 871.75Z" fill="#ff7f0e" fill-opacity="0.5" stroke="#ff7f0e" stroke-opacity="0.7" stroke-width="1.7" stroke-linejoin="round"/>
<path d="M330.8 732.8L211.83 848.54A165.98 165.98 0 0 0 225.28 860.92Z" fill="#2ca02c" fill-opacity="0.5" stroke="#2ca02c" stroke-opacity="0.7" stroke-width="1.7" stroke-linejoin="round"/>
<path d="M330.8 732.8L199.82 834.75A165.98 165.98 0 0 0 211.83 848.54Z" fill="#ffbb78" fill-opacity="0.5" stroke="#ffbb78" stroke-opacity="0.7" stroke-width="1.7" stroke-linejoin="round"/>
<path d="M330.8 732.8L189.40 819.72A165.98 165.98 0 0 0 199.82 834.75Z" fill="#2ca02c" fill-opacity="0.5" stroke="#2ca02c" stroke-opacity="0.7" stroke-width="1.7" stroke-linejoin="round"/>
<path d="M330.8 732.8L180.70 803.64A165.98 165.98 0 0 0 189.40 819.72Z" fill="#ff7f0e" fill-opacity="0.5" stroke="#ff7f0e" stroke-opacity="0.7" stroke-width="1.7" stroke-linejoin="round"/>
<path d="M330.8 732.8L173.81 786.69A165.98 165.98 0 0 0 180.70 803.64Z" fill="#ff7f0e" fill-opacity="0.5" stroke="#ff7f0e" stroke-opacity="0.7" stroke-width="1.7" stroke-linejoin="round"/>
<path d="M330.8 732.8L168.84 769.10A165.98 165.98 0 0 0 173.81 786.69Z" fill="#2ca02c" fill-opacity="0.5" stroke="#2ca02c" stroke-opacity="0.7" stroke-width="1.7" stroke-linejoin="round"/>
<path d="M330.8 732.8L165.83 751.06A165.98 165.98 0 0 0 168.84 769.10Z" fill="#2ca02c" fill-opacity="0.5" stroke="#2ca02c" stroke-opacity="0.7" stroke-width="1.7" stroke-linejoin="round"/>
<path d="M330.8 732.8L164.82 732.80A165.98 165.98 0 0 0 165.83 751.06Z" fill="#ffbb78" fill-opacity="0.5" stroke="#ffbb78" stroke-opacity="0.7" stroke-width="1.7" stroke-linejoin="round"/>
<path d="M330.8 732.8L165.83 714.54A165.98 165.98 0 0 0 164.82 732.80Z" fill="#ffbb78" fill-opacity="0.5" stroke="#ffbb78" stroke-opacity="0.7" stroke-width="1.7" stroke-linejoin="round"/>
<path d="M330.8 732.8L168.84 696.50A165.98 165.98 0 0 0 165.83 714.54Z" fill="#ffbb78" fill-opacity="0.5" stroke="#ffbb78" stroke-opacity="0.7" stroke-width="1.7" stroke-linejoin="round"/>
<path d="M330.8 732.8L173.81 678.91A165.98 165.98 0 0 0 168.84 696.50Z" fill="#98df8a" fill-opacity="0.5" stroke="#98df8a" stroke-opacity="0.7" stroke-width="1.7" stroke-linejoin="round"/>
<path d="M330.8 732.8L180.70 661.96A165.98 165.98 0 0 0 173.81 678.91Z" fill="#ff9896" fill-opacity="0.5" stroke="#ff9896" stroke-opacity="0.7" stroke-width="1.7" stroke-linejoin="round"/>
<path d="M330.8 732.8L189.40 645.88A165.98 165.98 0 0 0 180.70 661.96Z" fill="#2ca02c" fill-opacity="0.5" stroke="#2ca02c" stroke-opacity="0.7" stroke-width="1.7" stroke-linejoin="round"/>
<path d="M330.8 732.8L199.82 630.85A165.98 165.98 0 0 0 189.40 645.88Z" fill="#ffbb78" fill-opacity="0.5" stroke="#ffbb78" stroke-opacity="0.7" stroke-width="1.7" stroke-linejoin="round"/>
<path d="M330.8 732.8L211.83 617.06A165.98 165.98 0 0 0 199.82 630.85Z" fill="#1f77b4" fill-opacity="0.5" stroke="#1f77b4" stroke-opacity="0.7" stroke-width="1.7" stroke-linejoin="round"/>
<path d="M330.8 732.8L225.28 604.68A165.98 165.98 0 0 0 211.83 617.06Z" fill="#2ca02c" fill-opacity="0.5" stroke="#2ca02c" stroke-opacity="0.7" stroke-width="1.7" stroke-linejoin="round"/>
<path d="M330.8 732.8L240.02 593.85A165.98 165.98 0 0 0 225.28 604.68Z" fill="#ff9896" fill-opacity="0.5" stroke="#ff9896" stroke-opacity="0.7" stroke-width="1.7" stroke-linejoin="round"/>
<path d="M330.8 732.8L255.85 584.70A165.98 165.98 0 0 0 240.02 593.85Z" fill="#2ca02c" fill-opacity="0.5" stroke="#2ca02c" stroke-opacity="0.7" stroke-width="1.7" stroke-linejoin="round"/>
<path d="M330.8 732.8L272.60 577.36A165.98 165.98 0 0 0 255.85 584.70Z" fill="#ffbb78" fill-opacity="0.5" stroke="#ffbb78" stroke-opacity="0.7" stroke-width="1.7" stroke-linejoin="round"/>
<path d="M330.8 732.8L290.05 571.90A165.98 165.98 0 0 0 272.60 577.36Z" fill="#ffbb78" fill-opacity="0.5" stroke="#ffbb78" stroke-opacity="0.7" stroke-width="1.7" stroke-linejoin="round"/>
<path d="M330.8 732.8L308.00 568.39A165.98 165.98 0 0 0 290.05 571.90Z" fill="#98df8a" fill-opacity="0.5" stroke="#98df8a" stroke-opacity="0.7" stroke-width="1.7" stroke-linejoin="round"/>
<path d="M330.8 732.8L326.23 566.88A165.98 165.98 0 0 0 308.00 568.39Z" fill="#ff9896" fill-opacity="0.5" stroke="#ff9896" stroke-opacity="0.7" stroke-width="1.7" stroke-linejoin="round"/>
<path d="M330.8 732.8L344.51 567.39A165.98 165.98 0 0 0 326.23 566.88Z" fill="#ff9896" fill-opacity="0.5" stroke="#ff9896" stroke-opacity="0.7" stroke-width="1.7" stroke-linejoin="round"/>
<path d="M330.8 732.8L362.62 569.90A165.98 165.98 0 0 0 344.51 567.39Z" fill="#ffbb78" fill-opacity="0.5" stroke="#ffbb78" stroke-opacity="0.7" stroke-width="1.7" stroke-linejoin="round"/>
<path d="M330.8 732.8L380.35 574.39A165.98 165.98 0 0 0 362.62 569.90Z" fill="#ff9896" fill-opacity="0.5" stroke="#ff9896" stroke-opacity="0.7" stroke-width="1.7" stroke-linejoin="round"/>
<path d="M330.8 732.8L397.47 580.80A165.98 165.98 0 0 0 380.35 574.39Z" fill="#9467bd" fill-opacity="0.5" stroke="#9467bd" stroke-opacity="0.7" stroke-width="1.7" stroke-linejoin="round"/>
<path d="M330.8 732.8L413.79 589.06A165.98 165.98 0 0 0 397.47 580.80Z" fill="#2ca02c" fill-opacity="0.5" stroke="#2ca02c" stroke-opacity="0.7" stroke-width="1.7" stroke-linejoin="round"/>
<path d="M330.8 732.8L429.10 599.06A165.98 165.98 0 0 0 413.79 589.06Z" fill="#ff9896" fill-opacity="0.5" stroke="#ff9896" stroke-opacity="0.7" stroke-width="1.7" stroke-linejoin="round"/>
<path d="M330.8 732.8L443.21 610.68A165.98 165.98 0 0 0 429.10 599.06Z" fill="#98df8a" fill-opacity="0.5" stroke="#98df8a" stroke-opacity="0.7" stroke-width="1.7" stroke-linejoin="round"/>
<path d="M330.8 732.8L455.97 623.79A165.98 165.98 0 0 0 443.21 610.68Z" fill="#2ca02c" fill-opacity="0.5" stroke="#2ca02c" stroke-opacity="0.7" stroke-width="1.7" stroke-linejoin="round"/>
<path d="M330.8 732.8L467.20 638.22A165.98 165.98 0 0 0 455.97 623.79Z" fill="#c5b0d5" fill-opacity="0.5" stroke="#c5b0d5" stroke-opacity="0.7" stroke-width="1.7" stroke-linejoin="round"/>
<path d="M330.8 732.8L476.77 653.80A165.98 165.98 0 0 0 467.20 638.22Z" fill="#2ca02c" fill-opacity="0.5" stroke="#2ca02c" stroke-opacity="0.7" stroke-width="1.7" stroke-linejoin="round"/>
<path d="M330.8 732.8L484.58 670.34A165.98 165.98 0 0 0 476.77 653.80Z" fill="#8c564b" fill-opacity="0.5" stroke="#8c564b" stroke-opacity="0.7" stroke-width="1.7" stroke-linejoin="round"/>
<path d="M330.8 732.8L490.52 687.64A165.98 165.98 0 0 0 484.58 670.34Z" fill="#2ca02c" fill-opacity="0.5" stroke="#2ca02c" stroke-opacity="0.7" stroke-width="1.7" stroke-linejoin="round"/>
<path d="M330.8 732.8L494.52 705.48A165.98 165.98 0 0 0 490.52 687.64Z" fill="#c5b0d5" fill-opacity="0.5" stroke="#c5b0d5" stroke-opacity="0.7" stroke-width="1.7" stroke-linejoin="round"/>
<path d="M330.8 732.8L496.53 723.66A165.98 165.98 0 0 0 494.52 705.48Z" fill="#98df8a" fill-opacity="0.5" stroke="#98df8a" stroke-opacity="0.7" stroke-width="1.7" stroke-linejoin="round"/>
<path d="M482.12 732.80L451.86 746.20L459.00 761.53L464.30 778.63L492.75 809.23L493.19 832.62L471.50 842.31L437.30 836.40L397.91 814.29L434.41 891.39L407.59 884.54L385.50 878.90L371.87 895.00L355.91 913.86L336.05 923.14L320.21 860.61L307.38 852.72L276.29 907.07L264.52 883.90L274.01 831.17L242.34 853.15L207.40 866.85L200.62 846.17L245.97 791.62L187.75 810.22L196.58 787.31L212.09 766.37L207.19 753.43L146.33 742.98L137.16 722.12L161.11 704.48L170.52 687.48L290.59 716.47L169.01 645.24L180.75 628.75L208.14 625.98L254.00 649.38L242.00 611.98L242.43 579.75L259.65 570.60L274.54 552.93L305.73 604.44L318.53 584.74L335.61 558.48L354.08 564.91L371.93 570.38L378.58 605.19L411.04 574.24L411.00 610.05L454.21 582.95L378.86 686.04L472.43 622.57L482.36 639.64L501.24 652.37L491.11 677.76L493.56 696.32L495.97 714.52" fill="none" stroke="#4fa660" stroke-width="3" stroke-linejoin="round" stroke-linecap="round"/>
<text transform="translate(542.50 732.80) rotate(-0.000)" x="0" y="5" font-size="14" textLength="24.4" lengthAdjust="spacingAndGlyphs">Rat</text>
<text transform="translate(541.22 709.51) rotate(-6.316)" x="0" y="5" font-size="14" textLength="50.5" lengthAdjust="spacingAndGlyphs">Human</text>
<text transform="translate(537.38 686.51) rotate(-12.632)" x="0" y="5" font-size="14" textLength="103.7" lengthAdjust="spacingAndGlyphs">Asian elephant</text>
<text transform="translate(531.03 664.06) rotate(-18.947)" x="0" y="5" font-size="14" textLength="80.2" lengthAdjust="spacingAndGlyphs">Killer whale</text>
<text transform="translate(522.25 642.45) rotate(-25.263)" x="0" y="5" font-size="14" textLength="147.9" lengthAdjust="spacingAndGlyphs">West Indian manatee</text>
<text transform="translate(511.15 621.94) rotate(-31.579)" x="0" y="5" font-size="14" textLength="129.0" lengthAdjust="spacingAndGlyphs">Bottlenose dolphin</text>
<text transform="translate(497.86 602.77) rotate(-37.895)" x="0" y="5" font-size="14" textLength="126.4" lengthAdjust="spacingAndGlyphs">Savanna elephant</text>
<text transform="translate(482.54 585.18) rotate(-44.211)" x="0" y="5" font-size="14" textLength="163.9" lengthAdjust="spacingAndGlyphs">Short-finned pilot whale</text>
<text transform="translate(465.38 569.39) rotate(-50.526)" x="0" y="5" font-size="14" textLength="45.3" lengthAdjust="spacingAndGlyphs">Gorilla</text>
<text transform="translate(446.59 555.57) rotate(-56.842)" x="0" y="5" font-size="14" textLength="41.8" lengthAdjust="spacingAndGlyphs">Horse</text>
<text transform="translate(426.39 543.91) rotate(-63.158)" x="0" y="5" font-size="14" textLength="94.1" lengthAdjust="spacingAndGlyphs">Beluga whale</text>
<text transform="translate(405.03 534.54) rotate(-69.474)" x="0" y="5" font-size="14" textLength="153.4" lengthAdjust="spacingAndGlyphs">Short-beaked echidna</text>
<text transform="translate(382.77 527.58) rotate(-75.789)" x="0" y="5" font-size="14" textLength="172.6" lengthAdjust="spacingAndGlyphs">Eastern black rhinoceros</text>
<text transform="translate(359.88 523.11) rotate(-82.105)" x="0" y="5" font-size="14" textLength="81.0" lengthAdjust="spacingAndGlyphs">Harbor seal</text>
<text transform="translate(336.63 521.18) rotate(-88.421)" x="0" y="5" font-size="14" textLength="108.0" lengthAdjust="spacingAndGlyphs">Somali wild ass</text>
<text transform="translate(313.32 521.82) rotate(-94.737)" x="0" y="5" font-size="14" textLength="79.3" lengthAdjust="spacingAndGlyphs">White rhino</text>
<text transform="translate(290.21 525.03) rotate(-101.053)" x="0" y="5" font-size="14" textLength="122.0" lengthAdjust="spacingAndGlyphs">Rhesus macaque</text>
<text transform="translate(267.60 530.75) rotate(-107.368)" x="0" y="5" font-size="14" textLength="101.1" lengthAdjust="spacingAndGlyphs">Spotted hyena</text>
<text transform="translate(245.76 538.93) rotate(-113.684)" x="0" y="5" font-size="14" textLength="95.8" lengthAdjust="spacingAndGlyphs">Pacific walrus</text>
<text transform="translate(224.95 549.46) rotate(-120.000)" x="0" y="5" font-size="14" textLength="184.8" lengthAdjust="spacingAndGlyphs">Pacific white-sided dolphin</text>
<text transform="translate(205.42 562.22) rotate(-126.316)" x="0" y="5" font-size="14" textLength="41.0" lengthAdjust="spacingAndGlyphs">Zebra</text>
<text transform="translate(187.42 577.05) rotate(-132.632)" x="0" y="5" font-size="14" textLength="41.0" lengthAdjust="spacingAndGlyphs">Cattle</text>
<text transform="translate(171.16 593.77) rotate(-138.947)" x="0" y="5" font-size="14" textLength="106.3" lengthAdjust="spacingAndGlyphs">Naked mole rat</text>
<text transform="translate(156.83 612.17) rotate(-145.263)" x="0" y="5" font-size="14" textLength="115.9" lengthAdjust="spacingAndGlyphs">California se lion</text>
<text transform="translate(144.62 632.04) rotate(-151.579)" x="0" y="5" font-size="14" textLength="158.7" lengthAdjust="spacingAndGlyphs">Rough-toothed dolphin</text>
<text transform="translate(134.66 653.14) rotate(-157.895)" x="0" y="5" font-size="14" textLength="96.4" lengthAdjust="spacingAndGlyphs">Grevy’s zebra</text>
<text transform="translate(127.09 675.20) rotate(-164.211)" x="0" y="5" font-size="14" textLength="44.5" lengthAdjust="spacingAndGlyphs">Vervet</text>
<text transform="translate(121.99 697.96) rotate(-170.526)" x="0" y="5" font-size="14" textLength="24.4" lengthAdjust="spacingAndGlyphs">Cat</text>
<text transform="translate(119.42 721.14) rotate(-176.842)" x="0" y="5" font-size="14" textLength="29.6" lengthAdjust="spacingAndGlyphs">Lion</text>
<text transform="translate(119.42 744.46) rotate(-183.158)" x="0" y="5" font-size="14" textLength="35.1" lengthAdjust="spacingAndGlyphs">Tiger</text>
<text transform="translate(121.99 767.64) rotate(-189.474)" x="0" y="5" font-size="14" textLength="102.0" lengthAdjust="spacingAndGlyphs">Roan antelope</text>
<text transform="translate(127.09 790.40) rotate(-195.789)" x="0" y="5" font-size="14" textLength="47.9" lengthAdjust="spacingAndGlyphs">Alpaca</text>
<text transform="translate(134.66 812.46) rotate(-202.105)" x="0" y="5" font-size="14" textLength="98.5" lengthAdjust="spacingAndGlyphs">Red kangaroo</text>
<text transform="translate(144.62 833.56) rotate(-208.421)" x="0" y="5" font-size="14" textLength="158.6" lengthAdjust="spacingAndGlyphs">Eastern grey kangaroo</text>
<text transform="translate(156.83 853.43) rotate(-214.737)" x="0" y="5" font-size="14" textLength="133.4" lengthAdjust="spacingAndGlyphs">White-bearded gnu</text>
<text transform="translate(171.16 871.83) rotate(-221.053)" x="0" y="5" font-size="14" textLength="28.8" lengthAdjust="spacingAndGlyphs">Dog</text>
<text transform="translate(187.42 888.55) rotate(-227.368)" x="0" y="5" font-size="14" textLength="91.5" lengthAdjust="spacingAndGlyphs">Greater kudu</text>
<text transform="translate(205.42 903.38) rotate(-233.684)" x="0" y="5" font-size="14" textLength="162.7" lengthAdjust="spacingAndGlyphs">Western grey kangaroo</text>
<text transform="translate(224.95 916.14) rotate(-240.000)" x="0" y="5" font-size="14" textLength="169.9" lengthAdjust="spacingAndGlyphs">Asian small-clawed otter</text>
<text transform="translate(245.76 926.67) rotate(-246.316)" x="0" y="5" font-size="14" textLength="174.3" lengthAdjust="spacingAndGlyphs">Winsconsin miniature pig</text>
<text transform="translate(267.60 934.85) rotate(-252.632)" x="0" y="5" font-size="14" textLength="22.7" lengthAdjust="spacingAndGlyphs">Pig</text>
<text transform="translate(290.21 940.57) rotate(-258.947)" x="0" y="5" font-size="14" textLength="45.3" lengthAdjust="spacingAndGlyphs">Sheep</text>
<text transform="translate(313.32 943.78) rotate(-265.263)" x="0" y="5" font-size="14" textLength="69.7" lengthAdjust="spacingAndGlyphs">Marmoset</text>
<text transform="translate(336.63 944.42) rotate(-271.579)" x="0" y="5" font-size="14" textLength="104.6" lengthAdjust="spacingAndGlyphs">Sable antelope</text>
<text transform="translate(359.88 942.49) rotate(-277.895)" x="0" y="5" font-size="14" textLength="45.3" lengthAdjust="spacingAndGlyphs">Bongo</text>
<text transform="translate(382.77 938.02) rotate(-284.211)" x="0" y="5" font-size="14" textLength="152.8" lengthAdjust="spacingAndGlyphs">Yellow-bellied marmot</text>
<text transform="translate(405.03 931.06) rotate(-290.526)" x="0" y="5" font-size="14" textLength="59.3" lengthAdjust="spacingAndGlyphs">Cheetah</text>
<text transform="translate(426.39 921.69) rotate(-296.842)" x="0" y="5" font-size="14" textLength="85.4" lengthAdjust="spacingAndGlyphs">Lesser kudu</text>
<text transform="translate(446.59 910.03) rotate(-303.158)" x="0" y="5" font-size="14" textLength="95.9" lengthAdjust="spacingAndGlyphs">Dama gazelle</text>
<text transform="translate(465.38 896.21) rotate(-309.474)" x="0" y="5" font-size="14" textLength="40.1" lengthAdjust="spacingAndGlyphs">Nyala</text>
<text transform="translate(482.54 880.42) rotate(-315.789)" x="0" y="5" font-size="14" textLength="64.5" lengthAdjust="spacingAndGlyphs">Roe deer</text>
<text transform="translate(497.86 862.83) rotate(-322.105)" x="0" y="5" font-size="14" textLength="60.1" lengthAdjust="spacingAndGlyphs">Gerenuk</text>
<text transform="translate(511.15 843.66) rotate(-328.421)" x="0" y="5" font-size="14" textLength="80.2" lengthAdjust="spacingAndGlyphs">Maned wolf</text>
<text transform="translate(522.25 823.15) rotate(-334.737)" x="0" y="5" font-size="14" textLength="141.2" lengthAdjust="spacingAndGlyphs">Red-necked wallaby</text>
<text transform="translate(531.03 801.54) rotate(-341.053)" x="0" y="5" font-size="14" textLength="111.6" lengthAdjust="spacingAndGlyphs">European rabbit</text>
<text transform="translate(537.38 779.09) rotate(-347.368)" x="0" y="5" font-size="14" textLength="162.1" lengthAdjust="spacingAndGlyphs">Long-tailed field mouse</text>
<text transform="translate(541.22 756.09) rotate(-353.684)" x="0" y="5" font-size="14" textLength="47.1" lengthAdjust="spacingAndGlyphs">Mouse</text>
<rect x="29.00" y="1108.00" width="105.10" height="32.10" fill="#1f77b4"/>
<text x="81.40" y="1129.20" font-size="15" text-anchor="middle" fill="#fff" textLength="63.6" lengthAdjust="spacingAndGlyphs">Rodentia</text>
<rect x="133.80" y="1108.00" width="105.10" height="32.10" fill="#98df8a"/>
<text x="186.20" y="1129.20" font-size="15" text-anchor="middle" textLength="62.7" lengthAdjust="spacingAndGlyphs">Primates</text>
<rect x="238.60" y="1108.00" width="105.10" height="32.10" fill="#aec7e8"/>
<text x="291.00" y="1129.20" font-size="15" text-anchor="middle" textLength="89.3" lengthAdjust="spacingAndGlyphs">Lagomorpha</text>
<rect x="343.40" y="1108.00" width="105.10" height="32.10" fill="#d62728"/>
<text x="395.80" y="1129.20" font-size="15" text-anchor="middle" textLength="49.5" lengthAdjust="spacingAndGlyphs">Suidae</text>
<rect x="448.20" y="1108.00" width="105.10" height="32.10" fill="#2ca02c"/>
<text x="500.60" y="1129.20" font-size="15" text-anchor="middle" textLength="83.1" lengthAdjust="spacingAndGlyphs">Artiodactyla</text>
<rect x="553.00" y="1108.00" width="105.10" height="32.10" fill="#c5b0d5"/>
<text x="605.40" y="1129.20" font-size="15" text-anchor="middle" textLength="88.4" lengthAdjust="spacingAndGlyphs">Proboscidea</text>
<rect x="29.00" y="1139.80" width="105.10" height="32.10" fill="#ff7f0e"/>
<text x="81.40" y="1161.00" font-size="15" text-anchor="middle" textLength="94.6" lengthAdjust="spacingAndGlyphs">Diprotodontia</text>
<rect x="133.80" y="1139.80" width="105.10" height="32.10" fill="#ff9896"/>
<text x="186.20" y="1161.00" font-size="15" text-anchor="middle" textLength="102.8" lengthAdjust="spacingAndGlyphs">Perissodactyla</text>
<rect x="238.60" y="1139.80" width="105.10" height="32.10" fill="#ffbb78"/>
<text x="291.00" y="1161.00" font-size="15" text-anchor="middle" textLength="68.9" lengthAdjust="spacingAndGlyphs">Carnivora</text>
<rect x="343.40" y="1139.80" width="105.10" height="32.10" fill="#9467bd"/>
<text x="395.80" y="1161.00" font-size="15" text-anchor="middle" textLength="93.7" lengthAdjust="spacingAndGlyphs">Monotremata</text>
<rect x="448.20" y="1139.80" width="105.10" height="32.10" fill="#8c564b"/>
<text x="500.60" y="1161.00" font-size="15" text-anchor="middle" fill="#fff" textLength="49.5" lengthAdjust="spacingAndGlyphs">Sirenia</text>
<text x="756.80" y="18.20" font-size="22" fill="#000" font-weight="bold" stroke="#000" stroke-width="0.9">d</text>
<rect x="854.50" y="29.10" width="344.80" height="549.60" fill="#e6e6e6"/>
<rect x="1114.00" y="29.10" width="84.80" height="27.75" fill="#d5d9e4"/>
<text x="1156.40" y="49.70" font-size="14.5" text-anchor="middle" textLength="70.5" lengthAdjust="spacingAndGlyphs">4.37 <tspan font-size="11.5" dy="-1">×</tspan><tspan dy="1"> 10</tspan><tspan dy="-6.5" font-size="10">−2</tspan></text>
<rect x="1114.00" y="56.65" width="84.80" height="27.75" fill="#c0c6da"/>
<text x="1156.40" y="77.60" font-size="14.5" text-anchor="middle" textLength="70.5" lengthAdjust="spacingAndGlyphs">1.50 <tspan font-size="11.5" dy="-1">×</tspan><tspan dy="1"> 10</tspan><tspan dy="-6.5" font-size="10">−3</tspan></text>
<rect x="1114.00" y="84.20" width="84.80" height="27.75" fill="#e0e1e8"/>
<text x="1156.40" y="104.70" font-size="14.5" text-anchor="middle" textLength="70.5" lengthAdjust="spacingAndGlyphs">1.43 <tspan font-size="11.5" dy="-1">×</tspan><tspan dy="1"> 10</tspan><tspan dy="-6.5" font-size="10">−1</tspan></text>
<rect x="1114.00" y="111.75" width="84.80" height="27.75" fill="#bcc3d8"/>
<text x="1156.40" y="131.90" font-size="14.5" text-anchor="middle" textLength="70.5" lengthAdjust="spacingAndGlyphs">9.18 <tspan font-size="11.5" dy="-1">×</tspan><tspan dy="1"> 10</tspan><tspan dy="-6.5" font-size="10">−4</tspan></text>
<rect x="855.00" y="139.30" width="84.50" height="27.72" fill="#f2e1e1"/>
<text x="897.25" y="157.90" font-size="14.5" text-anchor="middle" textLength="70.5" lengthAdjust="spacingAndGlyphs">2.56 <tspan font-size="11.5" dy="-1">×</tspan><tspan dy="1"> 10</tspan><tspan dy="-6.5" font-size="10">−1</tspan></text>
<rect x="855.00" y="166.83" width="84.50" height="27.72" fill="#fbf1ef"/>
<text x="897.25" y="184.50" font-size="14.5" text-anchor="middle" textLength="70.5" lengthAdjust="spacingAndGlyphs">8.23 <tspan font-size="11.5" dy="-1">×</tspan><tspan dy="1"> 10</tspan><tspan dy="-6.5" font-size="10">−1</tspan></text>
<rect x="855.00" y="194.35" width="84.50" height="27.72" fill="#ecd3d3"/>
<text x="897.25" y="211.70" font-size="14.5" text-anchor="middle" textLength="70.5" lengthAdjust="spacingAndGlyphs">8.45 <tspan font-size="11.5" dy="-1">×</tspan><tspan dy="1"> 10</tspan><tspan dy="-6.5" font-size="10">−2</tspan></text>
<rect x="855.00" y="221.88" width="84.50" height="27.72" fill="#ebd0d0"/>
<text x="897.25" y="239.40" font-size="14.5" text-anchor="middle" textLength="70.5" lengthAdjust="spacingAndGlyphs">5.41 <tspan font-size="11.5" dy="-1">×</tspan><tspan dy="1"> 10</tspan><tspan dy="-6.5" font-size="10">−2</tspan></text>
<rect x="940.50" y="139.30" width="85.70" height="27.72" fill="#b04546"/>
<text x="983.35" y="157.90" font-size="14.5" text-anchor="middle" textLength="74.0" lengthAdjust="spacingAndGlyphs">2.16 <tspan font-size="11.5" dy="-1">×</tspan><tspan dy="1"> 10</tspan><tspan dy="-6.5" font-size="10">−12</tspan></text>
<rect x="940.50" y="166.83" width="85.70" height="27.72" fill="#a83238"/>
<text x="983.35" y="184.50" font-size="14.5" text-anchor="middle" textLength="74.0" lengthAdjust="spacingAndGlyphs">3.09 <tspan font-size="11.5" dy="-1">×</tspan><tspan dy="1"> 10</tspan><tspan dy="-6.5" font-size="10">−13</tspan></text>
<rect x="940.50" y="194.35" width="85.70" height="27.72" fill="#bc5e5f"/>
<text x="983.35" y="211.70" font-size="14.5" text-anchor="middle" textLength="74.0" lengthAdjust="spacingAndGlyphs">6.38 <tspan font-size="11.5" dy="-1">×</tspan><tspan dy="1"> 10</tspan><tspan dy="-6.5" font-size="10">−10</tspan></text>
<rect x="940.50" y="221.88" width="85.70" height="27.72" fill="#bc5e5f"/>
<text x="983.35" y="239.40" font-size="14.5" text-anchor="middle" textLength="74.0" lengthAdjust="spacingAndGlyphs">9.49 <tspan font-size="11.5" dy="-1">×</tspan><tspan dy="1"> 10</tspan><tspan dy="-6.5" font-size="10">−10</tspan></text>
<rect x="855.00" y="249.40" width="84.50" height="27.38" fill="#e4c1c1"/>
<text x="897.25" y="267.10" font-size="14.5" text-anchor="middle" textLength="70.5" lengthAdjust="spacingAndGlyphs">1.08 <tspan font-size="11.5" dy="-1">×</tspan><tspan dy="1"> 10</tspan><tspan dy="-6.5" font-size="10">−2</tspan></text>
<rect x="855.00" y="276.57" width="84.50" height="27.38" fill="#f7f5f3"/>
<text x="897.25" y="294.30" font-size="14.5" text-anchor="middle" textLength="70.5" lengthAdjust="spacingAndGlyphs">9.29 <tspan font-size="11.5" dy="-1">×</tspan><tspan dy="1"> 10</tspan><tspan dy="-6.5" font-size="10">−1</tspan></text>
<rect x="855.00" y="303.75" width="84.50" height="27.38" fill="#f4e4e3"/>
<text x="897.25" y="321.80" font-size="14.5" text-anchor="middle" textLength="70.5" lengthAdjust="spacingAndGlyphs">2.74 <tspan font-size="11.5" dy="-1">×</tspan><tspan dy="1"> 10</tspan><tspan dy="-6.5" font-size="10">−1</tspan></text>
<rect x="855.00" y="330.93" width="84.50" height="27.38" fill="#ebebee"/>
<text x="897.25" y="348.80" font-size="14.5" text-anchor="middle" textLength="70.5" lengthAdjust="spacingAndGlyphs">2.77 <tspan font-size="11.5" dy="-1">×</tspan><tspan dy="1"> 10</tspan><tspan dy="-6.5" font-size="10">−1</tspan></text>
<rect x="855.00" y="358.10" width="84.50" height="27.50" fill="#d9a1a1"/>
<text x="897.25" y="376.80" font-size="14.5" text-anchor="middle" textLength="70.5" lengthAdjust="spacingAndGlyphs">2.15 <tspan font-size="11.5" dy="-1">×</tspan><tspan dy="1"> 10</tspan><tspan dy="-6.5" font-size="10">−4</tspan></text>
<rect x="855.00" y="385.40" width="84.50" height="27.50" fill="#d9a0a0"/>
<text x="897.25" y="403.90" font-size="14.5" text-anchor="middle" textLength="70.5" lengthAdjust="spacingAndGlyphs">2.08 <tspan font-size="11.5" dy="-1">×</tspan><tspan dy="1"> 10</tspan><tspan dy="-6.5" font-size="10">−4</tspan></text>
<rect x="855.00" y="412.70" width="84.50" height="27.50" fill="#dba7a7"/>
<text x="897.25" y="431.60" font-size="14.5" text-anchor="middle" textLength="70.5" lengthAdjust="spacingAndGlyphs">5.11 <tspan font-size="11.5" dy="-1">×</tspan><tspan dy="1"> 10</tspan><tspan dy="-6.5" font-size="10">−4</tspan></text>
<rect x="855.00" y="440.00" width="84.50" height="27.50" fill="#c87979"/>
<text x="897.25" y="458.60" font-size="14.5" text-anchor="middle" textLength="70.5" lengthAdjust="spacingAndGlyphs">3.18 <tspan font-size="11.5" dy="-1">×</tspan><tspan dy="1"> 10</tspan><tspan dy="-6.5" font-size="10">−6</tspan></text>
<rect x="1027.20" y="358.10" width="85.80" height="27.50" fill="#bf6161"/>
<text x="1070.10" y="376.80" font-size="14.5" text-anchor="middle" textLength="74.0" lengthAdjust="spacingAndGlyphs">3.06 <tspan font-size="11.5" dy="-1">×</tspan><tspan dy="1"> 10</tspan><tspan dy="-6.5" font-size="10">−11</tspan></text>
<rect x="1027.20" y="385.40" width="85.80" height="27.50" fill="#c06868"/>
<text x="1070.10" y="403.90" font-size="14.5" text-anchor="middle" textLength="74.0" lengthAdjust="spacingAndGlyphs">3.10 <tspan font-size="11.5" dy="-1">×</tspan><tspan dy="1"> 10</tspan><tspan dy="-6.5" font-size="10">−10</tspan></text>
<rect x="1027.20" y="412.70" width="85.80" height="27.50" fill="#b85757"/>
<text x="1070.10" y="431.60" font-size="14.5" text-anchor="middle" textLength="74.0" lengthAdjust="spacingAndGlyphs">7.73 <tspan font-size="11.5" dy="-1">×</tspan><tspan dy="1"> 10</tspan><tspan dy="-6.5" font-size="10">−12</tspan></text>
<rect x="1027.20" y="440.00" width="85.80" height="27.50" fill="#d48f8f"/>
<text x="1070.10" y="458.60" font-size="14.5" text-anchor="middle" textLength="70.5" lengthAdjust="spacingAndGlyphs">1.53 <tspan font-size="11.5" dy="-1">×</tspan><tspan dy="1"> 10</tspan><tspan dy="-6.5" font-size="10">−6</tspan></text>
<rect x="940.50" y="467.30" width="85.70" height="28.05" fill="#c26a6c"/>
<text x="983.35" y="486.90" font-size="14.5" text-anchor="middle" textLength="70.5" lengthAdjust="spacingAndGlyphs">1.50 <tspan font-size="11.5" dy="-1">×</tspan><tspan dy="1"> 10</tspan><tspan dy="-6.5" font-size="10">−9</tspan></text>
<rect x="940.50" y="495.15" width="85.70" height="28.05" fill="#bd5f60"/>
<text x="983.35" y="514.00" font-size="14.5" text-anchor="middle" textLength="74.0" lengthAdjust="spacingAndGlyphs">3.10 <tspan font-size="11.5" dy="-1">×</tspan><tspan dy="1"> 10</tspan><tspan dy="-6.5" font-size="10">−10</tspan></text>
<rect x="940.50" y="523.00" width="85.70" height="28.05" fill="#c87777"/>
<text x="983.35" y="541.40" font-size="14.5" text-anchor="middle" textLength="70.5" lengthAdjust="spacingAndGlyphs">2.35 <tspan font-size="11.5" dy="-1">×</tspan><tspan dy="1"> 10</tspan><tspan dy="-6.5" font-size="10">−8</tspan></text>
<rect x="940.50" y="550.85" width="85.70" height="28.05" fill="#d08a8a"/>
<text x="983.35" y="568.60" font-size="14.5" text-anchor="middle" textLength="70.5" lengthAdjust="spacingAndGlyphs">1.80 <tspan font-size="11.5" dy="-1">×</tspan><tspan dy="1"> 10</tspan><tspan dy="-6.5" font-size="10">−6</tspan></text>
<line x1="854.50" y1="28.40" x2="854.50" y2="579.40" stroke="#222" stroke-width="1.6"/>
<line x1="940.00" y1="28.40" x2="940.00" y2="579.40" stroke="#222" stroke-width="1.6"/>
<line x1="1026.70" y1="28.40" x2="1026.70" y2="579.40" stroke="#222" stroke-width="1.6"/>
<line x1="1113.50" y1="28.40" x2="1113.50" y2="579.40" stroke="#222" stroke-width="1.6"/>
<line x1="1199.30" y1="28.40" x2="1199.30" y2="579.40" stroke="#222" stroke-width="1.6"/>
<line x1="853.80" y1="29.10" x2="1200.00" y2="29.10" stroke="#222" stroke-width="1.9"/>
<line x1="853.80" y1="139.30" x2="1200.00" y2="139.30" stroke="#222" stroke-width="1.9"/>
<line x1="853.80" y1="249.40" x2="1200.00" y2="249.40" stroke="#222" stroke-width="1.9"/>
<line x1="853.80" y1="358.10" x2="1200.00" y2="358.10" stroke="#222" stroke-width="1.9"/>
<line x1="853.80" y1="467.30" x2="1200.00" y2="467.30" stroke="#222" stroke-width="1.9"/>
<line x1="853.80" y1="578.70" x2="1200.00" y2="578.70" stroke="#222" stroke-width="1.9"/>
<text x="897.25" y="22.00" font-size="14.5" text-anchor="middle">Mice</text>
<text x="983.35" y="22.00" font-size="14.5" text-anchor="middle">Mice</text>
<text x="1070.10" y="22.00" font-size="14.5" text-anchor="middle">Mice</text>
<text x="1156.40" y="22.00" font-size="14.5" text-anchor="middle">Human</text>
<rect x="816.10" y="31.10" width="33.60" height="106.50" fill="#000000"/>
<text x="837.80" y="84.35" font-size="15" text-anchor="middle" fill="#fff" transform="rotate(-90.000 837.80 84.35)" textLength="39.5" lengthAdjust="spacingAndGlyphs">Blood</text>
<text x="809.50" y="49.70" font-size="14.5" text-anchor="end">Clock 1</text>
<text x="809.50" y="77.60" font-size="14.5" text-anchor="end">Clock 2</text>
<text x="809.50" y="104.70" font-size="14.5" text-anchor="end">Clock 3</text>
<text x="809.50" y="131.90" font-size="14.5" text-anchor="end">Clock 4</text>
<rect x="816.10" y="141.10" width="33.60" height="105.80" fill="#cd5c5c"/>
<text x="837.80" y="194.00" font-size="15" text-anchor="middle" fill="#fff" transform="rotate(-90.000 837.80 194.00)" textLength="45.5" lengthAdjust="spacingAndGlyphs">Cortex</text>
<text x="809.50" y="157.90" font-size="14.5" text-anchor="end">Clock 1</text>
<text x="809.50" y="184.50" font-size="14.5" text-anchor="end">Clock 2</text>
<text x="809.50" y="211.70" font-size="14.5" text-anchor="end">Clock 3</text>
<text x="809.50" y="239.40" font-size="14.5" text-anchor="end">Clock 4</text>
<rect x="816.10" y="250.00" width="33.60" height="106.30" fill="#008000"/>
<text x="837.80" y="303.15" font-size="15" text-anchor="middle" fill="#fff" transform="rotate(-90.000 837.80 303.15)" textLength="47.2" lengthAdjust="spacingAndGlyphs">Kidney</text>
<text x="809.50" y="267.10" font-size="14.5" text-anchor="end">Clock 1</text>
<text x="809.50" y="294.30" font-size="14.5" text-anchor="end">Clock 2</text>
<text x="809.50" y="321.80" font-size="14.5" text-anchor="end">Clock 3</text>
<text x="809.50" y="348.80" font-size="14.5" text-anchor="end">Clock 4</text>
<rect x="816.10" y="360.00" width="33.60" height="106.10" fill="#008080"/>
<text x="837.80" y="413.05" font-size="15" text-anchor="middle" fill="#fff" transform="rotate(-90.000 837.80 413.05)" textLength="33.5" lengthAdjust="spacingAndGlyphs">Liver</text>
<text x="809.50" y="376.80" font-size="14.5" text-anchor="end">Clock 1</text>
<text x="809.50" y="403.90" font-size="14.5" text-anchor="end">Clock 2</text>
<text x="809.50" y="431.60" font-size="14.5" text-anchor="end">Clock 3</text>
<text x="809.50" y="458.60" font-size="14.5" text-anchor="end">Clock 4</text>
<rect x="816.10" y="470.20" width="33.60" height="106.30" fill="#d4a500"/>
<text x="837.80" y="523.35" font-size="15" text-anchor="middle" fill="#fff" transform="rotate(-90.000 837.80 523.35)" textLength="57.5" lengthAdjust="spacingAndGlyphs">Striatum</text>
<text x="809.50" y="486.90" font-size="14.5" text-anchor="end">Clock 1</text>
<text x="809.50" y="514.00" font-size="14.5" text-anchor="end">Clock 2</text>
<text x="809.50" y="541.40" font-size="14.5" text-anchor="end">Clock 3</text>
<text x="809.50" y="568.60" font-size="14.5" text-anchor="end">Clock 4</text>
<text x="893.70" y="597.70" font-size="14.5" text-anchor="middle">GHRKO</text>
<text x="981.80" y="597.70" font-size="14.5" text-anchor="middle" font-style="italic">Tet3</text>
<text x="1065.80" y="597.70" font-size="14.5" text-anchor="middle">CR</text>
<text x="1154.00" y="596.20" font-size="14.5" text-anchor="middle">Smoking</text>
<defs><linearGradient id="cb" x1="0" x2="1" y1="0" y2="0"><stop offset="0" stop-color="#2e69b9"/><stop offset="0.25" stop-color="#8fa9d6"/><stop offset="0.5" stop-color="#f7f2f2"/><stop offset="0.75" stop-color="#d29696"/><stop offset="1" stop-color="#a9333b"/></linearGradient></defs>
<rect x="979.80" y="608.80" width="68.50" height="18.10" fill="url(#cb)"/>
<text x="979.80" y="641.50" font-size="14" text-anchor="middle">−10</text>
<text x="1014.00" y="641.50" font-size="14" text-anchor="middle">0</text>
<text x="1047.80" y="641.50" font-size="14" text-anchor="middle">10</text>
<text x="809.00" y="690.70" font-size="22" fill="#000" font-weight="bold" stroke="#000" stroke-width="0.9">e</text>
<path d="M925.30 869.50L1040.70 786.70L1040.70 816.00L925.30 879.00Z" fill="#ff7f0e" stroke="none" stroke-width="1" fill-opacity="0.2"/>
<path d="M925.30 868.50L1040.70 825.30L1040.70 834.70L925.30 880.00Z" fill="#1f77b4" stroke="none" stroke-width="1" fill-opacity="0.2"/>
<path d="M923.6 859.3a2.75 2.75 0 1 0 5.5 0a2.75 2.75 0 1 0 -5.5 0M923.6 861.0a2.75 2.75 0 1 0 5.5 0a2.75 2.75 0 1 0 -5.5 0M923.6 871.3a2.75 2.75 0 1 0 5.5 0a2.75 2.75 0 1 0 -5.5 0M935.0 880.0a2.75 2.75 0 1 0 5.5 0a2.75 2.75 0 1 0 -5.5 0M935.0 890.0a2.75 2.75 0 1 0 5.5 0a2.75 2.75 0 1 0 -5.5 0M1009.2 817.3a2.75 2.75 0 1 0 5.5 0a2.75 2.75 0 1 0 -5.5 0M1009.2 836.0a2.75 2.75 0 1 0 5.5 0a2.75 2.75 0 1 0 -5.5 0M1009.2 837.3a2.75 2.75 0 1 0 5.5 0a2.75 2.75 0 1 0 -5.5 0M1009.2 842.7a2.75 2.75 0 1 0 5.5 0a2.75 2.75 0 1 0 -5.5 0M1009.2 841.0a2.75 2.75 0 1 0 5.5 0a2.75 2.75 0 1 0 -5.5 0M1026.3 816.7a2.75 2.75 0 1 0 5.5 0a2.75 2.75 0 1 0 -5.5 0M1026.3 842.0a2.75 2.75 0 1 0 5.5 0a2.75 2.75 0 1 0 -5.5 0M1037.7 835.3a2.75 2.75 0 1 0 5.5 0a2.75 2.75 0 1 0 -5.5 0M1037.7 838.0a2.75 2.75 0 1 0 5.5 0a2.75 2.75 0 1 0 -5.5 0M1037.7 840.5a2.75 2.75 0 1 0 5.5 0a2.75 2.75 0 1 0 -5.5 0M1037.7 843.3a2.75 2.75 0 1 0 5.5 0a2.75 2.75 0 1 0 -5.5 0M1037.7 848.7a2.75 2.75 0 1 0 5.5 0a2.75 2.75 0 1 0 -5.5 0" fill="#1f77b4" fill-opacity="0.9"/>
<path d="M918.0 866.7a2.75 2.75 0 1 0 5.5 0a2.75 2.75 0 1 0 -5.5 0M918.0 869.3a2.75 2.75 0 1 0 5.5 0a2.75 2.75 0 1 0 -5.5 0M918.0 872.0a2.75 2.75 0 1 0 5.5 0a2.75 2.75 0 1 0 -5.5 0M918.0 874.7a2.75 2.75 0 1 0 5.5 0a2.75 2.75 0 1 0 -5.5 0M918.0 877.3a2.75 2.75 0 1 0 5.5 0a2.75 2.75 0 1 0 -5.5 0M918.0 880.0a2.75 2.75 0 1 0 5.5 0a2.75 2.75 0 1 0 -5.5 0M918.0 885.3a2.75 2.75 0 1 0 5.5 0a2.75 2.75 0 1 0 -5.5 0M923.6 862.7a2.75 2.75 0 1 0 5.5 0a2.75 2.75 0 1 0 -5.5 0M923.6 865.0a2.75 2.75 0 1 0 5.5 0a2.75 2.75 0 1 0 -5.5 0M923.6 866.7a2.75 2.75 0 1 0 5.5 0a2.75 2.75 0 1 0 -5.5 0M923.6 873.3a2.75 2.75 0 1 0 5.5 0a2.75 2.75 0 1 0 -5.5 0M923.6 876.0a2.75 2.75 0 1 0 5.5 0a2.75 2.75 0 1 0 -5.5 0M923.6 882.0a2.75 2.75 0 1 0 5.5 0a2.75 2.75 0 1 0 -5.5 0M923.6 896.7a2.75 2.75 0 1 0 5.5 0a2.75 2.75 0 1 0 -5.5 0M935.0 861.3a2.75 2.75 0 1 0 5.5 0a2.75 2.75 0 1 0 -5.5 0M935.0 864.0a2.75 2.75 0 1 0 5.5 0a2.75 2.75 0 1 0 -5.5 0M935.0 866.7a2.75 2.75 0 1 0 5.5 0a2.75 2.75 0 1 0 -5.5 0M935.0 869.5a2.75 2.75 0 1 0 5.5 0a2.75 2.75 0 1 0 -5.5 0M935.0 872.7a2.75 2.75 0 1 0 5.5 0a2.75 2.75 0 1 0 -5.5 0M1009.2 800.0a2.75 2.75 0 1 0 5.5 0a2.75 2.75 0 1 0 -5.5 0M1009.2 812.7a2.75 2.75 0 1 0 5.5 0a2.75 2.75 0 1 0 -5.5 0M1009.2 815.0a2.75 2.75 0 1 0 5.5 0a2.75 2.75 0 1 0 -5.5 0M1009.2 817.3a2.75 2.75 0 1 0 5.5 0a2.75 2.75 0 1 0 -5.5 0M1009.2 828.7a2.75 2.75 0 1 0 5.5 0a2.75 2.75 0 1 0 -5.5 0M1009.2 831.0a2.75 2.75 0 1 0 5.5 0a2.75 2.75 0 1 0 -5.5 0M1009.2 834.0a2.75 2.75 0 1 0 5.5 0a2.75 2.75 0 1 0 -5.5 0M1026.3 798.0a2.75 2.75 0 1 0 5.5 0a2.75 2.75 0 1 0 -5.5 0M1026.3 810.7a2.75 2.75 0 1 0 5.5 0a2.75 2.75 0 1 0 -5.5 0M1026.3 826.0a2.75 2.75 0 1 0 5.5 0a2.75 2.75 0 1 0 -5.5 0M1026.3 834.0a2.75 2.75 0 1 0 5.5 0a2.75 2.75 0 1 0 -5.5 0M1026.3 836.5a2.75 2.75 0 1 0 5.5 0a2.75 2.75 0 1 0 -5.5 0M1026.3 839.0a2.75 2.75 0 1 0 5.5 0a2.75 2.75 0 1 0 -5.5 0M1026.3 841.3a2.75 2.75 0 1 0 5.5 0a2.75 2.75 0 1 0 -5.5 0M1037.7 740.4a2.75 2.75 0 1 0 5.5 0a2.75 2.75 0 1 0 -5.5 0M1037.7 766.0a2.75 2.75 0 1 0 5.5 0a2.75 2.75 0 1 0 -5.5 0M1037.7 809.3a2.75 2.75 0 1 0 5.5 0a2.75 2.75 0 1 0 -5.5 0M1037.7 812.0a2.75 2.75 0 1 0 5.5 0a2.75 2.75 0 1 0 -5.5 0M1037.7 814.7a2.75 2.75 0 1 0 5.5 0a2.75 2.75 0 1 0 -5.5 0M1037.7 820.0a2.75 2.75 0 1 0 5.5 0a2.75 2.75 0 1 0 -5.5 0" fill="#ff7f0e" fill-opacity="0.9"/>
<line x1="925.30" y1="874.40" x2="1040.70" y2="830.40" stroke="#1f77b4" stroke-width="2.4"/>
<line x1="925.30" y1="874.40" x2="1040.70" y2="800.70" stroke="#ff7f0e" stroke-width="2.4"/>
<line x1="891.80" y1="689.80" x2="891.80" y2="939.30" stroke="#444" stroke-width="1.2"/>
<line x1="891.80" y1="939.30" x2="1097.50" y2="939.30" stroke="#444" stroke-width="1.2"/>
<line x1="885.50" y1="939.30" x2="891.80" y2="939.30" stroke="#444" stroke-width="1.2"/>
<text x="879.80" y="944.30" font-size="14" text-anchor="end">0.35</text>
<line x1="885.50" y1="889.40" x2="891.80" y2="889.40" stroke="#444" stroke-width="1.2"/>
<text x="879.80" y="894.40" font-size="14" text-anchor="end">0.40</text>
<line x1="885.50" y1="839.50" x2="891.80" y2="839.50" stroke="#444" stroke-width="1.2"/>
<text x="879.80" y="844.50" font-size="14" text-anchor="end">0.45</text>
<line x1="885.50" y1="789.60" x2="891.80" y2="789.60" stroke="#444" stroke-width="1.2"/>
<text x="879.80" y="794.60" font-size="14" text-anchor="end">0.50</text>
<line x1="885.50" y1="739.70" x2="891.80" y2="739.70" stroke="#444" stroke-width="1.2"/>
<text x="879.80" y="744.70" font-size="14" text-anchor="end">0.55</text>
<line x1="885.50" y1="689.80" x2="891.80" y2="689.80" stroke="#444" stroke-width="1.2"/>
<text x="879.80" y="694.80" font-size="14" text-anchor="end">0.60</text>
<line x1="891.80" y1="939.30" x2="891.80" y2="945.80" stroke="#444" stroke-width="1.2"/>
<text x="891.80" y="961.80" font-size="14" text-anchor="middle">0</text>
<line x1="960.37" y1="939.30" x2="960.37" y2="945.80" stroke="#444" stroke-width="1.2"/>
<text x="960.37" y="961.80" font-size="14" text-anchor="middle">1</text>
<line x1="1028.94" y1="939.30" x2="1028.94" y2="945.80" stroke="#444" stroke-width="1.2"/>
<text x="1028.94" y="961.80" font-size="14" text-anchor="middle">2</text>
<line x1="1097.51" y1="939.30" x2="1097.51" y2="945.80" stroke="#444" stroke-width="1.2"/>
<text x="1097.51" y="961.80" font-size="14" text-anchor="middle">3</text>
<text x="994.80" y="985.20" font-size="15" text-anchor="middle" textLength="129.0" lengthAdjust="spacingAndGlyphs">Chronological age</text>
<text x="820.50" y="814.00" font-size="15" text-anchor="middle" transform="rotate(-90.000 820.50 814.00)" textLength="156.0" lengthAdjust="spacingAndGlyphs">Predicted relative age</text>
<text x="840.00" y="814.00" font-size="15" text-anchor="middle" transform="rotate(-90.000 840.00 814.00)" textLength="163.0" lengthAdjust="spacingAndGlyphs">(stochastic data-based)</text>
<text x="902.00" y="701.60" font-size="14.5" textLength="70.9" lengthAdjust="spacingAndGlyphs">Parabiosis</text>
<line x1="901.00" y1="717.00" x2="916.60" y2="717.00" stroke="#1f77b4" stroke-width="2.6"/>
<text x="922.20" y="721.30" font-size="14.5" textLength="100.7" lengthAdjust="spacingAndGlyphs">Heterochronic</text>
<line x1="901.00" y1="737.60" x2="916.60" y2="737.60" stroke="#ff7f0e" stroke-width="2.6"/>
<text x="922.20" y="741.50" font-size="14.5" textLength="73.1" lengthAdjust="spacingAndGlyphs">Isochronic</text>
</g></svg>
</body></html>
